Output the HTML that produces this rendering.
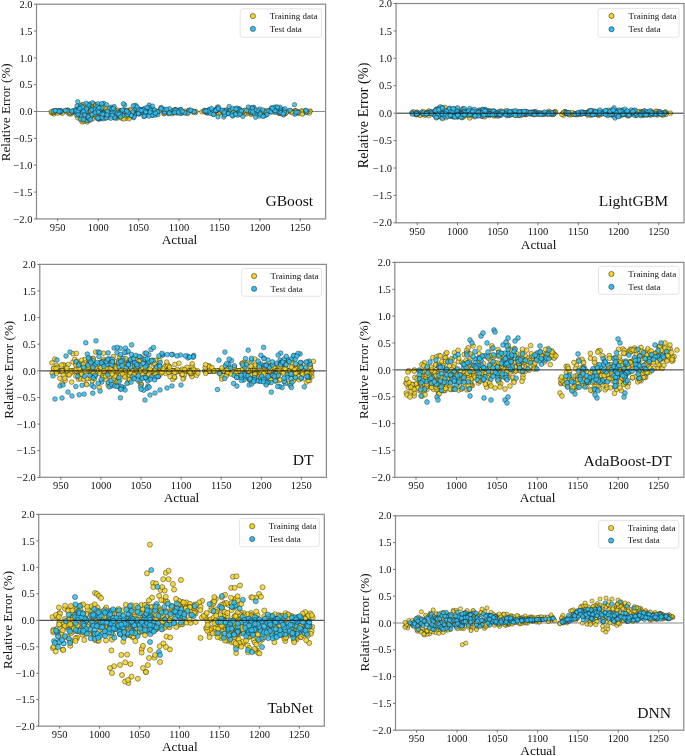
<!DOCTYPE html><html><head><meta charset="utf-8"><style>html,body{margin:0;padding:0;background:#fff;overflow:hidden}svg{display:block;filter:blur(0.4px);}text{font-family:"Liberation Serif",serif;fill:#111;}</style></head><body>
<svg width="685" height="756" viewBox="0 0 685 756">
<rect width="685" height="756" fill="#fff"/>
<clipPath id="cGBoost"><rect x="36.5" y="4.2" width="289.1" height="214.7"/></clipPath>
<line x1="36.5" y1="111.5" x2="325.6" y2="111.5" stroke="#8a8a8a" stroke-width="1.0"/>
<g clip-path="url(#cGBoost)" stroke="#1a1a1a" stroke-opacity="0.85" stroke-width="0.5">
<g fill="#F5D425" fill-opacity="0.85">
<circle cx="67.8" cy="111.6" r="2.25"/><circle cx="122.3" cy="114.5" r="2.25"/><circle cx="137.4" cy="113.4" r="2.25"/><circle cx="53.1" cy="111.1" r="2.25"/><circle cx="70.6" cy="113.0" r="2.25"/><circle cx="185.4" cy="111.1" r="2.25"/><circle cx="59.2" cy="111.4" r="2.25"/><circle cx="67.9" cy="110.2" r="2.25"/><circle cx="188.4" cy="110.8" r="2.25"/><circle cx="140.4" cy="109.7" r="2.25"/><circle cx="103.1" cy="112.4" r="2.25"/><circle cx="124.1" cy="113.9" r="2.25"/><circle cx="146.4" cy="113.5" r="2.25"/><circle cx="89.4" cy="114.5" r="2.25"/><circle cx="69.1" cy="113.7" r="2.25"/><circle cx="164.8" cy="113.0" r="2.25"/><circle cx="147.5" cy="112.3" r="2.25"/><circle cx="124.2" cy="111.5" r="2.25"/><circle cx="169.0" cy="112.6" r="2.25"/><circle cx="129.6" cy="115.3" r="2.25"/><circle cx="193.2" cy="112.2" r="2.25"/><circle cx="78.9" cy="111.1" r="2.25"/><circle cx="130.3" cy="109.5" r="2.25"/><circle cx="120.0" cy="110.7" r="2.25"/><circle cx="100.8" cy="114.2" r="2.25"/><circle cx="135.9" cy="113.7" r="2.25"/><circle cx="83.5" cy="108.2" r="2.25"/><circle cx="166.9" cy="110.6" r="2.25"/><circle cx="176.5" cy="112.0" r="2.25"/><circle cx="67.8" cy="112.5" r="2.25"/><circle cx="117.6" cy="114.4" r="2.25"/><circle cx="89.6" cy="110.2" r="2.25"/><circle cx="61.1" cy="111.5" r="2.25"/><circle cx="180.7" cy="111.1" r="2.25"/><circle cx="112.1" cy="110.7" r="2.25"/><circle cx="70.6" cy="111.8" r="2.25"/><circle cx="147.9" cy="111.7" r="2.25"/><circle cx="78.6" cy="113.0" r="2.25"/><circle cx="181.5" cy="112.3" r="2.25"/><circle cx="80.8" cy="115.7" r="2.25"/><circle cx="53.7" cy="111.9" r="2.25"/><circle cx="78.4" cy="114.4" r="2.25"/><circle cx="99.7" cy="110.5" r="2.25"/><circle cx="117.8" cy="110.1" r="2.25"/><circle cx="182.2" cy="111.6" r="2.25"/><circle cx="151.5" cy="111.4" r="2.25"/><circle cx="98.8" cy="111.8" r="2.25"/><circle cx="51.3" cy="112.7" r="2.25"/><circle cx="72.4" cy="112.3" r="2.25"/><circle cx="195.5" cy="112.7" r="2.25"/><circle cx="116.5" cy="111.1" r="2.25"/><circle cx="150.5" cy="112.1" r="2.25"/><circle cx="56.9" cy="111.4" r="2.25"/><circle cx="53.8" cy="113.9" r="2.25"/><circle cx="173.3" cy="110.4" r="2.25"/><circle cx="135.4" cy="113.8" r="2.25"/><circle cx="94.3" cy="115.1" r="2.25"/><circle cx="95.5" cy="112.9" r="2.25"/><circle cx="62.0" cy="112.9" r="2.25"/><circle cx="74.2" cy="111.6" r="2.25"/><circle cx="52.5" cy="112.9" r="2.25"/><circle cx="172.3" cy="113.8" r="2.25"/><circle cx="117.5" cy="114.4" r="2.25"/><circle cx="67.6" cy="110.2" r="2.25"/><circle cx="157.6" cy="112.0" r="2.25"/><circle cx="77.6" cy="117.8" r="2.25"/><circle cx="57.9" cy="112.1" r="2.25"/><circle cx="136.9" cy="110.4" r="2.25"/><circle cx="180.7" cy="109.8" r="2.25"/><circle cx="52.8" cy="112.6" r="2.25"/><circle cx="167.3" cy="111.2" r="2.25"/><circle cx="76.8" cy="110.0" r="2.25"/><circle cx="62.5" cy="113.2" r="2.25"/><circle cx="51.5" cy="111.7" r="2.25"/><circle cx="92.0" cy="107.7" r="2.25"/><circle cx="155.8" cy="111.1" r="2.25"/><circle cx="121.4" cy="111.4" r="2.25"/><circle cx="174.4" cy="110.3" r="2.25"/><circle cx="80.8" cy="111.4" r="2.25"/><circle cx="95.2" cy="110.9" r="2.25"/><circle cx="86.8" cy="112.7" r="2.25"/><circle cx="192.8" cy="111.1" r="2.25"/><circle cx="187.3" cy="113.4" r="2.25"/><circle cx="99.0" cy="110.0" r="2.25"/><circle cx="113.0" cy="113.6" r="2.25"/><circle cx="95.1" cy="116.4" r="2.25"/><circle cx="158.7" cy="111.3" r="2.25"/><circle cx="54.7" cy="111.5" r="2.25"/><circle cx="58.8" cy="110.9" r="2.25"/><circle cx="108.3" cy="113.7" r="2.25"/><circle cx="84.9" cy="108.9" r="2.25"/><circle cx="173.2" cy="112.8" r="2.25"/><circle cx="158.0" cy="112.3" r="2.25"/><circle cx="129.2" cy="111.9" r="2.25"/><circle cx="146.2" cy="110.0" r="2.25"/><circle cx="150.7" cy="111.7" r="2.25"/><circle cx="163.8" cy="113.8" r="2.25"/><circle cx="185.3" cy="113.1" r="2.25"/><circle cx="70.9" cy="114.1" r="2.25"/><circle cx="141.0" cy="110.0" r="2.25"/><circle cx="70.0" cy="113.5" r="2.25"/><circle cx="114.1" cy="110.0" r="2.25"/><circle cx="164.6" cy="113.5" r="2.25"/><circle cx="180.5" cy="112.1" r="2.25"/><circle cx="160.6" cy="109.9" r="2.25"/><circle cx="54.0" cy="112.4" r="2.25"/><circle cx="101.7" cy="113.2" r="2.25"/><circle cx="72.8" cy="111.9" r="2.25"/><circle cx="195.8" cy="111.4" r="2.25"/><circle cx="70.0" cy="112.7" r="2.25"/><circle cx="84.8" cy="110.7" r="2.25"/><circle cx="101.4" cy="110.6" r="2.25"/><circle cx="57.8" cy="113.3" r="2.25"/><circle cx="176.9" cy="113.1" r="2.25"/><circle cx="142.5" cy="112.5" r="2.25"/><circle cx="72.3" cy="112.4" r="2.25"/><circle cx="122.2" cy="113.0" r="2.25"/><circle cx="60.4" cy="110.8" r="2.25"/><circle cx="138.8" cy="110.7" r="2.25"/><circle cx="82.9" cy="114.1" r="2.25"/><circle cx="54.5" cy="111.2" r="2.25"/><circle cx="65.8" cy="110.8" r="2.25"/><circle cx="130.6" cy="110.4" r="2.25"/><circle cx="142.6" cy="109.7" r="2.25"/><circle cx="96.6" cy="113.5" r="2.25"/><circle cx="143.5" cy="110.4" r="2.25"/><circle cx="100.6" cy="110.0" r="2.25"/><circle cx="68.1" cy="110.9" r="2.25"/><circle cx="95.2" cy="114.5" r="2.25"/><circle cx="107.0" cy="110.5" r="2.25"/><circle cx="97.6" cy="106.9" r="2.25"/><circle cx="94.3" cy="108.9" r="2.25"/><circle cx="97.2" cy="105.8" r="2.25"/><circle cx="88.8" cy="107.5" r="2.25"/><circle cx="87.7" cy="108.6" r="2.25"/><circle cx="94.2" cy="104.0" r="2.25"/><circle cx="91.6" cy="107.5" r="2.25"/><circle cx="98.0" cy="107.4" r="2.25"/><circle cx="104.4" cy="107.4" r="2.25"/><circle cx="101.9" cy="108.7" r="2.25"/><circle cx="88.9" cy="104.4" r="2.25"/><circle cx="88.5" cy="105.6" r="2.25"/><circle cx="104.2" cy="108.0" r="2.25"/><circle cx="89.1" cy="106.8" r="2.25"/><circle cx="100.6" cy="108.8" r="2.25"/><circle cx="80.6" cy="106.8" r="2.25"/><circle cx="90.7" cy="105.0" r="2.25"/><circle cx="92.6" cy="109.0" r="2.25"/><circle cx="100.8" cy="107.5" r="2.25"/><circle cx="102.8" cy="106.9" r="2.25"/><circle cx="82.3" cy="104.6" r="2.25"/><circle cx="95.4" cy="104.8" r="2.25"/><circle cx="95.8" cy="107.3" r="2.25"/><circle cx="82.2" cy="107.4" r="2.25"/><circle cx="101.5" cy="106.5" r="2.25"/><circle cx="93.6" cy="107.1" r="2.25"/><circle cx="105.2" cy="107.5" r="2.25"/><circle cx="83.2" cy="104.6" r="2.25"/><circle cx="92.8" cy="104.1" r="2.25"/><circle cx="87.1" cy="106.0" r="2.25"/><circle cx="96.1" cy="107.0" r="2.25"/><circle cx="95.2" cy="105.9" r="2.25"/><circle cx="92.4" cy="109.2" r="2.25"/><circle cx="87.1" cy="106.4" r="2.25"/><circle cx="92.2" cy="108.0" r="2.25"/><circle cx="88.5" cy="105.8" r="2.25"/><circle cx="103.2" cy="106.3" r="2.25"/><circle cx="91.0" cy="106.2" r="2.25"/><circle cx="91.4" cy="106.7" r="2.25"/><circle cx="85.3" cy="105.5" r="2.25"/><circle cx="127.0" cy="115.8" r="2.25"/><circle cx="115.8" cy="117.1" r="2.25"/><circle cx="129.4" cy="117.2" r="2.25"/><circle cx="108.8" cy="116.8" r="2.25"/><circle cx="122.1" cy="118.5" r="2.25"/><circle cx="92.3" cy="119.0" r="2.25"/><circle cx="125.9" cy="118.3" r="2.25"/><circle cx="105.4" cy="116.8" r="2.25"/><circle cx="125.0" cy="116.8" r="2.25"/><circle cx="100.3" cy="116.7" r="2.25"/><circle cx="113.8" cy="116.0" r="2.25"/><circle cx="123.7" cy="119.0" r="2.25"/><circle cx="117.7" cy="118.1" r="2.25"/><circle cx="113.6" cy="117.2" r="2.25"/><circle cx="129.2" cy="118.8" r="2.25"/><circle cx="89.9" cy="118.4" r="2.25"/><circle cx="90.6" cy="116.2" r="2.25"/><circle cx="110.6" cy="116.0" r="2.25"/><circle cx="128.5" cy="115.9" r="2.25"/><circle cx="116.6" cy="117.3" r="2.25"/><circle cx="99.8" cy="117.9" r="2.25"/><circle cx="90.8" cy="116.1" r="2.25"/><circle cx="106.0" cy="118.0" r="2.25"/><circle cx="107.4" cy="117.0" r="2.25"/><circle cx="106.9" cy="115.7" r="2.25"/><circle cx="83.3" cy="121.8" r="2.25"/><circle cx="83.7" cy="119.0" r="2.25"/><circle cx="87.2" cy="122.0" r="2.25"/><circle cx="82.0" cy="121.9" r="2.25"/><circle cx="84.7" cy="119.1" r="2.25"/><circle cx="86.3" cy="120.3" r="2.25"/><circle cx="89.6" cy="120.4" r="2.25"/><circle cx="81.5" cy="118.5" r="2.25"/><circle cx="81.1" cy="119.5" r="2.25"/><circle cx="82.2" cy="120.0" r="2.25"/><circle cx="82.5" cy="118.8" r="2.25"/><circle cx="81.9" cy="117.4" r="2.25"/><circle cx="301.5" cy="110.8" r="2.25"/><circle cx="213.5" cy="113.5" r="2.25"/><circle cx="222.7" cy="112.6" r="2.25"/><circle cx="264.0" cy="113.0" r="2.25"/><circle cx="263.9" cy="113.2" r="2.25"/><circle cx="310.2" cy="111.0" r="2.25"/><circle cx="309.9" cy="111.5" r="2.25"/><circle cx="266.4" cy="113.1" r="2.25"/><circle cx="285.5" cy="113.5" r="2.25"/><circle cx="278.7" cy="112.8" r="2.25"/><circle cx="215.7" cy="110.6" r="2.25"/><circle cx="268.1" cy="111.9" r="2.25"/><circle cx="235.0" cy="111.7" r="2.25"/><circle cx="240.9" cy="112.6" r="2.25"/><circle cx="218.3" cy="112.5" r="2.25"/><circle cx="201.8" cy="111.8" r="2.25"/><circle cx="296.1" cy="111.0" r="2.25"/><circle cx="280.9" cy="111.1" r="2.25"/><circle cx="284.8" cy="113.3" r="2.25"/><circle cx="233.0" cy="112.9" r="2.25"/><circle cx="247.4" cy="110.1" r="2.25"/><circle cx="220.5" cy="111.8" r="2.25"/><circle cx="268.1" cy="112.0" r="2.25"/><circle cx="294.5" cy="113.0" r="2.25"/><circle cx="287.8" cy="111.4" r="2.25"/><circle cx="305.1" cy="111.8" r="2.25"/><circle cx="229.9" cy="110.3" r="2.25"/><circle cx="279.1" cy="113.4" r="2.25"/><circle cx="215.0" cy="110.0" r="2.25"/><circle cx="260.7" cy="113.8" r="2.25"/><circle cx="213.2" cy="113.2" r="2.25"/><circle cx="261.2" cy="111.3" r="2.25"/><circle cx="261.4" cy="112.1" r="2.25"/><circle cx="239.6" cy="111.0" r="2.25"/><circle cx="239.9" cy="113.2" r="2.25"/><circle cx="280.2" cy="113.6" r="2.25"/><circle cx="254.5" cy="113.3" r="2.25"/><circle cx="246.4" cy="113.9" r="2.25"/><circle cx="213.4" cy="113.7" r="2.25"/><circle cx="232.4" cy="114.2" r="2.25"/><circle cx="295.4" cy="111.6" r="2.25"/><circle cx="309.3" cy="113.1" r="2.25"/><circle cx="242.5" cy="112.8" r="2.25"/><circle cx="298.0" cy="111.8" r="2.25"/><circle cx="298.4" cy="113.3" r="2.25"/><circle cx="225.2" cy="114.0" r="2.25"/><circle cx="231.4" cy="110.2" r="2.25"/><circle cx="278.5" cy="110.3" r="2.25"/><circle cx="235.0" cy="113.8" r="2.25"/><circle cx="307.5" cy="112.4" r="2.25"/><circle cx="241.6" cy="113.6" r="2.25"/><circle cx="282.4" cy="110.4" r="2.25"/><circle cx="279.8" cy="112.6" r="2.25"/><circle cx="224.7" cy="113.3" r="2.25"/><circle cx="297.5" cy="112.1" r="2.25"/><circle cx="237.5" cy="110.3" r="2.25"/><circle cx="213.1" cy="114.2" r="2.25"/><circle cx="206.5" cy="112.7" r="2.25"/><circle cx="251.3" cy="114.2" r="2.25"/><circle cx="271.5" cy="110.6" r="2.25"/><circle cx="231.1" cy="112.7" r="2.25"/><circle cx="294.8" cy="110.7" r="2.25"/><circle cx="230.7" cy="112.3" r="2.25"/><circle cx="295.4" cy="111.1" r="2.25"/><circle cx="204.6" cy="110.3" r="2.25"/><circle cx="230.2" cy="111.7" r="2.25"/><circle cx="218.7" cy="114.1" r="2.25"/><circle cx="250.8" cy="114.1" r="2.25"/><circle cx="240.0" cy="113.1" r="2.25"/><circle cx="244.9" cy="112.6" r="2.25"/><circle cx="295.9" cy="111.2" r="2.25"/><circle cx="265.5" cy="111.0" r="2.25"/><circle cx="268.4" cy="111.7" r="2.25"/><circle cx="244.4" cy="113.5" r="2.25"/><circle cx="291.0" cy="111.1" r="2.25"/><circle cx="256.9" cy="112.3" r="2.25"/><circle cx="284.1" cy="110.3" r="2.25"/><circle cx="302.9" cy="113.5" r="2.25"/><circle cx="269.2" cy="111.1" r="2.25"/><circle cx="249.4" cy="112.8" r="2.25"/><circle cx="230.3" cy="110.9" r="2.25"/><circle cx="302.6" cy="111.4" r="2.25"/><circle cx="286.2" cy="112.4" r="2.25"/><circle cx="290.1" cy="110.8" r="2.25"/><circle cx="225.6" cy="111.3" r="2.25"/><circle cx="249.6" cy="111.4" r="2.25"/><circle cx="299.5" cy="112.9" r="2.25"/><circle cx="228.3" cy="112.0" r="2.25"/><circle cx="291.7" cy="111.8" r="2.25"/><circle cx="261.0" cy="113.1" r="2.25"/><circle cx="225.3" cy="113.8" r="2.25"/><circle cx="242.8" cy="111.9" r="2.25"/><circle cx="209.4" cy="110.6" r="2.25"/><circle cx="276.0" cy="111.1" r="2.25"/><circle cx="282.0" cy="111.3" r="2.25"/><circle cx="204.1" cy="111.3" r="2.25"/><circle cx="234.5" cy="111.3" r="2.25"/><circle cx="286.7" cy="111.7" r="2.25"/><circle cx="223.2" cy="110.5" r="2.25"/><circle cx="260.8" cy="112.7" r="2.25"/><circle cx="290.8" cy="112.0" r="2.25"/><circle cx="264.5" cy="111.7" r="2.25"/><circle cx="214.5" cy="110.5" r="2.25"/><circle cx="302.3" cy="114.2" r="2.25"/><circle cx="284.2" cy="111.6" r="2.25"/><circle cx="263.9" cy="111.5" r="2.25"/><circle cx="238.0" cy="112.0" r="2.25"/><circle cx="265.8" cy="113.9" r="2.25"/><circle cx="244.6" cy="110.4" r="2.25"/><circle cx="214.1" cy="112.5" r="2.25"/><circle cx="214.5" cy="114.0" r="2.25"/><circle cx="205.9" cy="112.3" r="2.25"/><circle cx="219.9" cy="112.0" r="2.25"/><circle cx="228.3" cy="113.6" r="2.25"/><circle cx="271.8" cy="112.1" r="2.25"/><circle cx="265.6" cy="113.5" r="2.25"/><circle cx="266.8" cy="110.5" r="2.25"/><circle cx="292.6" cy="112.9" r="2.25"/><circle cx="211.5" cy="111.7" r="2.25"/><circle cx="244.3" cy="111.2" r="2.25"/><circle cx="209.7" cy="110.0" r="2.25"/><circle cx="247.6" cy="110.7" r="2.25"/><circle cx="209.7" cy="111.7" r="2.25"/><circle cx="208.3" cy="112.0" r="2.25"/><circle cx="212.5" cy="112.2" r="2.25"/><circle cx="244.4" cy="110.4" r="2.25"/><circle cx="286.0" cy="113.1" r="2.25"/><circle cx="232.3" cy="111.3" r="2.25"/><circle cx="283.6" cy="112.2" r="2.25"/><circle cx="226.9" cy="111.7" r="2.25"/>
</g>
<g fill="#30BEF0" fill-opacity="0.85">
<circle cx="67.0" cy="110.7" r="2.25"/><circle cx="72.0" cy="112.0" r="2.25"/><circle cx="65.2" cy="110.4" r="2.25"/><circle cx="61.0" cy="110.8" r="2.25"/><circle cx="74.6" cy="111.4" r="2.25"/><circle cx="56.1" cy="110.7" r="2.25"/><circle cx="53.1" cy="111.1" r="2.25"/><circle cx="73.4" cy="110.7" r="2.25"/><circle cx="58.3" cy="111.2" r="2.25"/><circle cx="55.6" cy="110.7" r="2.25"/><circle cx="61.1" cy="111.7" r="2.25"/><circle cx="60.1" cy="111.9" r="2.25"/><circle cx="60.4" cy="111.0" r="2.25"/><circle cx="72.0" cy="110.9" r="2.25"/><circle cx="58.9" cy="111.2" r="2.25"/><circle cx="55.2" cy="110.6" r="2.25"/><circle cx="124.7" cy="105.1" r="2.25"/><circle cx="180.2" cy="109.6" r="2.25"/><circle cx="77.8" cy="101.7" r="2.25"/><circle cx="87.5" cy="120.5" r="2.25"/><circle cx="80.3" cy="119.0" r="2.25"/><circle cx="116.4" cy="116.1" r="2.25"/><circle cx="111.1" cy="107.2" r="2.25"/><circle cx="166.9" cy="110.4" r="2.25"/><circle cx="81.3" cy="110.1" r="2.25"/><circle cx="93.4" cy="109.2" r="2.25"/><circle cx="180.2" cy="110.4" r="2.25"/><circle cx="77.0" cy="106.0" r="2.25"/><circle cx="99.1" cy="119.3" r="2.25"/><circle cx="112.0" cy="111.8" r="2.25"/><circle cx="75.6" cy="109.7" r="2.25"/><circle cx="101.5" cy="111.3" r="2.25"/><circle cx="133.6" cy="117.6" r="2.25"/><circle cx="135.0" cy="114.6" r="2.25"/><circle cx="134.2" cy="116.9" r="2.25"/><circle cx="138.8" cy="110.4" r="2.25"/><circle cx="135.0" cy="105.9" r="2.25"/><circle cx="78.4" cy="115.0" r="2.25"/><circle cx="139.2" cy="113.5" r="2.25"/><circle cx="131.6" cy="113.9" r="2.25"/><circle cx="95.2" cy="110.6" r="2.25"/><circle cx="114.4" cy="114.5" r="2.25"/><circle cx="96.7" cy="108.5" r="2.25"/><circle cx="166.7" cy="110.6" r="2.25"/><circle cx="100.6" cy="109.2" r="2.25"/><circle cx="89.9" cy="105.9" r="2.25"/><circle cx="156.0" cy="111.3" r="2.25"/><circle cx="151.4" cy="110.5" r="2.25"/><circle cx="163.9" cy="112.1" r="2.25"/><circle cx="141.7" cy="111.7" r="2.25"/><circle cx="114.2" cy="106.6" r="2.25"/><circle cx="120.3" cy="111.2" r="2.25"/><circle cx="128.7" cy="113.8" r="2.25"/><circle cx="132.8" cy="113.7" r="2.25"/><circle cx="181.6" cy="113.0" r="2.25"/><circle cx="99.4" cy="111.5" r="2.25"/><circle cx="152.2" cy="113.5" r="2.25"/><circle cx="76.6" cy="115.0" r="2.25"/><circle cx="92.4" cy="102.7" r="2.25"/><circle cx="181.4" cy="111.8" r="2.25"/><circle cx="97.9" cy="103.7" r="2.25"/><circle cx="123.9" cy="110.0" r="2.25"/><circle cx="175.7" cy="109.7" r="2.25"/><circle cx="139.0" cy="114.1" r="2.25"/><circle cx="121.6" cy="110.7" r="2.25"/><circle cx="144.6" cy="114.8" r="2.25"/><circle cx="189.4" cy="110.3" r="2.25"/><circle cx="180.9" cy="109.6" r="2.25"/><circle cx="91.7" cy="109.9" r="2.25"/><circle cx="87.9" cy="105.1" r="2.25"/><circle cx="101.7" cy="118.4" r="2.25"/><circle cx="88.5" cy="118.1" r="2.25"/><circle cx="151.7" cy="108.4" r="2.25"/><circle cx="160.9" cy="108.2" r="2.25"/><circle cx="87.9" cy="114.8" r="2.25"/><circle cx="81.8" cy="113.1" r="2.25"/><circle cx="105.2" cy="113.7" r="2.25"/><circle cx="142.8" cy="112.3" r="2.25"/><circle cx="152.7" cy="115.4" r="2.25"/><circle cx="118.9" cy="115.9" r="2.25"/><circle cx="137.6" cy="111.9" r="2.25"/><circle cx="175.7" cy="109.7" r="2.25"/><circle cx="168.7" cy="113.7" r="2.25"/><circle cx="85.6" cy="117.0" r="2.25"/><circle cx="145.6" cy="115.5" r="2.25"/><circle cx="153.1" cy="109.7" r="2.25"/><circle cx="173.9" cy="112.5" r="2.25"/><circle cx="114.4" cy="112.1" r="2.25"/><circle cx="89.4" cy="119.2" r="2.25"/><circle cx="119.9" cy="115.5" r="2.25"/><circle cx="109.7" cy="108.4" r="2.25"/><circle cx="112.2" cy="109.4" r="2.25"/><circle cx="156.9" cy="112.9" r="2.25"/><circle cx="138.9" cy="109.8" r="2.25"/><circle cx="142.2" cy="110.8" r="2.25"/><circle cx="139.2" cy="110.9" r="2.25"/><circle cx="88.1" cy="106.8" r="2.25"/><circle cx="80.8" cy="115.0" r="2.25"/><circle cx="112.0" cy="109.1" r="2.25"/><circle cx="163.8" cy="110.1" r="2.25"/><circle cx="138.5" cy="112.7" r="2.25"/><circle cx="155.3" cy="115.1" r="2.25"/><circle cx="135.8" cy="108.1" r="2.25"/><circle cx="154.4" cy="109.9" r="2.25"/><circle cx="194.4" cy="111.5" r="2.25"/><circle cx="145.8" cy="111.6" r="2.25"/><circle cx="165.6" cy="111.6" r="2.25"/><circle cx="188.2" cy="112.9" r="2.25"/><circle cx="149.0" cy="109.9" r="2.25"/><circle cx="157.9" cy="114.8" r="2.25"/><circle cx="82.5" cy="112.1" r="2.25"/><circle cx="78.4" cy="109.0" r="2.25"/><circle cx="176.9" cy="112.3" r="2.25"/><circle cx="96.7" cy="106.9" r="2.25"/><circle cx="103.5" cy="113.3" r="2.25"/><circle cx="87.6" cy="115.6" r="2.25"/><circle cx="136.9" cy="109.1" r="2.25"/><circle cx="78.0" cy="114.1" r="2.25"/><circle cx="156.1" cy="112.9" r="2.25"/><circle cx="102.6" cy="114.2" r="2.25"/><circle cx="149.2" cy="105.0" r="2.25"/><circle cx="174.5" cy="110.2" r="2.25"/><circle cx="143.3" cy="109.4" r="2.25"/><circle cx="115.1" cy="118.3" r="2.25"/><circle cx="135.7" cy="108.6" r="2.25"/><circle cx="164.6" cy="112.1" r="2.25"/><circle cx="145.5" cy="109.2" r="2.25"/><circle cx="98.5" cy="118.6" r="2.25"/><circle cx="76.1" cy="110.9" r="2.25"/><circle cx="168.4" cy="111.1" r="2.25"/><circle cx="135.7" cy="105.4" r="2.25"/><circle cx="80.8" cy="105.6" r="2.25"/><circle cx="127.9" cy="114.7" r="2.25"/><circle cx="132.1" cy="113.0" r="2.25"/><circle cx="102.3" cy="117.6" r="2.25"/><circle cx="169.6" cy="108.7" r="2.25"/><circle cx="97.2" cy="112.1" r="2.25"/><circle cx="88.1" cy="116.0" r="2.25"/><circle cx="103.6" cy="118.8" r="2.25"/><circle cx="106.4" cy="117.8" r="2.25"/><circle cx="169.4" cy="113.1" r="2.25"/><circle cx="139.4" cy="109.2" r="2.25"/><circle cx="86.2" cy="111.0" r="2.25"/><circle cx="112.1" cy="113.1" r="2.25"/><circle cx="84.6" cy="114.8" r="2.25"/><circle cx="144.7" cy="108.4" r="2.25"/><circle cx="164.2" cy="109.3" r="2.25"/><circle cx="83.6" cy="119.5" r="2.25"/><circle cx="122.6" cy="115.5" r="2.25"/><circle cx="97.3" cy="118.6" r="2.25"/><circle cx="101.5" cy="113.6" r="2.25"/><circle cx="149.6" cy="109.0" r="2.25"/><circle cx="189.3" cy="110.2" r="2.25"/><circle cx="100.7" cy="114.0" r="2.25"/><circle cx="127.0" cy="110.3" r="2.25"/><circle cx="103.6" cy="103.3" r="2.25"/><circle cx="80.8" cy="107.1" r="2.25"/><circle cx="133.4" cy="105.8" r="2.25"/><circle cx="89.4" cy="104.3" r="2.25"/><circle cx="142.9" cy="110.6" r="2.25"/><circle cx="149.5" cy="107.9" r="2.25"/><circle cx="88.0" cy="105.1" r="2.25"/><circle cx="132.7" cy="112.0" r="2.25"/><circle cx="94.0" cy="114.3" r="2.25"/><circle cx="151.8" cy="112.6" r="2.25"/><circle cx="101.7" cy="117.4" r="2.25"/><circle cx="143.1" cy="110.0" r="2.25"/><circle cx="138.5" cy="109.7" r="2.25"/><circle cx="130.8" cy="115.0" r="2.25"/><circle cx="95.1" cy="109.3" r="2.25"/><circle cx="161.2" cy="107.4" r="2.25"/><circle cx="108.3" cy="115.1" r="2.25"/><circle cx="152.5" cy="106.1" r="2.25"/><circle cx="120.2" cy="112.5" r="2.25"/><circle cx="117.6" cy="112.5" r="2.25"/><circle cx="145.6" cy="112.0" r="2.25"/><circle cx="106.6" cy="104.7" r="2.25"/><circle cx="151.8" cy="115.4" r="2.25"/><circle cx="117.2" cy="113.8" r="2.25"/><circle cx="148.9" cy="107.8" r="2.25"/><circle cx="143.9" cy="116.5" r="2.25"/><circle cx="181.6" cy="113.2" r="2.25"/><circle cx="113.4" cy="108.4" r="2.25"/><circle cx="107.6" cy="111.9" r="2.25"/><circle cx="194.1" cy="111.8" r="2.25"/><circle cx="124.4" cy="111.1" r="2.25"/><circle cx="114.6" cy="117.2" r="2.25"/><circle cx="144.3" cy="116.2" r="2.25"/><circle cx="98.0" cy="117.9" r="2.25"/><circle cx="184.5" cy="112.4" r="2.25"/><circle cx="150.4" cy="110.2" r="2.25"/><circle cx="138.4" cy="113.6" r="2.25"/><circle cx="101.9" cy="107.8" r="2.25"/><circle cx="157.6" cy="111.7" r="2.25"/><circle cx="176.0" cy="110.4" r="2.25"/><circle cx="155.3" cy="113.2" r="2.25"/><circle cx="174.9" cy="112.6" r="2.25"/><circle cx="83.7" cy="110.8" r="2.25"/><circle cx="148.9" cy="116.1" r="2.25"/><circle cx="166.5" cy="109.3" r="2.25"/><circle cx="120.2" cy="113.8" r="2.25"/><circle cx="82.5" cy="107.2" r="2.25"/><circle cx="127.1" cy="111.1" r="2.25"/><circle cx="97.5" cy="110.2" r="2.25"/><circle cx="78.2" cy="110.9" r="2.25"/><circle cx="179.5" cy="113.3" r="2.25"/><circle cx="161.1" cy="108.7" r="2.25"/><circle cx="137.1" cy="106.8" r="2.25"/><circle cx="150.0" cy="112.2" r="2.25"/><circle cx="141.1" cy="110.5" r="2.25"/><circle cx="118.9" cy="114.3" r="2.25"/><circle cx="86.1" cy="103.2" r="2.25"/><circle cx="101.7" cy="103.7" r="2.25"/><circle cx="123.3" cy="103.7" r="2.25"/><circle cx="131.3" cy="115.6" r="2.25"/><circle cx="102.9" cy="114.2" r="2.25"/><circle cx="86.5" cy="108.8" r="2.25"/><circle cx="107.0" cy="114.9" r="2.25"/><circle cx="92.0" cy="114.6" r="2.25"/><circle cx="178.5" cy="112.1" r="2.25"/><circle cx="95.3" cy="112.5" r="2.25"/><circle cx="112.2" cy="115.4" r="2.25"/><circle cx="127.2" cy="114.7" r="2.25"/><circle cx="98.4" cy="112.0" r="2.25"/><circle cx="122.4" cy="110.0" r="2.25"/><circle cx="128.2" cy="112.6" r="2.25"/><circle cx="79.8" cy="108.6" r="2.25"/><circle cx="182.3" cy="111.3" r="2.25"/><circle cx="126.7" cy="111.0" r="2.25"/><circle cx="88.4" cy="117.1" r="2.25"/><circle cx="190.8" cy="110.2" r="2.25"/><circle cx="90.6" cy="119.5" r="2.25"/><circle cx="147.1" cy="107.5" r="2.25"/><circle cx="120.7" cy="117.0" r="2.25"/><circle cx="99.0" cy="107.8" r="2.25"/><circle cx="110.8" cy="118.3" r="2.25"/><circle cx="281.2" cy="109.4" r="2.25"/><circle cx="230.2" cy="109.9" r="2.25"/><circle cx="275.2" cy="112.4" r="2.25"/><circle cx="290.0" cy="110.3" r="2.25"/><circle cx="217.4" cy="107.2" r="2.25"/><circle cx="238.5" cy="112.5" r="2.25"/><circle cx="295.8" cy="113.2" r="2.25"/><circle cx="253.8" cy="107.3" r="2.25"/><circle cx="220.9" cy="110.2" r="2.25"/><circle cx="214.4" cy="111.7" r="2.25"/><circle cx="218.0" cy="116.9" r="2.25"/><circle cx="216.3" cy="110.7" r="2.25"/><circle cx="241.6" cy="111.7" r="2.25"/><circle cx="283.6" cy="110.3" r="2.25"/><circle cx="251.1" cy="112.6" r="2.25"/><circle cx="215.5" cy="110.5" r="2.25"/><circle cx="240.9" cy="110.6" r="2.25"/><circle cx="254.3" cy="113.6" r="2.25"/><circle cx="250.8" cy="112.0" r="2.25"/><circle cx="270.1" cy="110.2" r="2.25"/><circle cx="274.1" cy="110.0" r="2.25"/><circle cx="281.0" cy="109.4" r="2.25"/><circle cx="259.6" cy="109.0" r="2.25"/><circle cx="207.3" cy="111.0" r="2.25"/><circle cx="283.0" cy="109.5" r="2.25"/><circle cx="284.4" cy="112.2" r="2.25"/><circle cx="279.1" cy="111.9" r="2.25"/><circle cx="249.7" cy="108.1" r="2.25"/><circle cx="295.0" cy="114.2" r="2.25"/><circle cx="215.2" cy="110.2" r="2.25"/><circle cx="280.2" cy="108.8" r="2.25"/><circle cx="265.8" cy="115.3" r="2.25"/><circle cx="276.1" cy="107.1" r="2.25"/><circle cx="212.2" cy="110.0" r="2.25"/><circle cx="305.5" cy="110.6" r="2.25"/><circle cx="207.3" cy="112.9" r="2.25"/><circle cx="223.4" cy="112.0" r="2.25"/><circle cx="257.5" cy="114.8" r="2.25"/><circle cx="263.4" cy="116.0" r="2.25"/><circle cx="223.7" cy="117.0" r="2.25"/><circle cx="234.5" cy="109.0" r="2.25"/><circle cx="298.1" cy="112.2" r="2.25"/><circle cx="238.1" cy="111.3" r="2.25"/><circle cx="250.5" cy="110.6" r="2.25"/><circle cx="216.9" cy="110.1" r="2.25"/><circle cx="262.7" cy="109.9" r="2.25"/><circle cx="276.2" cy="111.0" r="2.25"/><circle cx="280.0" cy="107.2" r="2.25"/><circle cx="229.2" cy="106.5" r="2.25"/><circle cx="242.8" cy="116.4" r="2.25"/><circle cx="271.5" cy="107.8" r="2.25"/><circle cx="306.1" cy="112.2" r="2.25"/><circle cx="283.1" cy="112.0" r="2.25"/><circle cx="227.6" cy="113.5" r="2.25"/><circle cx="212.0" cy="112.3" r="2.25"/><circle cx="238.6" cy="111.5" r="2.25"/><circle cx="259.1" cy="112.5" r="2.25"/><circle cx="232.9" cy="116.1" r="2.25"/><circle cx="285.0" cy="108.8" r="2.25"/><circle cx="231.6" cy="113.9" r="2.25"/><circle cx="218.3" cy="107.0" r="2.25"/><circle cx="266.3" cy="112.0" r="2.25"/><circle cx="282.0" cy="113.5" r="2.25"/><circle cx="226.3" cy="109.9" r="2.25"/><circle cx="239.2" cy="108.6" r="2.25"/><circle cx="231.9" cy="115.3" r="2.25"/><circle cx="207.5" cy="111.9" r="2.25"/><circle cx="274.5" cy="107.2" r="2.25"/><circle cx="210.4" cy="113.4" r="2.25"/><circle cx="267.2" cy="114.4" r="2.25"/><circle cx="268.8" cy="111.0" r="2.25"/><circle cx="259.1" cy="116.1" r="2.25"/><circle cx="209.2" cy="109.4" r="2.25"/><circle cx="208.4" cy="111.0" r="2.25"/><circle cx="257.3" cy="110.4" r="2.25"/><circle cx="254.9" cy="109.6" r="2.25"/><circle cx="205.3" cy="110.8" r="2.25"/><circle cx="204.5" cy="111.1" r="2.25"/><circle cx="283.5" cy="114.9" r="2.25"/><circle cx="238.4" cy="109.3" r="2.25"/><circle cx="277.7" cy="108.0" r="2.25"/><circle cx="225.7" cy="114.2" r="2.25"/><circle cx="232.5" cy="108.4" r="2.25"/><circle cx="296.1" cy="112.2" r="2.25"/><circle cx="225.5" cy="110.8" r="2.25"/><circle cx="246.7" cy="110.3" r="2.25"/><circle cx="255.6" cy="117.3" r="2.25"/><circle cx="277.3" cy="107.0" r="2.25"/><circle cx="237.8" cy="115.2" r="2.25"/><circle cx="271.0" cy="111.8" r="2.25"/><circle cx="228.0" cy="113.4" r="2.25"/><circle cx="274.1" cy="110.1" r="2.25"/><circle cx="206.0" cy="111.0" r="2.25"/><circle cx="224.6" cy="111.3" r="2.25"/><circle cx="211.4" cy="108.5" r="2.25"/><circle cx="215.7" cy="110.6" r="2.25"/><circle cx="280.9" cy="112.6" r="2.25"/><circle cx="252.4" cy="107.6" r="2.25"/><circle cx="284.6" cy="112.2" r="2.25"/><circle cx="306.4" cy="111.8" r="2.25"/><circle cx="224.6" cy="114.9" r="2.25"/><circle cx="283.2" cy="113.9" r="2.25"/><circle cx="305.9" cy="110.3" r="2.25"/><circle cx="236.8" cy="108.1" r="2.25"/><circle cx="213.5" cy="114.4" r="2.25"/><circle cx="252.3" cy="108.1" r="2.25"/><circle cx="260.3" cy="114.1" r="2.25"/><circle cx="275.0" cy="110.7" r="2.25"/><circle cx="263.1" cy="116.4" r="2.25"/><circle cx="236.0" cy="109.1" r="2.25"/><circle cx="222.0" cy="110.2" r="2.25"/><circle cx="239.9" cy="114.1" r="2.25"/><circle cx="252.7" cy="111.8" r="2.25"/><circle cx="224.1" cy="112.4" r="2.25"/><circle cx="235.7" cy="114.2" r="2.25"/><circle cx="294.5" cy="104.7" r="2.25"/><circle cx="248.4" cy="107.0" r="2.25"/><circle cx="218.3" cy="108.7" r="2.25"/><circle cx="272.6" cy="108.3" r="2.25"/><circle cx="241.4" cy="110.9" r="2.25"/>
</g>
</g>
<rect x="36.5" y="4.2" width="289.1" height="214.7" fill="none" stroke="#8c8c8c" stroke-width="1.25"/>
<line x1="34.0" y1="4.2" x2="36.5" y2="4.2" stroke="#555" stroke-width="0.8"/>
<text x="32.5" y="7.8" font-size="10.5" text-anchor="end">2.0</text>
<line x1="34.0" y1="31.0" x2="36.5" y2="31.0" stroke="#555" stroke-width="0.8"/>
<text x="32.5" y="34.6" font-size="10.5" text-anchor="end">1.5</text>
<line x1="34.0" y1="57.9" x2="36.5" y2="57.9" stroke="#555" stroke-width="0.8"/>
<text x="32.5" y="61.5" font-size="10.5" text-anchor="end">1.0</text>
<line x1="34.0" y1="84.7" x2="36.5" y2="84.7" stroke="#555" stroke-width="0.8"/>
<text x="32.5" y="88.3" font-size="10.5" text-anchor="end">0.5</text>
<line x1="34.0" y1="111.5" x2="36.5" y2="111.5" stroke="#555" stroke-width="0.8"/>
<text x="32.5" y="115.1" font-size="10.5" text-anchor="end">0.0</text>
<line x1="34.0" y1="138.4" x2="36.5" y2="138.4" stroke="#555" stroke-width="0.8"/>
<text x="32.5" y="142.0" font-size="10.5" text-anchor="end">−0.5</text>
<line x1="34.0" y1="165.2" x2="36.5" y2="165.2" stroke="#555" stroke-width="0.8"/>
<text x="32.5" y="168.8" font-size="10.5" text-anchor="end">−1.0</text>
<line x1="34.0" y1="192.1" x2="36.5" y2="192.1" stroke="#555" stroke-width="0.8"/>
<text x="32.5" y="195.7" font-size="10.5" text-anchor="end">−1.5</text>
<line x1="34.0" y1="218.9" x2="36.5" y2="218.9" stroke="#555" stroke-width="0.8"/>
<text x="32.5" y="222.5" font-size="10.5" text-anchor="end">−2.0</text>
<line x1="57.7" y1="218.9" x2="57.7" y2="221.4" stroke="#555" stroke-width="0.8"/>
<text x="57.7" y="230.9" font-size="10.5" text-anchor="middle">950</text>
<line x1="98.2" y1="218.9" x2="98.2" y2="221.4" stroke="#555" stroke-width="0.8"/>
<text x="98.2" y="230.9" font-size="10.5" text-anchor="middle">1000</text>
<line x1="138.6" y1="218.9" x2="138.6" y2="221.4" stroke="#555" stroke-width="0.8"/>
<text x="138.6" y="230.9" font-size="10.5" text-anchor="middle">1050</text>
<line x1="179.0" y1="218.9" x2="179.0" y2="221.4" stroke="#555" stroke-width="0.8"/>
<text x="179.0" y="230.9" font-size="10.5" text-anchor="middle">1100</text>
<line x1="219.5" y1="218.9" x2="219.5" y2="221.4" stroke="#555" stroke-width="0.8"/>
<text x="219.5" y="230.9" font-size="10.5" text-anchor="middle">1150</text>
<line x1="259.9" y1="218.9" x2="259.9" y2="221.4" stroke="#555" stroke-width="0.8"/>
<text x="259.9" y="230.9" font-size="10.5" text-anchor="middle">1200</text>
<line x1="300.3" y1="218.9" x2="300.3" y2="221.4" stroke="#555" stroke-width="0.8"/>
<text x="300.3" y="230.9" font-size="10.5" text-anchor="middle">1250</text>
<text x="179.5" y="244.4" font-size="13.4" text-anchor="middle">Actual</text>
<text transform="translate(10.3,112.3) rotate(-90)" font-size="13.2" text-anchor="middle">Relative Error (%)</text>
<text x="313.1" y="206.3" font-size="15.6" text-anchor="end">GBoost</text>
<rect x="240.2" y="8.8" width="81.3" height="28.4" rx="2" fill="#fff" fill-opacity="0.8" stroke="#ddd" stroke-width="0.8"/>
<circle cx="252.9" cy="16.1" r="2.6" fill="#F5D425" stroke="#1a1a1a" stroke-width="0.5"/>
<circle cx="252.9" cy="28.8" r="2.6" fill="#30BEF0" stroke="#1a1a1a" stroke-width="0.5"/>
<text x="269.7" y="18.8" font-size="9">Training data</text>
<text x="269.7" y="31.5" font-size="9">Test data</text>
<clipPath id="cLightGBM"><rect x="396.1" y="3.5" width="287.9" height="219.3"/></clipPath>
<g clip-path="url(#cLightGBM)" stroke="#1a1a1a" stroke-opacity="0.85" stroke-width="0.5">
<g fill="#F5D425" fill-opacity="0.85">
<circle cx="462.9" cy="109.0" r="2.4"/><circle cx="438.4" cy="109.4" r="2.4"/><circle cx="422.2" cy="112.9" r="2.4"/><circle cx="504.9" cy="113.3" r="2.4"/><circle cx="476.5" cy="112.5" r="2.4"/><circle cx="553.9" cy="113.6" r="2.4"/><circle cx="534.0" cy="114.4" r="2.4"/><circle cx="531.9" cy="112.2" r="2.4"/><circle cx="416.7" cy="112.1" r="2.4"/><circle cx="490.6" cy="114.4" r="2.4"/><circle cx="498.2" cy="114.0" r="2.4"/><circle cx="416.5" cy="114.1" r="2.4"/><circle cx="479.1" cy="115.2" r="2.4"/><circle cx="457.5" cy="116.8" r="2.4"/><circle cx="440.9" cy="116.9" r="2.4"/><circle cx="526.0" cy="111.7" r="2.4"/><circle cx="470.9" cy="114.3" r="2.4"/><circle cx="424.3" cy="113.0" r="2.4"/><circle cx="463.3" cy="117.0" r="2.4"/><circle cx="543.3" cy="113.8" r="2.4"/><circle cx="466.3" cy="111.2" r="2.4"/><circle cx="436.6" cy="117.5" r="2.4"/><circle cx="419.0" cy="114.2" r="2.4"/><circle cx="484.3" cy="111.3" r="2.4"/><circle cx="507.0" cy="113.7" r="2.4"/><circle cx="469.7" cy="117.9" r="2.4"/><circle cx="533.5" cy="113.8" r="2.4"/><circle cx="486.1" cy="112.3" r="2.4"/><circle cx="526.1" cy="114.7" r="2.4"/><circle cx="492.0" cy="111.6" r="2.4"/><circle cx="495.8" cy="112.6" r="2.4"/><circle cx="469.6" cy="114.2" r="2.4"/><circle cx="425.3" cy="113.3" r="2.4"/><circle cx="512.5" cy="111.8" r="2.4"/><circle cx="535.0" cy="113.1" r="2.4"/><circle cx="515.5" cy="114.9" r="2.4"/><circle cx="470.7" cy="112.1" r="2.4"/><circle cx="422.0" cy="113.7" r="2.4"/><circle cx="436.4" cy="113.9" r="2.4"/><circle cx="490.0" cy="111.8" r="2.4"/><circle cx="505.8" cy="112.5" r="2.4"/><circle cx="413.1" cy="111.8" r="2.4"/><circle cx="547.4" cy="113.4" r="2.4"/><circle cx="513.9" cy="114.0" r="2.4"/><circle cx="515.1" cy="113.8" r="2.4"/><circle cx="554.0" cy="112.7" r="2.4"/><circle cx="500.2" cy="114.8" r="2.4"/><circle cx="481.4" cy="114.2" r="2.4"/><circle cx="442.1" cy="116.9" r="2.4"/><circle cx="509.6" cy="114.6" r="2.4"/><circle cx="511.7" cy="113.5" r="2.4"/><circle cx="548.8" cy="111.3" r="2.4"/><circle cx="546.1" cy="113.7" r="2.4"/><circle cx="481.2" cy="112.4" r="2.4"/><circle cx="534.1" cy="113.0" r="2.4"/><circle cx="549.6" cy="113.4" r="2.4"/><circle cx="470.3" cy="113.1" r="2.4"/><circle cx="498.1" cy="115.6" r="2.4"/><circle cx="496.2" cy="113.7" r="2.4"/><circle cx="479.6" cy="112.9" r="2.4"/><circle cx="477.9" cy="111.3" r="2.4"/><circle cx="441.7" cy="117.0" r="2.4"/><circle cx="436.7" cy="115.2" r="2.4"/><circle cx="454.4" cy="114.9" r="2.4"/><circle cx="496.0" cy="115.5" r="2.4"/><circle cx="505.8" cy="110.9" r="2.4"/><circle cx="529.3" cy="112.5" r="2.4"/><circle cx="451.2" cy="111.0" r="2.4"/><circle cx="484.8" cy="115.8" r="2.4"/><circle cx="475.6" cy="111.8" r="2.4"/><circle cx="434.2" cy="114.1" r="2.4"/><circle cx="553.1" cy="114.5" r="2.4"/><circle cx="458.4" cy="113.5" r="2.4"/><circle cx="510.4" cy="112.6" r="2.4"/><circle cx="510.5" cy="112.4" r="2.4"/><circle cx="522.2" cy="113.9" r="2.4"/><circle cx="531.3" cy="113.7" r="2.4"/><circle cx="547.9" cy="113.6" r="2.4"/><circle cx="456.2" cy="109.9" r="2.4"/><circle cx="507.1" cy="114.5" r="2.4"/><circle cx="455.6" cy="113.8" r="2.4"/><circle cx="452.8" cy="111.9" r="2.4"/><circle cx="525.4" cy="113.8" r="2.4"/><circle cx="519.0" cy="115.5" r="2.4"/><circle cx="516.5" cy="115.2" r="2.4"/><circle cx="427.2" cy="113.8" r="2.4"/><circle cx="550.9" cy="114.3" r="2.4"/><circle cx="501.3" cy="111.2" r="2.4"/><circle cx="477.3" cy="113.1" r="2.4"/><circle cx="543.0" cy="113.2" r="2.4"/><circle cx="425.6" cy="114.8" r="2.4"/><circle cx="453.3" cy="111.1" r="2.4"/><circle cx="430.2" cy="113.7" r="2.4"/><circle cx="457.2" cy="116.7" r="2.4"/><circle cx="524.5" cy="114.2" r="2.4"/><circle cx="431.1" cy="113.4" r="2.4"/><circle cx="520.8" cy="114.2" r="2.4"/><circle cx="496.8" cy="115.0" r="2.4"/><circle cx="457.5" cy="108.9" r="2.4"/><circle cx="533.7" cy="112.1" r="2.4"/><circle cx="415.4" cy="113.6" r="2.4"/><circle cx="444.9" cy="107.4" r="2.4"/><circle cx="482.5" cy="111.6" r="2.4"/><circle cx="467.8" cy="114.8" r="2.4"/><circle cx="465.6" cy="115.3" r="2.4"/><circle cx="555.3" cy="111.6" r="2.4"/><circle cx="489.7" cy="113.1" r="2.4"/><circle cx="506.1" cy="113.3" r="2.4"/><circle cx="476.0" cy="111.8" r="2.4"/><circle cx="438.3" cy="111.1" r="2.4"/><circle cx="424.4" cy="115.0" r="2.4"/><circle cx="519.9" cy="115.2" r="2.4"/><circle cx="515.2" cy="114.1" r="2.4"/><circle cx="554.5" cy="112.2" r="2.4"/><circle cx="446.0" cy="117.6" r="2.4"/><circle cx="466.9" cy="113.1" r="2.4"/><circle cx="464.2" cy="110.4" r="2.4"/><circle cx="493.3" cy="111.2" r="2.4"/><circle cx="416.2" cy="114.7" r="2.4"/><circle cx="526.1" cy="112.5" r="2.4"/><circle cx="516.6" cy="111.3" r="2.4"/><circle cx="423.0" cy="111.5" r="2.4"/><circle cx="513.6" cy="112.1" r="2.4"/><circle cx="458.9" cy="113.2" r="2.4"/><circle cx="472.5" cy="115.8" r="2.4"/><circle cx="438.7" cy="109.2" r="2.4"/><circle cx="510.0" cy="113.1" r="2.4"/><circle cx="493.9" cy="116.0" r="2.4"/><circle cx="412.5" cy="113.1" r="2.4"/><circle cx="431.1" cy="112.3" r="2.4"/><circle cx="516.5" cy="112.8" r="2.4"/><circle cx="428.9" cy="115.5" r="2.4"/><circle cx="477.6" cy="115.4" r="2.4"/><circle cx="507.3" cy="113.9" r="2.4"/><circle cx="434.1" cy="114.3" r="2.4"/><circle cx="482.2" cy="116.3" r="2.4"/><circle cx="470.8" cy="112.2" r="2.4"/><circle cx="429.8" cy="113.4" r="2.4"/><circle cx="524.8" cy="112.7" r="2.4"/><circle cx="421.3" cy="114.7" r="2.4"/><circle cx="530.3" cy="113.1" r="2.4"/><circle cx="457.0" cy="113.7" r="2.4"/><circle cx="461.8" cy="114.3" r="2.4"/><circle cx="442.0" cy="115.5" r="2.4"/><circle cx="534.4" cy="114.3" r="2.4"/><circle cx="555.4" cy="112.7" r="2.4"/><circle cx="436.8" cy="112.7" r="2.4"/><circle cx="501.3" cy="112.8" r="2.4"/><circle cx="415.5" cy="113.9" r="2.4"/><circle cx="467.5" cy="112.1" r="2.4"/><circle cx="441.4" cy="111.7" r="2.4"/><circle cx="501.9" cy="113.6" r="2.4"/><circle cx="438.9" cy="108.3" r="2.4"/><circle cx="498.9" cy="115.6" r="2.4"/><circle cx="550.1" cy="112.4" r="2.4"/><circle cx="445.8" cy="113.9" r="2.4"/><circle cx="428.0" cy="111.9" r="2.4"/><circle cx="534.8" cy="112.4" r="2.4"/><circle cx="417.1" cy="113.2" r="2.4"/><circle cx="517.7" cy="113.6" r="2.4"/><circle cx="539.8" cy="113.2" r="2.4"/><circle cx="429.0" cy="111.0" r="2.4"/><circle cx="484.7" cy="116.8" r="2.4"/><circle cx="552.2" cy="113.0" r="2.4"/><circle cx="431.2" cy="112.1" r="2.4"/><circle cx="531.5" cy="113.7" r="2.4"/><circle cx="507.7" cy="112.2" r="2.4"/><circle cx="419.8" cy="115.3" r="2.4"/><circle cx="434.2" cy="114.6" r="2.4"/><circle cx="544.6" cy="113.8" r="2.4"/><circle cx="644.9" cy="111.3" r="2.4"/><circle cx="616.9" cy="113.6" r="2.4"/><circle cx="653.5" cy="113.7" r="2.4"/><circle cx="586.4" cy="112.9" r="2.4"/><circle cx="571.5" cy="114.4" r="2.4"/><circle cx="647.7" cy="113.9" r="2.4"/><circle cx="594.3" cy="112.0" r="2.4"/><circle cx="582.1" cy="113.1" r="2.4"/><circle cx="575.2" cy="114.2" r="2.4"/><circle cx="570.0" cy="114.4" r="2.4"/><circle cx="640.3" cy="111.6" r="2.4"/><circle cx="578.1" cy="114.2" r="2.4"/><circle cx="649.9" cy="112.7" r="2.4"/><circle cx="620.6" cy="115.6" r="2.4"/><circle cx="565.1" cy="112.0" r="2.4"/><circle cx="613.5" cy="110.6" r="2.4"/><circle cx="591.0" cy="111.9" r="2.4"/><circle cx="622.0" cy="114.7" r="2.4"/><circle cx="662.7" cy="113.1" r="2.4"/><circle cx="625.2" cy="112.1" r="2.4"/><circle cx="665.5" cy="112.0" r="2.4"/><circle cx="635.1" cy="110.9" r="2.4"/><circle cx="644.3" cy="111.2" r="2.4"/><circle cx="651.6" cy="114.3" r="2.4"/><circle cx="598.5" cy="115.3" r="2.4"/><circle cx="621.1" cy="113.9" r="2.4"/><circle cx="600.7" cy="112.8" r="2.4"/><circle cx="652.9" cy="113.6" r="2.4"/><circle cx="652.6" cy="113.3" r="2.4"/><circle cx="627.5" cy="111.4" r="2.4"/><circle cx="623.6" cy="113.0" r="2.4"/><circle cx="590.2" cy="113.3" r="2.4"/><circle cx="604.0" cy="113.1" r="2.4"/><circle cx="587.7" cy="115.1" r="2.4"/><circle cx="633.2" cy="111.9" r="2.4"/><circle cx="573.8" cy="114.0" r="2.4"/><circle cx="582.5" cy="112.8" r="2.4"/><circle cx="636.4" cy="114.1" r="2.4"/><circle cx="616.8" cy="115.1" r="2.4"/><circle cx="628.6" cy="115.6" r="2.4"/><circle cx="567.9" cy="113.8" r="2.4"/><circle cx="603.7" cy="113.2" r="2.4"/><circle cx="670.3" cy="113.2" r="2.4"/><circle cx="612.2" cy="110.9" r="2.4"/><circle cx="646.8" cy="113.7" r="2.4"/><circle cx="592.3" cy="112.7" r="2.4"/><circle cx="656.3" cy="111.2" r="2.4"/><circle cx="599.8" cy="114.4" r="2.4"/><circle cx="586.9" cy="113.5" r="2.4"/><circle cx="563.6" cy="115.1" r="2.4"/><circle cx="566.1" cy="113.0" r="2.4"/><circle cx="602.2" cy="111.6" r="2.4"/><circle cx="660.4" cy="113.1" r="2.4"/><circle cx="584.4" cy="112.9" r="2.4"/><circle cx="606.7" cy="113.2" r="2.4"/><circle cx="657.5" cy="114.9" r="2.4"/><circle cx="666.0" cy="113.1" r="2.4"/><circle cx="644.2" cy="114.1" r="2.4"/><circle cx="597.1" cy="113.0" r="2.4"/><circle cx="630.4" cy="113.1" r="2.4"/><circle cx="584.0" cy="113.0" r="2.4"/><circle cx="627.6" cy="115.8" r="2.4"/><circle cx="622.1" cy="113.3" r="2.4"/><circle cx="650.8" cy="111.3" r="2.4"/><circle cx="605.9" cy="111.4" r="2.4"/><circle cx="606.4" cy="113.7" r="2.4"/><circle cx="600.4" cy="114.6" r="2.4"/><circle cx="659.4" cy="111.8" r="2.4"/><circle cx="660.7" cy="113.2" r="2.4"/><circle cx="581.8" cy="113.4" r="2.4"/><circle cx="656.2" cy="113.8" r="2.4"/><circle cx="587.1" cy="113.4" r="2.4"/><circle cx="638.0" cy="113.0" r="2.4"/><circle cx="616.8" cy="113.1" r="2.4"/><circle cx="665.2" cy="114.2" r="2.4"/><circle cx="580.8" cy="113.4" r="2.4"/><circle cx="570.2" cy="113.9" r="2.4"/><circle cx="654.9" cy="114.5" r="2.4"/><circle cx="593.7" cy="114.3" r="2.4"/><circle cx="590.5" cy="113.7" r="2.4"/><circle cx="604.9" cy="113.2" r="2.4"/><circle cx="594.5" cy="113.5" r="2.4"/><circle cx="636.3" cy="115.2" r="2.4"/><circle cx="626.4" cy="114.5" r="2.4"/><circle cx="663.6" cy="113.8" r="2.4"/><circle cx="647.1" cy="115.1" r="2.4"/><circle cx="662.7" cy="113.7" r="2.4"/><circle cx="642.9" cy="115.4" r="2.4"/><circle cx="573.2" cy="113.6" r="2.4"/><circle cx="565.5" cy="112.9" r="2.4"/><circle cx="565.3" cy="111.8" r="2.4"/><circle cx="590.9" cy="112.9" r="2.4"/><circle cx="602.4" cy="113.3" r="2.4"/><circle cx="587.4" cy="112.7" r="2.4"/><circle cx="568.1" cy="112.5" r="2.4"/><circle cx="562.9" cy="113.3" r="2.4"/><circle cx="573.6" cy="113.3" r="2.4"/><circle cx="617.6" cy="110.7" r="2.4"/><circle cx="571.6" cy="114.3" r="2.4"/><circle cx="618.4" cy="113.5" r="2.4"/><circle cx="661.9" cy="114.5" r="2.4"/><circle cx="647.9" cy="114.1" r="2.4"/><circle cx="608.4" cy="110.4" r="2.4"/><circle cx="643.8" cy="114.4" r="2.4"/><circle cx="571.7" cy="112.6" r="2.4"/><circle cx="663.3" cy="114.6" r="2.4"/><circle cx="643.9" cy="112.4" r="2.4"/><circle cx="646.1" cy="113.5" r="2.4"/><circle cx="561.9" cy="114.3" r="2.4"/><circle cx="619.6" cy="113.1" r="2.4"/><circle cx="635.9" cy="115.0" r="2.4"/><circle cx="665.9" cy="114.4" r="2.4"/><circle cx="644.0" cy="111.7" r="2.4"/><circle cx="587.7" cy="112.2" r="2.4"/><circle cx="663.0" cy="115.0" r="2.4"/><circle cx="653.0" cy="112.4" r="2.4"/><circle cx="608.6" cy="114.6" r="2.4"/><circle cx="615.1" cy="115.2" r="2.4"/><circle cx="591.9" cy="110.8" r="2.4"/><circle cx="588.3" cy="112.2" r="2.4"/><circle cx="591.2" cy="114.0" r="2.4"/><circle cx="590.9" cy="115.3" r="2.4"/><circle cx="638.0" cy="111.7" r="2.4"/><circle cx="593.6" cy="111.3" r="2.4"/><circle cx="579.7" cy="112.4" r="2.4"/><circle cx="580.4" cy="113.6" r="2.4"/><circle cx="564.0" cy="112.2" r="2.4"/><circle cx="644.6" cy="114.5" r="2.4"/><circle cx="642.0" cy="111.8" r="2.4"/><circle cx="612.8" cy="112.8" r="2.4"/><circle cx="592.5" cy="114.4" r="2.4"/><circle cx="632.7" cy="112.3" r="2.4"/><circle cx="584.3" cy="113.2" r="2.4"/><circle cx="596.6" cy="113.9" r="2.4"/><circle cx="644.8" cy="113.3" r="2.4"/><circle cx="597.1" cy="111.8" r="2.4"/><circle cx="612.4" cy="115.5" r="2.4"/><circle cx="569.2" cy="114.7" r="2.4"/><circle cx="657.1" cy="112.1" r="2.4"/><circle cx="597.4" cy="112.9" r="2.4"/><circle cx="620.3" cy="114.9" r="2.4"/><circle cx="601.1" cy="113.0" r="2.4"/><circle cx="609.4" cy="113.7" r="2.4"/><circle cx="655.7" cy="112.2" r="2.4"/><circle cx="622.9" cy="112.6" r="2.4"/><circle cx="597.2" cy="112.4" r="2.4"/><circle cx="564.1" cy="112.5" r="2.4"/><circle cx="575.3" cy="114.4" r="2.4"/><circle cx="594.9" cy="111.8" r="2.4"/><circle cx="604.4" cy="111.7" r="2.4"/>
</g>
<g fill="#30BEF0" fill-opacity="0.85">
<circle cx="430.2" cy="112.0" r="2.4"/><circle cx="428.3" cy="112.7" r="2.4"/><circle cx="426.0" cy="113.4" r="2.4"/><circle cx="433.0" cy="112.2" r="2.4"/><circle cx="418.3" cy="113.4" r="2.4"/><circle cx="434.9" cy="113.4" r="2.4"/><circle cx="412.1" cy="112.9" r="2.4"/><circle cx="415.8" cy="113.5" r="2.4"/><circle cx="412.4" cy="114.0" r="2.4"/><circle cx="417.3" cy="114.2" r="2.4"/><circle cx="431.4" cy="113.5" r="2.4"/><circle cx="416.1" cy="113.0" r="2.4"/><circle cx="421.3" cy="112.6" r="2.4"/><circle cx="424.1" cy="113.9" r="2.4"/><circle cx="426.9" cy="112.9" r="2.4"/><circle cx="422.9" cy="113.1" r="2.4"/><circle cx="427.4" cy="113.6" r="2.4"/><circle cx="417.8" cy="113.4" r="2.4"/><circle cx="426.3" cy="113.8" r="2.4"/><circle cx="416.6" cy="113.8" r="2.4"/><circle cx="494.2" cy="114.8" r="2.4"/><circle cx="534.7" cy="113.0" r="2.4"/><circle cx="547.9" cy="113.1" r="2.4"/><circle cx="496.5" cy="112.9" r="2.4"/><circle cx="458.7" cy="111.8" r="2.4"/><circle cx="458.4" cy="114.4" r="2.4"/><circle cx="472.5" cy="113.5" r="2.4"/><circle cx="449.6" cy="114.5" r="2.4"/><circle cx="474.9" cy="116.7" r="2.4"/><circle cx="483.1" cy="110.2" r="2.4"/><circle cx="435.4" cy="110.9" r="2.4"/><circle cx="447.1" cy="111.1" r="2.4"/><circle cx="497.4" cy="114.2" r="2.4"/><circle cx="497.5" cy="115.8" r="2.4"/><circle cx="464.5" cy="112.6" r="2.4"/><circle cx="458.4" cy="115.9" r="2.4"/><circle cx="440.3" cy="107.0" r="2.4"/><circle cx="536.0" cy="111.8" r="2.4"/><circle cx="519.7" cy="113.8" r="2.4"/><circle cx="534.5" cy="112.1" r="2.4"/><circle cx="553.9" cy="112.8" r="2.4"/><circle cx="486.5" cy="113.4" r="2.4"/><circle cx="461.8" cy="117.6" r="2.4"/><circle cx="511.2" cy="112.4" r="2.4"/><circle cx="494.1" cy="111.7" r="2.4"/><circle cx="508.6" cy="112.0" r="2.4"/><circle cx="511.9" cy="113.8" r="2.4"/><circle cx="507.2" cy="113.1" r="2.4"/><circle cx="450.6" cy="113.0" r="2.4"/><circle cx="538.4" cy="113.1" r="2.4"/><circle cx="448.9" cy="115.0" r="2.4"/><circle cx="489.4" cy="111.1" r="2.4"/><circle cx="482.3" cy="111.9" r="2.4"/><circle cx="435.9" cy="114.4" r="2.4"/><circle cx="484.3" cy="112.2" r="2.4"/><circle cx="519.9" cy="112.0" r="2.4"/><circle cx="462.7" cy="112.0" r="2.4"/><circle cx="517.5" cy="112.7" r="2.4"/><circle cx="469.8" cy="110.9" r="2.4"/><circle cx="525.7" cy="113.9" r="2.4"/><circle cx="525.0" cy="112.4" r="2.4"/><circle cx="496.5" cy="114.1" r="2.4"/><circle cx="458.6" cy="112.4" r="2.4"/><circle cx="479.3" cy="110.2" r="2.4"/><circle cx="441.3" cy="114.5" r="2.4"/><circle cx="487.7" cy="110.8" r="2.4"/><circle cx="465.2" cy="111.1" r="2.4"/><circle cx="463.1" cy="108.9" r="2.4"/><circle cx="536.9" cy="114.3" r="2.4"/><circle cx="440.8" cy="114.6" r="2.4"/><circle cx="455.1" cy="115.7" r="2.4"/><circle cx="503.2" cy="112.4" r="2.4"/><circle cx="515.2" cy="112.7" r="2.4"/><circle cx="466.8" cy="113.5" r="2.4"/><circle cx="458.5" cy="112.7" r="2.4"/><circle cx="436.0" cy="111.1" r="2.4"/><circle cx="505.5" cy="113.2" r="2.4"/><circle cx="507.0" cy="115.7" r="2.4"/><circle cx="441.0" cy="112.3" r="2.4"/><circle cx="522.4" cy="114.4" r="2.4"/><circle cx="452.6" cy="116.7" r="2.4"/><circle cx="441.9" cy="113.1" r="2.4"/><circle cx="446.2" cy="112.7" r="2.4"/><circle cx="528.3" cy="112.3" r="2.4"/><circle cx="436.5" cy="109.3" r="2.4"/><circle cx="482.2" cy="110.7" r="2.4"/><circle cx="459.2" cy="115.7" r="2.4"/><circle cx="435.2" cy="111.2" r="2.4"/><circle cx="544.4" cy="113.5" r="2.4"/><circle cx="436.6" cy="112.1" r="2.4"/><circle cx="480.6" cy="115.0" r="2.4"/><circle cx="449.6" cy="108.3" r="2.4"/><circle cx="464.5" cy="108.8" r="2.4"/><circle cx="467.2" cy="111.9" r="2.4"/><circle cx="542.8" cy="113.7" r="2.4"/><circle cx="520.9" cy="111.9" r="2.4"/><circle cx="464.0" cy="112.0" r="2.4"/><circle cx="454.5" cy="116.8" r="2.4"/><circle cx="439.0" cy="110.4" r="2.4"/><circle cx="479.9" cy="110.9" r="2.4"/><circle cx="452.5" cy="111.2" r="2.4"/><circle cx="510.0" cy="115.2" r="2.4"/><circle cx="533.9" cy="112.5" r="2.4"/><circle cx="509.0" cy="111.7" r="2.4"/><circle cx="490.9" cy="113.9" r="2.4"/><circle cx="522.0" cy="111.9" r="2.4"/><circle cx="453.3" cy="111.2" r="2.4"/><circle cx="491.0" cy="111.3" r="2.4"/><circle cx="522.0" cy="114.9" r="2.4"/><circle cx="458.7" cy="113.8" r="2.4"/><circle cx="482.6" cy="112.0" r="2.4"/><circle cx="489.2" cy="115.4" r="2.4"/><circle cx="540.2" cy="113.0" r="2.4"/><circle cx="485.1" cy="109.5" r="2.4"/><circle cx="481.9" cy="116.0" r="2.4"/><circle cx="442.4" cy="107.9" r="2.4"/><circle cx="480.7" cy="111.0" r="2.4"/><circle cx="486.1" cy="114.6" r="2.4"/><circle cx="480.2" cy="114.6" r="2.4"/><circle cx="483.8" cy="114.7" r="2.4"/><circle cx="505.9" cy="112.6" r="2.4"/><circle cx="501.3" cy="115.0" r="2.4"/><circle cx="444.4" cy="110.6" r="2.4"/><circle cx="539.5" cy="114.3" r="2.4"/><circle cx="471.6" cy="113.9" r="2.4"/><circle cx="497.1" cy="113.7" r="2.4"/><circle cx="445.3" cy="110.4" r="2.4"/><circle cx="436.7" cy="116.4" r="2.4"/><circle cx="509.1" cy="114.2" r="2.4"/><circle cx="449.3" cy="109.0" r="2.4"/><circle cx="469.9" cy="108.6" r="2.4"/><circle cx="485.5" cy="113.2" r="2.4"/><circle cx="463.0" cy="114.1" r="2.4"/><circle cx="494.6" cy="112.7" r="2.4"/><circle cx="464.1" cy="112.9" r="2.4"/><circle cx="444.0" cy="113.1" r="2.4"/><circle cx="459.2" cy="116.0" r="2.4"/><circle cx="507.3" cy="110.9" r="2.4"/><circle cx="508.7" cy="112.9" r="2.4"/><circle cx="444.9" cy="113.4" r="2.4"/><circle cx="499.4" cy="111.4" r="2.4"/><circle cx="525.7" cy="112.1" r="2.4"/><circle cx="482.6" cy="109.7" r="2.4"/><circle cx="529.8" cy="113.6" r="2.4"/><circle cx="489.1" cy="111.9" r="2.4"/><circle cx="478.4" cy="115.8" r="2.4"/><circle cx="548.0" cy="113.0" r="2.4"/><circle cx="464.0" cy="111.8" r="2.4"/><circle cx="435.2" cy="115.8" r="2.4"/><circle cx="496.7" cy="113.4" r="2.4"/><circle cx="436.3" cy="109.9" r="2.4"/><circle cx="438.1" cy="116.2" r="2.4"/><circle cx="472.3" cy="110.6" r="2.4"/><circle cx="497.9" cy="113.8" r="2.4"/><circle cx="489.0" cy="111.5" r="2.4"/><circle cx="450.0" cy="116.1" r="2.4"/><circle cx="547.3" cy="114.0" r="2.4"/><circle cx="473.8" cy="113.8" r="2.4"/><circle cx="457.5" cy="108.0" r="2.4"/><circle cx="533.5" cy="113.3" r="2.4"/><circle cx="436.3" cy="117.6" r="2.4"/><circle cx="474.9" cy="114.3" r="2.4"/><circle cx="468.5" cy="111.2" r="2.4"/><circle cx="442.4" cy="118.5" r="2.4"/><circle cx="471.6" cy="113.2" r="2.4"/><circle cx="460.8" cy="113.9" r="2.4"/><circle cx="465.6" cy="114.4" r="2.4"/><circle cx="486.5" cy="112.5" r="2.4"/><circle cx="469.1" cy="115.2" r="2.4"/><circle cx="516.4" cy="112.5" r="2.4"/><circle cx="492.8" cy="112.1" r="2.4"/><circle cx="482.9" cy="109.5" r="2.4"/><circle cx="512.3" cy="112.7" r="2.4"/><circle cx="438.0" cy="113.4" r="2.4"/><circle cx="508.9" cy="114.6" r="2.4"/><circle cx="450.3" cy="114.9" r="2.4"/><circle cx="553.4" cy="113.9" r="2.4"/><circle cx="513.2" cy="111.4" r="2.4"/><circle cx="514.3" cy="113.7" r="2.4"/><circle cx="500.5" cy="112.5" r="2.4"/><circle cx="531.9" cy="112.7" r="2.4"/><circle cx="524.6" cy="112.5" r="2.4"/><circle cx="451.5" cy="114.5" r="2.4"/><circle cx="528.1" cy="113.7" r="2.4"/><circle cx="550.6" cy="113.3" r="2.4"/><circle cx="542.3" cy="114.3" r="2.4"/><circle cx="543.6" cy="113.6" r="2.4"/><circle cx="511.7" cy="114.1" r="2.4"/><circle cx="453.4" cy="108.8" r="2.4"/><circle cx="524.9" cy="113.2" r="2.4"/><circle cx="445.1" cy="116.1" r="2.4"/><circle cx="551.8" cy="113.7" r="2.4"/><circle cx="458.3" cy="113.6" r="2.4"/><circle cx="451.7" cy="114.6" r="2.4"/><circle cx="532.3" cy="113.2" r="2.4"/><circle cx="486.1" cy="111.1" r="2.4"/><circle cx="540.8" cy="114.2" r="2.4"/><circle cx="452.2" cy="115.1" r="2.4"/><circle cx="450.5" cy="112.2" r="2.4"/><circle cx="519.5" cy="114.7" r="2.4"/><circle cx="435.7" cy="110.6" r="2.4"/><circle cx="474.3" cy="109.5" r="2.4"/><circle cx="551.7" cy="113.0" r="2.4"/><circle cx="455.6" cy="110.2" r="2.4"/><circle cx="442.3" cy="113.9" r="2.4"/><circle cx="523.2" cy="113.0" r="2.4"/><circle cx="446.5" cy="111.7" r="2.4"/><circle cx="482.0" cy="112.9" r="2.4"/><circle cx="526.2" cy="111.8" r="2.4"/><circle cx="445.7" cy="114.1" r="2.4"/><circle cx="494.1" cy="111.3" r="2.4"/><circle cx="496.8" cy="113.5" r="2.4"/><circle cx="515.2" cy="111.0" r="2.4"/><circle cx="544.7" cy="112.1" r="2.4"/><circle cx="532.4" cy="112.7" r="2.4"/><circle cx="455.0" cy="116.8" r="2.4"/><circle cx="499.9" cy="114.2" r="2.4"/><circle cx="515.3" cy="115.3" r="2.4"/><circle cx="519.4" cy="112.1" r="2.4"/><circle cx="484.6" cy="113.8" r="2.4"/><circle cx="505.3" cy="114.0" r="2.4"/><circle cx="464.9" cy="112.8" r="2.4"/><circle cx="461.0" cy="117.0" r="2.4"/><circle cx="470.1" cy="114.1" r="2.4"/><circle cx="453.0" cy="112.3" r="2.4"/><circle cx="483.6" cy="110.9" r="2.4"/><circle cx="548.7" cy="113.7" r="2.4"/><circle cx="500.0" cy="114.2" r="2.4"/><circle cx="493.3" cy="111.3" r="2.4"/><circle cx="463.0" cy="114.6" r="2.4"/><circle cx="447.8" cy="116.2" r="2.4"/><circle cx="475.2" cy="112.0" r="2.4"/><circle cx="482.6" cy="113.1" r="2.4"/><circle cx="534.3" cy="114.4" r="2.4"/><circle cx="488.3" cy="113.1" r="2.4"/><circle cx="475.0" cy="115.6" r="2.4"/><circle cx="489.0" cy="114.2" r="2.4"/><circle cx="450.4" cy="115.2" r="2.4"/><circle cx="442.2" cy="108.2" r="2.4"/><circle cx="457.3" cy="111.9" r="2.4"/><circle cx="487.6" cy="114.2" r="2.4"/><circle cx="502.3" cy="112.2" r="2.4"/><circle cx="457.7" cy="114.2" r="2.4"/><circle cx="457.7" cy="115.0" r="2.4"/><circle cx="472.6" cy="111.7" r="2.4"/><circle cx="485.6" cy="114.5" r="2.4"/><circle cx="438.6" cy="109.7" r="2.4"/><circle cx="524.2" cy="111.3" r="2.4"/><circle cx="487.5" cy="114.0" r="2.4"/><circle cx="464.7" cy="114.6" r="2.4"/><circle cx="489.8" cy="114.1" r="2.4"/><circle cx="509.7" cy="113.0" r="2.4"/><circle cx="494.4" cy="114.1" r="2.4"/><circle cx="478.3" cy="112.6" r="2.4"/><circle cx="510.0" cy="111.9" r="2.4"/><circle cx="483.7" cy="115.0" r="2.4"/><circle cx="530.3" cy="112.8" r="2.4"/><circle cx="453.3" cy="108.8" r="2.4"/><circle cx="485.0" cy="111.1" r="2.4"/><circle cx="492.4" cy="114.4" r="2.4"/><circle cx="568.6" cy="113.5" r="2.4"/><circle cx="597.3" cy="114.2" r="2.4"/><circle cx="622.3" cy="110.2" r="2.4"/><circle cx="565.9" cy="112.4" r="2.4"/><circle cx="631.3" cy="110.1" r="2.4"/><circle cx="605.6" cy="114.0" r="2.4"/><circle cx="631.6" cy="113.4" r="2.4"/><circle cx="647.7" cy="112.2" r="2.4"/><circle cx="628.9" cy="115.2" r="2.4"/><circle cx="612.7" cy="114.6" r="2.4"/><circle cx="664.7" cy="112.6" r="2.4"/><circle cx="631.4" cy="114.2" r="2.4"/><circle cx="657.0" cy="113.9" r="2.4"/><circle cx="605.9" cy="112.2" r="2.4"/><circle cx="664.4" cy="113.3" r="2.4"/><circle cx="619.0" cy="114.6" r="2.4"/><circle cx="566.6" cy="113.1" r="2.4"/><circle cx="650.7" cy="115.1" r="2.4"/><circle cx="620.8" cy="111.5" r="2.4"/><circle cx="604.1" cy="112.9" r="2.4"/><circle cx="641.0" cy="112.7" r="2.4"/><circle cx="618.9" cy="112.7" r="2.4"/><circle cx="615.7" cy="111.4" r="2.4"/><circle cx="577.2" cy="114.7" r="2.4"/><circle cx="599.0" cy="113.1" r="2.4"/><circle cx="634.3" cy="110.7" r="2.4"/><circle cx="619.0" cy="114.8" r="2.4"/><circle cx="647.7" cy="114.2" r="2.4"/><circle cx="615.1" cy="115.0" r="2.4"/><circle cx="635.0" cy="115.4" r="2.4"/><circle cx="653.1" cy="113.5" r="2.4"/><circle cx="624.0" cy="113.9" r="2.4"/><circle cx="600.2" cy="112.1" r="2.4"/><circle cx="607.7" cy="115.5" r="2.4"/><circle cx="650.0" cy="114.1" r="2.4"/><circle cx="637.2" cy="114.8" r="2.4"/><circle cx="661.9" cy="114.4" r="2.4"/><circle cx="591.5" cy="114.1" r="2.4"/><circle cx="649.2" cy="112.1" r="2.4"/><circle cx="655.9" cy="114.0" r="2.4"/><circle cx="625.0" cy="111.4" r="2.4"/><circle cx="659.9" cy="111.8" r="2.4"/><circle cx="585.3" cy="112.8" r="2.4"/><circle cx="606.4" cy="110.8" r="2.4"/><circle cx="619.2" cy="110.1" r="2.4"/><circle cx="644.6" cy="113.9" r="2.4"/><circle cx="612.3" cy="114.2" r="2.4"/><circle cx="640.8" cy="115.5" r="2.4"/><circle cx="630.1" cy="113.8" r="2.4"/><circle cx="613.6" cy="109.9" r="2.4"/><circle cx="590.3" cy="112.7" r="2.4"/><circle cx="577.2" cy="113.2" r="2.4"/><circle cx="623.4" cy="113.9" r="2.4"/><circle cx="617.6" cy="114.8" r="2.4"/><circle cx="602.0" cy="113.6" r="2.4"/><circle cx="625.7" cy="114.3" r="2.4"/><circle cx="644.4" cy="111.2" r="2.4"/><circle cx="651.6" cy="112.6" r="2.4"/><circle cx="595.2" cy="113.1" r="2.4"/><circle cx="628.7" cy="113.9" r="2.4"/><circle cx="595.1" cy="111.3" r="2.4"/><circle cx="596.1" cy="113.4" r="2.4"/><circle cx="643.0" cy="113.2" r="2.4"/><circle cx="635.4" cy="113.1" r="2.4"/><circle cx="634.9" cy="110.2" r="2.4"/><circle cx="642.9" cy="112.4" r="2.4"/><circle cx="589.7" cy="110.7" r="2.4"/><circle cx="625.0" cy="113.8" r="2.4"/><circle cx="610.4" cy="114.0" r="2.4"/><circle cx="641.2" cy="114.2" r="2.4"/><circle cx="632.8" cy="112.2" r="2.4"/><circle cx="594.5" cy="114.2" r="2.4"/><circle cx="643.4" cy="113.4" r="2.4"/><circle cx="599.8" cy="110.2" r="2.4"/><circle cx="583.0" cy="112.2" r="2.4"/><circle cx="589.2" cy="113.1" r="2.4"/><circle cx="584.1" cy="113.0" r="2.4"/><circle cx="645.0" cy="114.3" r="2.4"/><circle cx="615.1" cy="117.9" r="2.4"/><circle cx="595.6" cy="111.9" r="2.4"/><circle cx="588.2" cy="114.2" r="2.4"/><circle cx="618.9" cy="114.7" r="2.4"/><circle cx="647.8" cy="112.0" r="2.4"/><circle cx="646.2" cy="114.6" r="2.4"/><circle cx="632.8" cy="112.7" r="2.4"/><circle cx="629.5" cy="113.4" r="2.4"/><circle cx="588.8" cy="112.8" r="2.4"/><circle cx="581.4" cy="113.0" r="2.4"/><circle cx="650.1" cy="111.0" r="2.4"/><circle cx="632.9" cy="111.5" r="2.4"/><circle cx="624.9" cy="109.3" r="2.4"/><circle cx="605.5" cy="114.1" r="2.4"/><circle cx="625.3" cy="112.9" r="2.4"/><circle cx="621.7" cy="111.8" r="2.4"/><circle cx="590.6" cy="110.8" r="2.4"/><circle cx="611.2" cy="110.3" r="2.4"/><circle cx="599.3" cy="113.0" r="2.4"/><circle cx="628.8" cy="115.0" r="2.4"/><circle cx="566.6" cy="113.0" r="2.4"/><circle cx="616.9" cy="115.5" r="2.4"/><circle cx="581.3" cy="114.1" r="2.4"/><circle cx="581.8" cy="113.7" r="2.4"/><circle cx="618.6" cy="113.9" r="2.4"/><circle cx="659.0" cy="113.6" r="2.4"/><circle cx="605.6" cy="110.6" r="2.4"/><circle cx="659.4" cy="113.2" r="2.4"/><circle cx="575.0" cy="114.0" r="2.4"/><circle cx="583.8" cy="113.0" r="2.4"/><circle cx="618.5" cy="116.5" r="2.4"/><circle cx="568.6" cy="112.9" r="2.4"/><circle cx="610.0" cy="111.6" r="2.4"/><circle cx="621.6" cy="111.4" r="2.4"/><circle cx="592.7" cy="114.5" r="2.4"/><circle cx="581.5" cy="112.1" r="2.4"/><circle cx="627.2" cy="111.2" r="2.4"/><circle cx="614.0" cy="108.0" r="2.4"/><circle cx="619.7" cy="111.5" r="2.4"/><circle cx="616.1" cy="112.8" r="2.4"/><circle cx="582.1" cy="113.2" r="2.4"/><circle cx="623.1" cy="114.2" r="2.4"/><circle cx="660.6" cy="113.8" r="2.4"/><circle cx="578.4" cy="113.7" r="2.4"/><circle cx="613.2" cy="110.2" r="2.4"/><circle cx="651.7" cy="113.2" r="2.4"/><circle cx="578.0" cy="113.0" r="2.4"/>
</g>
</g>
<line x1="396.1" y1="113.2" x2="684.0" y2="113.2" stroke="#111" stroke-width="0.9"/>
<rect x="396.1" y="3.5" width="287.9" height="219.3" fill="none" stroke="#8c8c8c" stroke-width="1.25"/>
<line x1="393.6" y1="3.5" x2="396.1" y2="3.5" stroke="#555" stroke-width="0.8"/>
<text x="392.1" y="7.1" font-size="10.5" text-anchor="end">2.0</text>
<line x1="393.6" y1="30.9" x2="396.1" y2="30.9" stroke="#555" stroke-width="0.8"/>
<text x="392.1" y="34.5" font-size="10.5" text-anchor="end">1.5</text>
<line x1="393.6" y1="58.3" x2="396.1" y2="58.3" stroke="#555" stroke-width="0.8"/>
<text x="392.1" y="61.9" font-size="10.5" text-anchor="end">1.0</text>
<line x1="393.6" y1="85.7" x2="396.1" y2="85.7" stroke="#555" stroke-width="0.8"/>
<text x="392.1" y="89.3" font-size="10.5" text-anchor="end">0.5</text>
<line x1="393.6" y1="113.2" x2="396.1" y2="113.2" stroke="#555" stroke-width="0.8"/>
<text x="392.1" y="116.8" font-size="10.5" text-anchor="end">0.0</text>
<line x1="393.6" y1="140.6" x2="396.1" y2="140.6" stroke="#555" stroke-width="0.8"/>
<text x="392.1" y="144.2" font-size="10.5" text-anchor="end">−0.5</text>
<line x1="393.6" y1="168.0" x2="396.1" y2="168.0" stroke="#555" stroke-width="0.8"/>
<text x="392.1" y="171.6" font-size="10.5" text-anchor="end">−1.0</text>
<line x1="393.6" y1="195.4" x2="396.1" y2="195.4" stroke="#555" stroke-width="0.8"/>
<text x="392.1" y="199.0" font-size="10.5" text-anchor="end">−1.5</text>
<line x1="393.6" y1="222.8" x2="396.1" y2="222.8" stroke="#555" stroke-width="0.8"/>
<text x="392.1" y="226.4" font-size="10.5" text-anchor="end">−2.0</text>
<line x1="417.2" y1="222.8" x2="417.2" y2="225.3" stroke="#555" stroke-width="0.8"/>
<text x="417.2" y="234.8" font-size="10.5" text-anchor="middle">950</text>
<line x1="457.5" y1="222.8" x2="457.5" y2="225.3" stroke="#555" stroke-width="0.8"/>
<text x="457.5" y="234.8" font-size="10.5" text-anchor="middle">1000</text>
<line x1="497.8" y1="222.8" x2="497.8" y2="225.3" stroke="#555" stroke-width="0.8"/>
<text x="497.8" y="234.8" font-size="10.5" text-anchor="middle">1050</text>
<line x1="538.0" y1="222.8" x2="538.0" y2="225.3" stroke="#555" stroke-width="0.8"/>
<text x="538.0" y="234.8" font-size="10.5" text-anchor="middle">1100</text>
<line x1="578.3" y1="222.8" x2="578.3" y2="225.3" stroke="#555" stroke-width="0.8"/>
<text x="578.3" y="234.8" font-size="10.5" text-anchor="middle">1150</text>
<line x1="618.6" y1="222.8" x2="618.6" y2="225.3" stroke="#555" stroke-width="0.8"/>
<text x="618.6" y="234.8" font-size="10.5" text-anchor="middle">1200</text>
<line x1="658.8" y1="222.8" x2="658.8" y2="225.3" stroke="#555" stroke-width="0.8"/>
<text x="658.8" y="234.8" font-size="10.5" text-anchor="middle">1250</text>
<text x="538.6" y="248.6" font-size="13.4" text-anchor="middle">Actual</text>
<text transform="translate(367.5,115.4) rotate(-90)" font-size="14.2" text-anchor="middle">Relative Error (%)</text>
<text x="668.0" y="206.0" font-size="15.6" text-anchor="end">LightGBM</text>
<rect x="598.0" y="8.4" width="81.0" height="28.8" rx="2" fill="#fff" fill-opacity="0.8" stroke="#ddd" stroke-width="0.8"/>
<circle cx="611.5" cy="15.9" r="2.6" fill="#F5D425" stroke="#1a1a1a" stroke-width="0.5"/>
<circle cx="611.5" cy="29.2" r="2.6" fill="#30BEF0" stroke="#1a1a1a" stroke-width="0.5"/>
<text x="628.5" y="18.6" font-size="9">Training data</text>
<text x="628.5" y="31.9" font-size="9">Test data</text>
<clipPath id="cDT"><rect x="39.8" y="264.4" width="286.6" height="212.9"/></clipPath>
<g clip-path="url(#cDT)" stroke="#1a1a1a" stroke-opacity="0.85" stroke-width="0.5">
<g fill="#F5D425" fill-opacity="0.85">
<circle cx="117.2" cy="370.9" r="2.35"/><circle cx="135.3" cy="370.9" r="2.35"/><circle cx="184.6" cy="370.9" r="2.35"/><circle cx="89.7" cy="370.9" r="2.35"/><circle cx="138.3" cy="370.9" r="2.35"/><circle cx="104.9" cy="370.9" r="2.35"/><circle cx="162.6" cy="370.9" r="2.35"/><circle cx="131.6" cy="370.9" r="2.35"/><circle cx="82.2" cy="370.9" r="2.35"/><circle cx="127.7" cy="370.9" r="2.35"/><circle cx="88.0" cy="370.9" r="2.35"/><circle cx="60.0" cy="370.9" r="2.35"/><circle cx="69.2" cy="370.9" r="2.35"/><circle cx="102.6" cy="370.9" r="2.35"/><circle cx="55.1" cy="370.9" r="2.35"/><circle cx="164.9" cy="370.9" r="2.35"/><circle cx="169.4" cy="370.9" r="2.35"/><circle cx="55.8" cy="370.9" r="2.35"/><circle cx="129.2" cy="370.9" r="2.35"/><circle cx="115.5" cy="370.9" r="2.35"/><circle cx="111.0" cy="370.9" r="2.35"/><circle cx="63.3" cy="370.9" r="2.35"/><circle cx="189.2" cy="370.9" r="2.35"/><circle cx="95.9" cy="370.9" r="2.35"/><circle cx="188.1" cy="370.9" r="2.35"/><circle cx="111.4" cy="370.9" r="2.35"/><circle cx="83.2" cy="370.9" r="2.35"/><circle cx="89.3" cy="370.9" r="2.35"/><circle cx="88.7" cy="370.9" r="2.35"/><circle cx="169.6" cy="370.9" r="2.35"/><circle cx="173.2" cy="370.9" r="2.35"/><circle cx="170.1" cy="370.9" r="2.35"/><circle cx="91.5" cy="370.9" r="2.35"/><circle cx="95.7" cy="370.9" r="2.35"/><circle cx="130.8" cy="370.9" r="2.35"/><circle cx="156.1" cy="370.9" r="2.35"/><circle cx="155.4" cy="370.9" r="2.35"/><circle cx="175.1" cy="370.9" r="2.35"/><circle cx="163.8" cy="370.9" r="2.35"/><circle cx="127.5" cy="370.9" r="2.35"/><circle cx="153.3" cy="370.9" r="2.35"/><circle cx="163.7" cy="370.9" r="2.35"/><circle cx="80.8" cy="370.9" r="2.35"/><circle cx="194.7" cy="370.9" r="2.35"/><circle cx="131.0" cy="370.9" r="2.35"/><circle cx="145.0" cy="370.9" r="2.35"/><circle cx="150.2" cy="370.9" r="2.35"/><circle cx="155.6" cy="370.9" r="2.35"/><circle cx="65.5" cy="370.9" r="2.35"/><circle cx="63.9" cy="370.9" r="2.35"/><circle cx="96.3" cy="370.9" r="2.35"/><circle cx="72.1" cy="370.9" r="2.35"/><circle cx="161.2" cy="370.9" r="2.35"/><circle cx="121.4" cy="370.9" r="2.35"/><circle cx="79.2" cy="370.9" r="2.35"/><circle cx="111.3" cy="370.9" r="2.35"/><circle cx="81.4" cy="370.9" r="2.35"/><circle cx="161.4" cy="370.9" r="2.35"/><circle cx="111.0" cy="370.9" r="2.35"/><circle cx="176.5" cy="370.9" r="2.35"/><circle cx="155.8" cy="370.9" r="2.35"/><circle cx="120.2" cy="370.9" r="2.35"/><circle cx="136.2" cy="370.9" r="2.35"/><circle cx="197.8" cy="370.9" r="2.35"/><circle cx="157.3" cy="370.9" r="2.35"/><circle cx="114.5" cy="370.9" r="2.35"/><circle cx="110.1" cy="370.9" r="2.35"/><circle cx="176.4" cy="370.9" r="2.35"/><circle cx="144.2" cy="370.9" r="2.35"/><circle cx="153.6" cy="370.9" r="2.35"/><circle cx="76.1" cy="370.9" r="2.35"/><circle cx="117.2" cy="370.9" r="2.35"/><circle cx="55.3" cy="370.9" r="2.35"/><circle cx="130.6" cy="370.9" r="2.35"/><circle cx="55.7" cy="370.9" r="2.35"/><circle cx="147.2" cy="370.9" r="2.35"/><circle cx="73.9" cy="370.9" r="2.35"/><circle cx="63.7" cy="370.9" r="2.35"/><circle cx="76.7" cy="370.9" r="2.35"/><circle cx="113.4" cy="370.9" r="2.35"/><circle cx="123.8" cy="370.9" r="2.35"/><circle cx="89.3" cy="370.9" r="2.35"/><circle cx="143.3" cy="370.9" r="2.35"/><circle cx="140.9" cy="370.9" r="2.35"/><circle cx="84.0" cy="370.9" r="2.35"/><circle cx="108.3" cy="370.9" r="2.35"/><circle cx="188.1" cy="370.9" r="2.35"/><circle cx="124.6" cy="370.9" r="2.35"/><circle cx="171.0" cy="370.9" r="2.35"/><circle cx="151.9" cy="370.9" r="2.35"/><circle cx="147.5" cy="370.9" r="2.35"/><circle cx="181.0" cy="370.9" r="2.35"/><circle cx="59.1" cy="370.9" r="2.35"/><circle cx="132.8" cy="370.9" r="2.35"/><circle cx="182.7" cy="370.9" r="2.35"/><circle cx="132.7" cy="370.9" r="2.35"/><circle cx="55.2" cy="370.9" r="2.35"/><circle cx="189.1" cy="370.9" r="2.35"/><circle cx="160.2" cy="370.9" r="2.35"/><circle cx="107.9" cy="370.9" r="2.35"/><circle cx="79.1" cy="370.9" r="2.35"/><circle cx="56.0" cy="370.9" r="2.35"/><circle cx="187.9" cy="370.9" r="2.35"/><circle cx="174.0" cy="370.9" r="2.35"/><circle cx="71.2" cy="370.9" r="2.35"/><circle cx="76.2" cy="370.9" r="2.35"/><circle cx="155.8" cy="370.9" r="2.35"/><circle cx="73.1" cy="370.9" r="2.35"/><circle cx="135.7" cy="370.9" r="2.35"/><circle cx="105.5" cy="370.9" r="2.35"/><circle cx="136.5" cy="370.9" r="2.35"/><circle cx="146.3" cy="370.9" r="2.35"/><circle cx="96.4" cy="370.9" r="2.35"/><circle cx="96.4" cy="370.9" r="2.35"/><circle cx="80.1" cy="370.9" r="2.35"/><circle cx="192.0" cy="370.9" r="2.35"/><circle cx="116.8" cy="370.9" r="2.35"/><circle cx="62.1" cy="370.9" r="2.35"/><circle cx="124.5" cy="370.9" r="2.35"/><circle cx="147.3" cy="370.9" r="2.35"/><circle cx="182.1" cy="370.9" r="2.35"/><circle cx="100.0" cy="370.9" r="2.35"/><circle cx="167.0" cy="370.9" r="2.35"/><circle cx="150.0" cy="370.9" r="2.35"/><circle cx="187.6" cy="370.9" r="2.35"/><circle cx="101.4" cy="370.9" r="2.35"/><circle cx="82.2" cy="370.9" r="2.35"/><circle cx="54.5" cy="370.9" r="2.35"/><circle cx="132.8" cy="370.9" r="2.35"/><circle cx="139.3" cy="370.9" r="2.35"/><circle cx="110.1" cy="370.9" r="2.35"/><circle cx="182.2" cy="370.9" r="2.35"/><circle cx="88.0" cy="370.9" r="2.35"/><circle cx="170.1" cy="370.9" r="2.35"/><circle cx="185.2" cy="370.9" r="2.35"/><circle cx="116.4" cy="370.9" r="2.35"/><circle cx="58.9" cy="370.9" r="2.35"/><circle cx="136.5" cy="370.9" r="2.35"/><circle cx="147.5" cy="370.9" r="2.35"/><circle cx="190.6" cy="370.9" r="2.35"/><circle cx="179.5" cy="370.9" r="2.35"/><circle cx="118.4" cy="370.9" r="2.35"/><circle cx="150.6" cy="370.9" r="2.35"/><circle cx="82.5" cy="370.9" r="2.35"/><circle cx="147.9" cy="370.9" r="2.35"/><circle cx="166.5" cy="370.9" r="2.35"/><circle cx="129.1" cy="370.9" r="2.35"/><circle cx="101.9" cy="370.9" r="2.35"/><circle cx="58.3" cy="370.9" r="2.35"/><circle cx="117.0" cy="370.9" r="2.35"/><circle cx="99.8" cy="370.9" r="2.35"/><circle cx="184.1" cy="370.9" r="2.35"/><circle cx="81.4" cy="370.9" r="2.35"/><circle cx="55.7" cy="370.9" r="2.35"/><circle cx="96.3" cy="370.9" r="2.35"/><circle cx="119.5" cy="370.9" r="2.35"/><circle cx="91.7" cy="370.9" r="2.35"/><circle cx="159.0" cy="370.9" r="2.35"/><circle cx="100.1" cy="370.9" r="2.35"/><circle cx="80.0" cy="370.9" r="2.35"/><circle cx="80.9" cy="370.9" r="2.35"/><circle cx="171.0" cy="370.9" r="2.35"/><circle cx="70.3" cy="370.9" r="2.35"/><circle cx="143.1" cy="370.9" r="2.35"/><circle cx="125.9" cy="370.9" r="2.35"/><circle cx="95.9" cy="370.9" r="2.35"/><circle cx="173.5" cy="370.9" r="2.35"/><circle cx="150.0" cy="370.9" r="2.35"/><circle cx="173.3" cy="370.9" r="2.35"/><circle cx="98.6" cy="370.9" r="2.35"/><circle cx="161.0" cy="370.9" r="2.35"/><circle cx="128.1" cy="370.9" r="2.35"/><circle cx="158.6" cy="370.9" r="2.35"/><circle cx="164.5" cy="370.9" r="2.35"/><circle cx="104.5" cy="370.9" r="2.35"/><circle cx="140.3" cy="370.9" r="2.35"/><circle cx="176.6" cy="370.9" r="2.35"/><circle cx="67.2" cy="370.9" r="2.35"/><circle cx="185.3" cy="370.9" r="2.35"/><circle cx="93.7" cy="370.9" r="2.35"/><circle cx="162.1" cy="370.9" r="2.35"/><circle cx="79.4" cy="370.9" r="2.35"/><circle cx="195.2" cy="370.9" r="2.35"/><circle cx="133.2" cy="370.9" r="2.35"/><circle cx="60.1" cy="370.9" r="2.35"/><circle cx="110.7" cy="370.9" r="2.35"/><circle cx="145.2" cy="370.9" r="2.35"/><circle cx="152.6" cy="370.9" r="2.35"/><circle cx="101.6" cy="370.9" r="2.35"/><circle cx="190.7" cy="370.9" r="2.35"/><circle cx="113.1" cy="370.9" r="2.35"/><circle cx="79.7" cy="370.9" r="2.35"/><circle cx="169.9" cy="370.9" r="2.35"/><circle cx="188.5" cy="370.9" r="2.35"/><circle cx="157.4" cy="370.9" r="2.35"/><circle cx="86.5" cy="370.9" r="2.35"/><circle cx="97.4" cy="370.9" r="2.35"/><circle cx="160.6" cy="370.9" r="2.35"/><circle cx="57.7" cy="370.9" r="2.35"/><circle cx="94.2" cy="370.9" r="2.35"/><circle cx="124.9" cy="370.9" r="2.35"/><circle cx="76.1" cy="370.9" r="2.35"/><circle cx="177.3" cy="370.9" r="2.35"/><circle cx="171.1" cy="370.9" r="2.35"/><circle cx="159.2" cy="370.9" r="2.35"/><circle cx="101.0" cy="370.9" r="2.35"/><circle cx="178.9" cy="370.9" r="2.35"/><circle cx="166.3" cy="370.9" r="2.35"/><circle cx="125.2" cy="370.9" r="2.35"/><circle cx="81.9" cy="370.9" r="2.35"/><circle cx="62.0" cy="370.9" r="2.35"/><circle cx="136.3" cy="370.9" r="2.35"/><circle cx="62.2" cy="370.9" r="2.35"/><circle cx="135.9" cy="370.9" r="2.35"/><circle cx="55.8" cy="370.9" r="2.35"/><circle cx="164.9" cy="370.9" r="2.35"/><circle cx="180.2" cy="370.9" r="2.35"/><circle cx="175.7" cy="370.9" r="2.35"/><circle cx="176.0" cy="370.9" r="2.35"/><circle cx="151.3" cy="370.9" r="2.35"/><circle cx="172.9" cy="370.9" r="2.35"/><circle cx="84.8" cy="370.9" r="2.35"/><circle cx="158.8" cy="370.9" r="2.35"/><circle cx="156.3" cy="370.9" r="2.35"/><circle cx="132.0" cy="370.9" r="2.35"/><circle cx="120.9" cy="370.9" r="2.35"/><circle cx="154.9" cy="370.9" r="2.35"/><circle cx="53.9" cy="370.9" r="2.35"/><circle cx="80.5" cy="370.9" r="2.35"/><circle cx="103.9" cy="370.9" r="2.35"/><circle cx="302.6" cy="370.9" r="2.35"/><circle cx="260.6" cy="370.9" r="2.35"/><circle cx="243.3" cy="370.9" r="2.35"/><circle cx="241.0" cy="370.9" r="2.35"/><circle cx="242.9" cy="370.9" r="2.35"/><circle cx="306.6" cy="370.9" r="2.35"/><circle cx="208.9" cy="370.9" r="2.35"/><circle cx="247.7" cy="370.9" r="2.35"/><circle cx="299.2" cy="370.9" r="2.35"/><circle cx="300.7" cy="370.9" r="2.35"/><circle cx="207.9" cy="370.9" r="2.35"/><circle cx="239.6" cy="370.9" r="2.35"/><circle cx="208.2" cy="370.9" r="2.35"/><circle cx="238.6" cy="370.9" r="2.35"/><circle cx="242.8" cy="370.9" r="2.35"/><circle cx="223.3" cy="370.9" r="2.35"/><circle cx="311.5" cy="370.9" r="2.35"/><circle cx="206.1" cy="370.9" r="2.35"/><circle cx="229.2" cy="370.9" r="2.35"/><circle cx="275.8" cy="370.9" r="2.35"/><circle cx="259.0" cy="370.9" r="2.35"/><circle cx="269.4" cy="370.9" r="2.35"/><circle cx="205.8" cy="370.9" r="2.35"/><circle cx="242.9" cy="370.9" r="2.35"/><circle cx="260.4" cy="370.9" r="2.35"/><circle cx="212.1" cy="370.9" r="2.35"/><circle cx="238.7" cy="370.9" r="2.35"/><circle cx="262.1" cy="370.9" r="2.35"/><circle cx="254.1" cy="370.9" r="2.35"/><circle cx="262.9" cy="370.9" r="2.35"/><circle cx="221.2" cy="370.9" r="2.35"/><circle cx="265.9" cy="370.9" r="2.35"/><circle cx="295.5" cy="370.9" r="2.35"/><circle cx="227.4" cy="370.9" r="2.35"/><circle cx="256.1" cy="370.9" r="2.35"/><circle cx="237.9" cy="370.9" r="2.35"/><circle cx="225.5" cy="370.9" r="2.35"/><circle cx="308.0" cy="370.9" r="2.35"/><circle cx="248.2" cy="370.9" r="2.35"/><circle cx="204.7" cy="370.9" r="2.35"/><circle cx="231.0" cy="370.9" r="2.35"/><circle cx="218.6" cy="370.9" r="2.35"/><circle cx="222.3" cy="370.9" r="2.35"/><circle cx="251.2" cy="370.9" r="2.35"/><circle cx="246.0" cy="370.9" r="2.35"/><circle cx="273.6" cy="370.9" r="2.35"/><circle cx="284.3" cy="370.9" r="2.35"/><circle cx="233.5" cy="370.9" r="2.35"/><circle cx="224.6" cy="370.9" r="2.35"/><circle cx="234.8" cy="370.9" r="2.35"/><circle cx="244.3" cy="370.9" r="2.35"/><circle cx="232.4" cy="370.9" r="2.35"/><circle cx="233.8" cy="370.9" r="2.35"/><circle cx="306.5" cy="370.9" r="2.35"/><circle cx="213.8" cy="370.9" r="2.35"/><circle cx="292.4" cy="370.9" r="2.35"/><circle cx="253.9" cy="370.9" r="2.35"/><circle cx="267.1" cy="370.9" r="2.35"/><circle cx="293.4" cy="370.9" r="2.35"/><circle cx="253.4" cy="370.9" r="2.35"/><circle cx="298.2" cy="370.9" r="2.35"/><circle cx="233.7" cy="370.9" r="2.35"/><circle cx="276.4" cy="370.9" r="2.35"/><circle cx="209.5" cy="370.9" r="2.35"/><circle cx="251.6" cy="370.9" r="2.35"/><circle cx="225.9" cy="370.9" r="2.35"/><circle cx="289.7" cy="370.9" r="2.35"/><circle cx="293.6" cy="370.9" r="2.35"/><circle cx="299.1" cy="370.9" r="2.35"/><circle cx="261.8" cy="370.9" r="2.35"/><circle cx="248.5" cy="370.9" r="2.35"/><circle cx="253.7" cy="370.9" r="2.35"/><circle cx="275.8" cy="370.9" r="2.35"/><circle cx="297.8" cy="370.9" r="2.35"/><circle cx="238.3" cy="370.9" r="2.35"/><circle cx="311.3" cy="370.9" r="2.35"/><circle cx="256.4" cy="370.9" r="2.35"/><circle cx="269.3" cy="370.9" r="2.35"/><circle cx="206.3" cy="370.9" r="2.35"/><circle cx="228.3" cy="370.9" r="2.35"/><circle cx="270.7" cy="370.9" r="2.35"/><circle cx="288.8" cy="370.9" r="2.35"/><circle cx="237.6" cy="370.9" r="2.35"/><circle cx="266.1" cy="370.9" r="2.35"/><circle cx="224.2" cy="370.9" r="2.35"/><circle cx="214.5" cy="370.9" r="2.35"/><circle cx="273.5" cy="370.9" r="2.35"/><circle cx="266.1" cy="370.9" r="2.35"/><circle cx="270.9" cy="370.9" r="2.35"/><circle cx="215.5" cy="370.9" r="2.35"/><circle cx="248.7" cy="370.9" r="2.35"/><circle cx="270.9" cy="370.9" r="2.35"/><circle cx="304.1" cy="370.9" r="2.35"/><circle cx="224.2" cy="370.9" r="2.35"/><circle cx="295.7" cy="370.9" r="2.35"/><circle cx="291.1" cy="370.9" r="2.35"/><circle cx="210.6" cy="370.9" r="2.35"/><circle cx="280.9" cy="370.9" r="2.35"/><circle cx="305.6" cy="370.9" r="2.35"/><circle cx="267.6" cy="370.9" r="2.35"/><circle cx="251.8" cy="370.9" r="2.35"/><circle cx="279.6" cy="370.9" r="2.35"/><circle cx="252.0" cy="370.9" r="2.35"/><circle cx="263.8" cy="370.9" r="2.35"/><circle cx="282.4" cy="370.9" r="2.35"/><circle cx="238.6" cy="370.9" r="2.35"/><circle cx="227.6" cy="370.9" r="2.35"/><circle cx="242.0" cy="370.9" r="2.35"/><circle cx="223.7" cy="370.9" r="2.35"/><circle cx="298.0" cy="370.9" r="2.35"/><circle cx="250.4" cy="370.9" r="2.35"/><circle cx="207.8" cy="370.9" r="2.35"/><circle cx="283.2" cy="370.9" r="2.35"/><circle cx="300.8" cy="370.9" r="2.35"/><circle cx="288.9" cy="370.9" r="2.35"/><circle cx="283.4" cy="370.9" r="2.35"/><circle cx="239.3" cy="370.9" r="2.35"/><circle cx="228.8" cy="370.9" r="2.35"/><circle cx="276.9" cy="370.9" r="2.35"/><circle cx="252.1" cy="370.9" r="2.35"/><circle cx="208.5" cy="370.9" r="2.35"/><circle cx="210.7" cy="370.9" r="2.35"/><circle cx="258.6" cy="370.9" r="2.35"/><circle cx="269.5" cy="370.9" r="2.35"/><circle cx="251.2" cy="370.9" r="2.35"/><circle cx="303.4" cy="370.9" r="2.35"/><circle cx="206.4" cy="370.9" r="2.35"/><circle cx="255.3" cy="370.9" r="2.35"/><circle cx="222.5" cy="370.9" r="2.35"/><circle cx="284.9" cy="370.9" r="2.35"/><circle cx="223.8" cy="370.9" r="2.35"/><circle cx="233.5" cy="370.9" r="2.35"/><circle cx="267.3" cy="370.9" r="2.35"/><circle cx="290.3" cy="370.9" r="2.35"/><circle cx="211.9" cy="370.9" r="2.35"/><circle cx="243.7" cy="370.9" r="2.35"/><circle cx="277.6" cy="370.9" r="2.35"/><circle cx="236.9" cy="370.9" r="2.35"/><circle cx="213.4" cy="370.9" r="2.35"/><circle cx="266.4" cy="370.9" r="2.35"/><circle cx="255.8" cy="370.9" r="2.35"/><circle cx="218.7" cy="370.9" r="2.35"/><circle cx="264.8" cy="370.9" r="2.35"/><circle cx="260.8" cy="370.9" r="2.35"/><circle cx="241.8" cy="370.9" r="2.35"/><circle cx="268.1" cy="370.9" r="2.35"/><circle cx="309.1" cy="370.9" r="2.35"/><circle cx="206.6" cy="370.9" r="2.35"/><circle cx="290.8" cy="370.9" r="2.35"/><circle cx="308.5" cy="370.9" r="2.35"/><circle cx="303.7" cy="370.9" r="2.35"/><circle cx="225.8" cy="370.9" r="2.35"/><circle cx="218.1" cy="370.9" r="2.35"/><circle cx="298.0" cy="370.9" r="2.35"/><circle cx="267.1" cy="370.9" r="2.35"/><circle cx="278.1" cy="370.9" r="2.35"/><circle cx="254.3" cy="370.9" r="2.35"/><circle cx="261.4" cy="370.9" r="2.35"/><circle cx="271.4" cy="370.9" r="2.35"/><circle cx="265.3" cy="370.9" r="2.35"/><circle cx="297.9" cy="370.9" r="2.35"/><circle cx="269.7" cy="370.9" r="2.35"/><circle cx="221.5" cy="370.9" r="2.35"/><circle cx="312.0" cy="370.9" r="2.35"/><circle cx="220.7" cy="370.9" r="2.35"/><circle cx="295.6" cy="370.9" r="2.35"/><circle cx="217.2" cy="370.9" r="2.35"/><circle cx="246.9" cy="370.9" r="2.35"/><circle cx="209.3" cy="370.9" r="2.35"/><circle cx="286.2" cy="370.9" r="2.35"/><circle cx="239.0" cy="370.9" r="2.35"/><circle cx="248.3" cy="370.9" r="2.35"/><circle cx="223.6" cy="370.9" r="2.35"/><circle cx="258.1" cy="370.9" r="2.35"/><circle cx="281.5" cy="370.9" r="2.35"/><circle cx="269.7" cy="370.9" r="2.35"/><circle cx="302.2" cy="370.9" r="2.35"/><circle cx="209.4" cy="370.9" r="2.35"/><circle cx="263.2" cy="370.9" r="2.35"/><circle cx="230.4" cy="370.9" r="2.35"/><circle cx="248.8" cy="370.9" r="2.35"/><circle cx="259.9" cy="370.9" r="2.35"/><circle cx="230.0" cy="370.9" r="2.35"/><circle cx="289.8" cy="370.9" r="2.35"/><circle cx="261.0" cy="370.9" r="2.35"/><circle cx="213.8" cy="370.9" r="2.35"/><circle cx="228.3" cy="370.9" r="2.35"/><circle cx="232.4" cy="370.9" r="2.35"/><circle cx="232.8" cy="370.9" r="2.35"/><circle cx="279.5" cy="370.9" r="2.35"/><circle cx="139.0" cy="381.7" r="2.35"/><circle cx="134.2" cy="377.4" r="2.35"/><circle cx="94.5" cy="368.2" r="2.35"/><circle cx="88.5" cy="363.5" r="2.35"/><circle cx="108.1" cy="385.0" r="2.35"/><circle cx="153.4" cy="364.1" r="2.35"/><circle cx="93.2" cy="358.2" r="2.35"/><circle cx="151.0" cy="376.0" r="2.35"/><circle cx="103.5" cy="359.3" r="2.35"/><circle cx="146.5" cy="366.1" r="2.35"/><circle cx="156.1" cy="360.1" r="2.35"/><circle cx="72.9" cy="362.0" r="2.35"/><circle cx="96.1" cy="367.2" r="2.35"/><circle cx="92.4" cy="368.5" r="2.35"/><circle cx="124.5" cy="376.6" r="2.35"/><circle cx="125.7" cy="374.3" r="2.35"/><circle cx="105.3" cy="360.8" r="2.35"/><circle cx="56.6" cy="365.4" r="2.35"/><circle cx="68.3" cy="374.9" r="2.35"/><circle cx="116.1" cy="363.8" r="2.35"/><circle cx="121.8" cy="364.9" r="2.35"/><circle cx="127.5" cy="361.0" r="2.35"/><circle cx="95.6" cy="352.1" r="2.35"/><circle cx="57.4" cy="367.4" r="2.35"/><circle cx="92.3" cy="374.6" r="2.35"/><circle cx="90.0" cy="378.5" r="2.35"/><circle cx="54.7" cy="359.1" r="2.35"/><circle cx="90.8" cy="363.7" r="2.35"/><circle cx="147.5" cy="367.6" r="2.35"/><circle cx="138.5" cy="363.9" r="2.35"/><circle cx="65.1" cy="365.7" r="2.35"/><circle cx="63.3" cy="364.7" r="2.35"/><circle cx="65.1" cy="380.7" r="2.35"/><circle cx="120.5" cy="362.5" r="2.35"/><circle cx="140.4" cy="364.0" r="2.35"/><circle cx="116.4" cy="361.6" r="2.35"/><circle cx="70.9" cy="373.0" r="2.35"/><circle cx="82.9" cy="376.3" r="2.35"/><circle cx="53.6" cy="368.4" r="2.35"/><circle cx="137.8" cy="357.2" r="2.35"/><circle cx="135.0" cy="374.2" r="2.35"/><circle cx="69.3" cy="374.8" r="2.35"/><circle cx="117.0" cy="381.4" r="2.35"/><circle cx="80.8" cy="374.6" r="2.35"/><circle cx="100.6" cy="362.0" r="2.35"/><circle cx="72.9" cy="353.7" r="2.35"/><circle cx="106.2" cy="360.9" r="2.35"/><circle cx="76.5" cy="365.6" r="2.35"/><circle cx="80.5" cy="375.8" r="2.35"/><circle cx="89.6" cy="366.8" r="2.35"/><circle cx="63.3" cy="375.2" r="2.35"/><circle cx="131.8" cy="375.9" r="2.35"/><circle cx="157.8" cy="376.2" r="2.35"/><circle cx="122.0" cy="358.9" r="2.35"/><circle cx="71.7" cy="382.1" r="2.35"/><circle cx="99.6" cy="373.6" r="2.35"/><circle cx="109.2" cy="367.7" r="2.35"/><circle cx="75.9" cy="376.1" r="2.35"/><circle cx="140.2" cy="360.5" r="2.35"/><circle cx="84.9" cy="359.4" r="2.35"/><circle cx="134.4" cy="365.8" r="2.35"/><circle cx="86.8" cy="367.5" r="2.35"/><circle cx="76.3" cy="362.7" r="2.35"/><circle cx="136.3" cy="373.9" r="2.35"/><circle cx="128.5" cy="365.0" r="2.35"/><circle cx="92.4" cy="381.0" r="2.35"/><circle cx="100.3" cy="367.6" r="2.35"/><circle cx="132.6" cy="375.3" r="2.35"/><circle cx="102.6" cy="376.1" r="2.35"/><circle cx="109.6" cy="367.8" r="2.35"/><circle cx="149.3" cy="377.8" r="2.35"/><circle cx="94.4" cy="378.8" r="2.35"/><circle cx="53.6" cy="368.4" r="2.35"/><circle cx="101.6" cy="362.4" r="2.35"/><circle cx="113.5" cy="379.0" r="2.35"/><circle cx="158.8" cy="365.7" r="2.35"/><circle cx="158.8" cy="376.1" r="2.35"/><circle cx="68.2" cy="364.5" r="2.35"/><circle cx="77.9" cy="364.2" r="2.35"/><circle cx="131.8" cy="375.9" r="2.35"/><circle cx="128.2" cy="378.6" r="2.35"/><circle cx="90.9" cy="362.3" r="2.35"/><circle cx="122.0" cy="373.6" r="2.35"/><circle cx="109.1" cy="376.7" r="2.35"/><circle cx="93.4" cy="359.1" r="2.35"/><circle cx="129.3" cy="375.3" r="2.35"/><circle cx="127.7" cy="382.8" r="2.35"/><circle cx="147.6" cy="376.1" r="2.35"/><circle cx="136.3" cy="375.1" r="2.35"/><circle cx="142.5" cy="367.5" r="2.35"/><circle cx="121.4" cy="357.6" r="2.35"/><circle cx="78.7" cy="379.2" r="2.35"/><circle cx="86.3" cy="384.0" r="2.35"/><circle cx="128.7" cy="360.8" r="2.35"/><circle cx="135.9" cy="367.7" r="2.35"/><circle cx="108.0" cy="361.5" r="2.35"/><circle cx="64.8" cy="378.2" r="2.35"/><circle cx="109.5" cy="368.3" r="2.35"/><circle cx="93.8" cy="376.5" r="2.35"/><circle cx="141.4" cy="384.3" r="2.35"/><circle cx="142.7" cy="374.7" r="2.35"/><circle cx="116.0" cy="383.6" r="2.35"/><circle cx="114.8" cy="366.2" r="2.35"/><circle cx="152.3" cy="360.2" r="2.35"/><circle cx="76.2" cy="368.6" r="2.35"/><circle cx="95.7" cy="374.0" r="2.35"/><circle cx="106.0" cy="379.5" r="2.35"/><circle cx="129.6" cy="379.6" r="2.35"/><circle cx="159.7" cy="360.3" r="2.35"/><circle cx="124.6" cy="374.6" r="2.35"/><circle cx="141.0" cy="384.9" r="2.35"/><circle cx="112.8" cy="382.9" r="2.35"/><circle cx="122.8" cy="374.3" r="2.35"/><circle cx="157.7" cy="376.2" r="2.35"/><circle cx="116.4" cy="375.2" r="2.35"/><circle cx="86.9" cy="364.6" r="2.35"/><circle cx="52.0" cy="362.8" r="2.35"/><circle cx="126.4" cy="361.9" r="2.35"/><circle cx="102.8" cy="361.3" r="2.35"/><circle cx="86.7" cy="384.5" r="2.35"/><circle cx="80.0" cy="377.3" r="2.35"/><circle cx="147.2" cy="361.3" r="2.35"/><circle cx="111.2" cy="368.0" r="2.35"/><circle cx="119.8" cy="379.8" r="2.35"/><circle cx="159.4" cy="366.4" r="2.35"/><circle cx="56.2" cy="373.5" r="2.35"/><circle cx="81.5" cy="360.3" r="2.35"/><circle cx="82.5" cy="364.1" r="2.35"/><circle cx="116.3" cy="376.4" r="2.35"/><circle cx="74.7" cy="359.3" r="2.35"/><circle cx="124.0" cy="363.7" r="2.35"/><circle cx="59.9" cy="378.3" r="2.35"/><circle cx="138.7" cy="364.9" r="2.35"/><circle cx="61.7" cy="365.1" r="2.35"/><circle cx="80.3" cy="367.5" r="2.35"/><circle cx="119.1" cy="386.5" r="2.35"/><circle cx="80.6" cy="378.9" r="2.35"/><circle cx="138.6" cy="374.7" r="2.35"/><circle cx="103.1" cy="377.5" r="2.35"/><circle cx="84.7" cy="363.1" r="2.35"/><circle cx="150.4" cy="362.4" r="2.35"/><circle cx="76.4" cy="353.4" r="2.35"/><circle cx="149.5" cy="372.7" r="2.35"/><circle cx="92.5" cy="367.2" r="2.35"/><circle cx="89.7" cy="364.8" r="2.35"/><circle cx="52.1" cy="373.0" r="2.35"/><circle cx="148.4" cy="379.3" r="2.35"/><circle cx="119.5" cy="357.3" r="2.35"/><circle cx="106.0" cy="368.2" r="2.35"/><circle cx="124.8" cy="376.9" r="2.35"/><circle cx="93.3" cy="373.3" r="2.35"/><circle cx="76.7" cy="361.3" r="2.35"/><circle cx="99.3" cy="387.5" r="2.35"/><circle cx="75.8" cy="365.0" r="2.35"/><circle cx="103.5" cy="353.2" r="2.35"/><circle cx="114.1" cy="366.1" r="2.35"/><circle cx="79.1" cy="368.6" r="2.35"/><circle cx="114.6" cy="366.3" r="2.35"/><circle cx="88.5" cy="367.0" r="2.35"/><circle cx="83.1" cy="364.4" r="2.35"/><circle cx="155.9" cy="374.1" r="2.35"/><circle cx="154.7" cy="363.7" r="2.35"/><circle cx="114.9" cy="376.2" r="2.35"/><circle cx="103.3" cy="368.4" r="2.35"/><circle cx="83.7" cy="379.2" r="2.35"/><circle cx="117.3" cy="381.7" r="2.35"/><circle cx="126.8" cy="364.1" r="2.35"/><circle cx="92.1" cy="365.0" r="2.35"/><circle cx="125.7" cy="358.7" r="2.35"/><circle cx="148.8" cy="374.5" r="2.35"/><circle cx="102.1" cy="366.1" r="2.35"/><circle cx="159.3" cy="368.3" r="2.35"/><circle cx="81.6" cy="374.3" r="2.35"/><circle cx="100.9" cy="367.4" r="2.35"/><circle cx="105.6" cy="376.2" r="2.35"/><circle cx="56.1" cy="368.5" r="2.35"/><circle cx="115.5" cy="366.7" r="2.35"/><circle cx="133.8" cy="357.9" r="2.35"/><circle cx="130.4" cy="372.8" r="2.35"/><circle cx="113.3" cy="356.7" r="2.35"/><circle cx="116.1" cy="368.0" r="2.35"/><circle cx="66.8" cy="368.1" r="2.35"/><circle cx="87.0" cy="378.5" r="2.35"/><circle cx="112.0" cy="374.1" r="2.35"/><circle cx="134.8" cy="359.3" r="2.35"/><circle cx="142.1" cy="358.4" r="2.35"/><circle cx="118.8" cy="361.0" r="2.35"/><circle cx="62.1" cy="383.4" r="2.35"/><circle cx="133.9" cy="374.6" r="2.35"/><circle cx="157.9" cy="366.1" r="2.35"/><circle cx="165.7" cy="373.5" r="2.35"/><circle cx="192.5" cy="372.5" r="2.35"/><circle cx="166.3" cy="365.5" r="2.35"/><circle cx="193.3" cy="368.8" r="2.35"/><circle cx="156.3" cy="367.4" r="2.35"/><circle cx="182.2" cy="369.1" r="2.35"/><circle cx="196.5" cy="375.4" r="2.35"/><circle cx="192.1" cy="365.8" r="2.35"/><circle cx="178.9" cy="363.3" r="2.35"/><circle cx="177.3" cy="369.5" r="2.35"/><circle cx="176.1" cy="372.2" r="2.35"/><circle cx="174.4" cy="372.6" r="2.35"/><circle cx="155.5" cy="369.1" r="2.35"/><circle cx="190.9" cy="374.4" r="2.35"/><circle cx="164.7" cy="366.6" r="2.35"/><circle cx="169.2" cy="366.4" r="2.35"/><circle cx="167.6" cy="364.8" r="2.35"/><circle cx="174.7" cy="364.4" r="2.35"/><circle cx="168.8" cy="372.5" r="2.35"/><circle cx="174.7" cy="377.7" r="2.35"/><circle cx="183.7" cy="378.0" r="2.35"/><circle cx="192.0" cy="376.7" r="2.35"/><circle cx="159.7" cy="368.2" r="2.35"/><circle cx="166.8" cy="362.1" r="2.35"/><circle cx="172.8" cy="379.5" r="2.35"/><circle cx="169.6" cy="369.6" r="2.35"/><circle cx="192.2" cy="363.7" r="2.35"/><circle cx="184.5" cy="374.7" r="2.35"/><circle cx="169.7" cy="367.2" r="2.35"/><circle cx="186.9" cy="367.2" r="2.35"/><circle cx="170.1" cy="376.5" r="2.35"/><circle cx="160.3" cy="374.1" r="2.35"/><circle cx="161.9" cy="372.3" r="2.35"/><circle cx="191.2" cy="373.6" r="2.35"/><circle cx="181.5" cy="374.6" r="2.35"/><circle cx="182.5" cy="374.3" r="2.35"/><circle cx="162.8" cy="368.5" r="2.35"/><circle cx="174.4" cy="377.0" r="2.35"/><circle cx="190.4" cy="373.2" r="2.35"/><circle cx="159.3" cy="367.6" r="2.35"/><circle cx="150.1" cy="369.0" r="2.35"/><circle cx="197.9" cy="373.0" r="2.35"/><circle cx="190.0" cy="371.9" r="2.35"/><circle cx="184.7" cy="369.6" r="2.35"/><circle cx="183.0" cy="379.0" r="2.35"/><circle cx="294.9" cy="368.6" r="2.35"/><circle cx="242.6" cy="369.2" r="2.35"/><circle cx="254.9" cy="359.0" r="2.35"/><circle cx="261.4" cy="366.7" r="2.35"/><circle cx="278.9" cy="380.4" r="2.35"/><circle cx="299.6" cy="368.1" r="2.35"/><circle cx="306.3" cy="382.1" r="2.35"/><circle cx="309.6" cy="380.6" r="2.35"/><circle cx="277.0" cy="365.1" r="2.35"/><circle cx="258.3" cy="374.3" r="2.35"/><circle cx="282.4" cy="372.7" r="2.35"/><circle cx="267.2" cy="365.1" r="2.35"/><circle cx="298.5" cy="365.9" r="2.35"/><circle cx="283.3" cy="368.3" r="2.35"/><circle cx="311.6" cy="374.0" r="2.35"/><circle cx="285.4" cy="368.6" r="2.35"/><circle cx="251.4" cy="374.9" r="2.35"/><circle cx="294.8" cy="376.6" r="2.35"/><circle cx="286.0" cy="362.1" r="2.35"/><circle cx="292.2" cy="368.3" r="2.35"/><circle cx="205.1" cy="367.7" r="2.35"/><circle cx="280.5" cy="365.8" r="2.35"/><circle cx="236.0" cy="372.8" r="2.35"/><circle cx="256.6" cy="377.3" r="2.35"/><circle cx="264.8" cy="365.7" r="2.35"/><circle cx="246.5" cy="369.0" r="2.35"/><circle cx="285.2" cy="365.3" r="2.35"/><circle cx="294.7" cy="378.7" r="2.35"/><circle cx="290.3" cy="383.1" r="2.35"/><circle cx="274.4" cy="374.8" r="2.35"/><circle cx="276.8" cy="376.3" r="2.35"/><circle cx="221.6" cy="376.9" r="2.35"/><circle cx="251.0" cy="375.0" r="2.35"/><circle cx="209.0" cy="365.7" r="2.35"/><circle cx="255.5" cy="372.9" r="2.35"/><circle cx="294.6" cy="374.2" r="2.35"/><circle cx="285.0" cy="382.3" r="2.35"/><circle cx="256.0" cy="378.6" r="2.35"/><circle cx="296.3" cy="368.4" r="2.35"/><circle cx="288.6" cy="375.6" r="2.35"/><circle cx="308.2" cy="380.5" r="2.35"/><circle cx="308.0" cy="368.3" r="2.35"/><circle cx="255.2" cy="373.6" r="2.35"/><circle cx="285.1" cy="368.8" r="2.35"/><circle cx="252.4" cy="365.1" r="2.35"/><circle cx="227.4" cy="373.6" r="2.35"/><circle cx="310.4" cy="366.4" r="2.35"/><circle cx="310.2" cy="377.0" r="2.35"/><circle cx="259.6" cy="376.2" r="2.35"/><circle cx="303.4" cy="363.7" r="2.35"/><circle cx="291.9" cy="367.6" r="2.35"/><circle cx="226.3" cy="375.8" r="2.35"/><circle cx="299.0" cy="379.7" r="2.35"/><circle cx="209.3" cy="366.8" r="2.35"/><circle cx="205.7" cy="373.4" r="2.35"/><circle cx="310.5" cy="366.7" r="2.35"/><circle cx="283.4" cy="373.0" r="2.35"/><circle cx="219.3" cy="372.7" r="2.35"/><circle cx="311.9" cy="376.5" r="2.35"/><circle cx="227.8" cy="372.5" r="2.35"/><circle cx="295.9" cy="373.3" r="2.35"/><circle cx="288.1" cy="383.1" r="2.35"/><circle cx="269.7" cy="375.7" r="2.35"/><circle cx="255.9" cy="366.2" r="2.35"/><circle cx="301.3" cy="375.6" r="2.35"/><circle cx="278.1" cy="375.2" r="2.35"/><circle cx="231.1" cy="374.1" r="2.35"/><circle cx="285.3" cy="364.4" r="2.35"/><circle cx="294.3" cy="369.5" r="2.35"/><circle cx="259.3" cy="367.9" r="2.35"/><circle cx="237.3" cy="375.7" r="2.35"/><circle cx="309.7" cy="374.9" r="2.35"/><circle cx="270.9" cy="378.4" r="2.35"/><circle cx="293.4" cy="380.9" r="2.35"/><circle cx="299.9" cy="368.8" r="2.35"/><circle cx="244.5" cy="362.1" r="2.35"/><circle cx="255.2" cy="364.9" r="2.35"/><circle cx="270.7" cy="365.4" r="2.35"/><circle cx="292.2" cy="360.1" r="2.35"/><circle cx="265.4" cy="380.6" r="2.35"/><circle cx="298.7" cy="376.6" r="2.35"/><circle cx="260.0" cy="375.7" r="2.35"/><circle cx="291.6" cy="362.8" r="2.35"/><circle cx="265.8" cy="364.9" r="2.35"/><circle cx="241.8" cy="363.3" r="2.35"/><circle cx="234.2" cy="366.7" r="2.35"/><circle cx="221.8" cy="368.0" r="2.35"/><circle cx="285.0" cy="363.6" r="2.35"/><circle cx="291.2" cy="374.2" r="2.35"/><circle cx="302.6" cy="374.2" r="2.35"/><circle cx="249.4" cy="379.7" r="2.35"/><circle cx="266.6" cy="365.9" r="2.35"/><circle cx="251.0" cy="366.1" r="2.35"/><circle cx="244.2" cy="365.7" r="2.35"/><circle cx="313.4" cy="361.4" r="2.35"/><circle cx="299.1" cy="364.9" r="2.35"/><circle cx="309.1" cy="376.3" r="2.35"/><circle cx="227.2" cy="369.5" r="2.35"/><circle cx="211.8" cy="367.5" r="2.35"/><circle cx="228.5" cy="366.4" r="2.35"/><circle cx="221.8" cy="379.2" r="2.35"/><circle cx="278.5" cy="365.7" r="2.35"/><circle cx="271.4" cy="375.0" r="2.35"/><circle cx="306.3" cy="374.3" r="2.35"/><circle cx="309.8" cy="367.1" r="2.35"/><circle cx="277.5" cy="373.4" r="2.35"/><circle cx="275.7" cy="381.1" r="2.35"/><circle cx="234.2" cy="367.4" r="2.35"/><circle cx="301.3" cy="367.5" r="2.35"/><circle cx="249.7" cy="379.0" r="2.35"/><circle cx="251.0" cy="375.3" r="2.35"/><circle cx="264.7" cy="367.3" r="2.35"/><circle cx="260.4" cy="374.4" r="2.35"/><circle cx="273.6" cy="367.1" r="2.35"/><circle cx="266.2" cy="383.7" r="2.35"/><circle cx="300.2" cy="367.5" r="2.35"/><circle cx="280.2" cy="366.8" r="2.35"/><circle cx="270.8" cy="379.9" r="2.35"/><circle cx="247.1" cy="363.1" r="2.35"/><circle cx="242.7" cy="363.6" r="2.35"/><circle cx="251.5" cy="381.2" r="2.35"/><circle cx="259.1" cy="376.8" r="2.35"/><circle cx="280.4" cy="379.6" r="2.35"/><circle cx="270.7" cy="368.2" r="2.35"/><circle cx="263.6" cy="373.1" r="2.35"/><circle cx="307.1" cy="372.7" r="2.35"/><circle cx="249.6" cy="378.1" r="2.35"/><circle cx="254.8" cy="374.4" r="2.35"/><circle cx="205.6" cy="364.7" r="2.35"/><circle cx="291.2" cy="367.0" r="2.35"/>
</g>
<g fill="#30BEF0" fill-opacity="0.85">
<circle cx="84.1" cy="394.1" r="2.35"/><circle cx="108.4" cy="382.7" r="2.35"/><circle cx="82.1" cy="385.3" r="2.35"/><circle cx="114.1" cy="348.0" r="2.35"/><circle cx="92.6" cy="360.7" r="2.35"/><circle cx="106.8" cy="364.5" r="2.35"/><circle cx="158.2" cy="376.6" r="2.35"/><circle cx="85.8" cy="342.8" r="2.35"/><circle cx="148.1" cy="362.9" r="2.35"/><circle cx="140.4" cy="365.2" r="2.35"/><circle cx="145.7" cy="378.3" r="2.35"/><circle cx="102.4" cy="362.1" r="2.35"/><circle cx="110.9" cy="386.2" r="2.35"/><circle cx="140.3" cy="356.9" r="2.35"/><circle cx="156.6" cy="366.9" r="2.35"/><circle cx="122.7" cy="387.3" r="2.35"/><circle cx="147.8" cy="381.0" r="2.35"/><circle cx="128.5" cy="362.9" r="2.35"/><circle cx="108.1" cy="352.9" r="2.35"/><circle cx="144.1" cy="359.9" r="2.35"/><circle cx="101.6" cy="382.1" r="2.35"/><circle cx="131.0" cy="359.6" r="2.35"/><circle cx="146.7" cy="365.4" r="2.35"/><circle cx="76.2" cy="361.8" r="2.35"/><circle cx="94.5" cy="364.9" r="2.35"/><circle cx="92.8" cy="393.2" r="2.35"/><circle cx="118.8" cy="377.8" r="2.35"/><circle cx="132.4" cy="376.8" r="2.35"/><circle cx="101.2" cy="379.3" r="2.35"/><circle cx="156.1" cy="377.0" r="2.35"/><circle cx="125.5" cy="348.1" r="2.35"/><circle cx="89.7" cy="358.3" r="2.35"/><circle cx="131.5" cy="361.1" r="2.35"/><circle cx="89.5" cy="360.0" r="2.35"/><circle cx="123.0" cy="358.1" r="2.35"/><circle cx="131.6" cy="344.9" r="2.35"/><circle cx="144.1" cy="377.2" r="2.35"/><circle cx="145.0" cy="353.3" r="2.35"/><circle cx="140.7" cy="386.7" r="2.35"/><circle cx="131.4" cy="354.4" r="2.35"/><circle cx="151.0" cy="349.6" r="2.35"/><circle cx="77.8" cy="376.4" r="2.35"/><circle cx="123.4" cy="387.6" r="2.35"/><circle cx="126.6" cy="367.3" r="2.35"/><circle cx="93.1" cy="376.6" r="2.35"/><circle cx="79.2" cy="394.8" r="2.35"/><circle cx="87.9" cy="365.1" r="2.35"/><circle cx="89.9" cy="375.5" r="2.35"/><circle cx="134.1" cy="362.7" r="2.35"/><circle cx="127.0" cy="383.5" r="2.35"/><circle cx="109.1" cy="386.8" r="2.35"/><circle cx="135.3" cy="363.0" r="2.35"/><circle cx="95.1" cy="376.2" r="2.35"/><circle cx="140.2" cy="380.6" r="2.35"/><circle cx="91.9" cy="385.3" r="2.35"/><circle cx="98.2" cy="352.0" r="2.35"/><circle cx="120.4" cy="361.4" r="2.35"/><circle cx="142.5" cy="378.2" r="2.35"/><circle cx="151.2" cy="377.0" r="2.35"/><circle cx="137.5" cy="379.7" r="2.35"/><circle cx="102.6" cy="364.1" r="2.35"/><circle cx="136.6" cy="367.0" r="2.35"/><circle cx="111.7" cy="384.3" r="2.35"/><circle cx="95.7" cy="364.5" r="2.35"/><circle cx="118.9" cy="367.0" r="2.35"/><circle cx="159.4" cy="365.2" r="2.35"/><circle cx="87.4" cy="354.1" r="2.35"/><circle cx="118.6" cy="362.8" r="2.35"/><circle cx="107.7" cy="361.3" r="2.35"/><circle cx="130.5" cy="359.5" r="2.35"/><circle cx="99.7" cy="352.6" r="2.35"/><circle cx="88.3" cy="357.9" r="2.35"/><circle cx="150.4" cy="379.3" r="2.35"/><circle cx="94.0" cy="387.0" r="2.35"/><circle cx="138.2" cy="375.8" r="2.35"/><circle cx="114.8" cy="385.9" r="2.35"/><circle cx="121.3" cy="386.8" r="2.35"/><circle cx="126.1" cy="352.5" r="2.35"/><circle cx="143.0" cy="363.4" r="2.35"/><circle cx="95.0" cy="375.4" r="2.35"/><circle cx="106.3" cy="361.7" r="2.35"/><circle cx="154.6" cy="379.9" r="2.35"/><circle cx="79.3" cy="364.0" r="2.35"/><circle cx="147.9" cy="386.3" r="2.35"/><circle cx="147.1" cy="388.4" r="2.35"/><circle cx="145.3" cy="359.1" r="2.35"/><circle cx="149.2" cy="387.1" r="2.35"/><circle cx="125.1" cy="390.0" r="2.35"/><circle cx="148.7" cy="354.8" r="2.35"/><circle cx="90.9" cy="362.4" r="2.35"/><circle cx="117.0" cy="386.4" r="2.35"/><circle cx="98.9" cy="356.4" r="2.35"/><circle cx="110.9" cy="360.3" r="2.35"/><circle cx="122.5" cy="360.9" r="2.35"/><circle cx="101.1" cy="362.8" r="2.35"/><circle cx="120.3" cy="348.3" r="2.35"/><circle cx="135.0" cy="362.6" r="2.35"/><circle cx="149.0" cy="361.8" r="2.35"/><circle cx="120.4" cy="397.8" r="2.35"/><circle cx="100.1" cy="391.1" r="2.35"/><circle cx="78.6" cy="365.4" r="2.35"/><circle cx="153.2" cy="360.6" r="2.35"/><circle cx="128.1" cy="351.2" r="2.35"/><circle cx="139.0" cy="356.4" r="2.35"/><circle cx="96.0" cy="340.8" r="2.35"/><circle cx="128.2" cy="364.1" r="2.35"/><circle cx="133.6" cy="358.6" r="2.35"/><circle cx="130.5" cy="367.1" r="2.35"/><circle cx="108.7" cy="358.9" r="2.35"/><circle cx="93.0" cy="367.4" r="2.35"/><circle cx="134.1" cy="378.7" r="2.35"/><circle cx="75.8" cy="386.5" r="2.35"/><circle cx="122.0" cy="365.4" r="2.35"/><circle cx="97.2" cy="362.5" r="2.35"/><circle cx="98.2" cy="383.3" r="2.35"/><circle cx="120.9" cy="361.4" r="2.35"/><circle cx="111.0" cy="380.6" r="2.35"/><circle cx="93.2" cy="378.0" r="2.35"/><circle cx="111.9" cy="365.1" r="2.35"/><circle cx="120.5" cy="388.9" r="2.35"/><circle cx="84.6" cy="376.3" r="2.35"/><circle cx="158.1" cy="376.5" r="2.35"/><circle cx="121.0" cy="389.2" r="2.35"/><circle cx="103.8" cy="366.5" r="2.35"/><circle cx="151.5" cy="360.7" r="2.35"/><circle cx="143.6" cy="390.2" r="2.35"/><circle cx="107.9" cy="359.2" r="2.35"/><circle cx="117.0" cy="352.7" r="2.35"/><circle cx="160.1" cy="362.6" r="2.35"/><circle cx="145.6" cy="377.5" r="2.35"/><circle cx="124.6" cy="352.3" r="2.35"/><circle cx="137.5" cy="366.3" r="2.35"/><circle cx="128.3" cy="364.7" r="2.35"/><circle cx="147.3" cy="358.8" r="2.35"/><circle cx="120.5" cy="354.6" r="2.35"/><circle cx="112.2" cy="359.1" r="2.35"/><circle cx="136.8" cy="364.6" r="2.35"/><circle cx="107.9" cy="375.0" r="2.35"/><circle cx="112.3" cy="361.8" r="2.35"/><circle cx="146.3" cy="353.0" r="2.35"/><circle cx="119.0" cy="381.8" r="2.35"/><circle cx="153.5" cy="347.5" r="2.35"/><circle cx="117.3" cy="347.4" r="2.35"/><circle cx="83.6" cy="367.4" r="2.35"/><circle cx="135.6" cy="355.4" r="2.35"/><circle cx="159.9" cy="366.2" r="2.35"/><circle cx="128.4" cy="364.7" r="2.35"/><circle cx="141.1" cy="389.2" r="2.35"/><circle cx="145.3" cy="367.0" r="2.35"/><circle cx="131.1" cy="382.1" r="2.35"/><circle cx="55.0" cy="399.0" r="2.35"/><circle cx="60.0" cy="386.0" r="2.35"/><circle cx="63.0" cy="385.0" r="2.35"/><circle cx="57.0" cy="360.0" r="2.35"/><circle cx="66.0" cy="356.0" r="2.35"/><circle cx="70.0" cy="352.0" r="2.35"/><circle cx="62.0" cy="398.0" r="2.35"/><circle cx="68.0" cy="392.0" r="2.35"/><circle cx="72.0" cy="396.0" r="2.35"/><circle cx="53.0" cy="376.0" r="2.35"/><circle cx="187.5" cy="356.1" r="2.35"/><circle cx="188.0" cy="358.0" r="2.35"/><circle cx="193.7" cy="355.4" r="2.35"/><circle cx="162.3" cy="355.1" r="2.35"/><circle cx="193.1" cy="357.1" r="2.35"/><circle cx="185.4" cy="355.9" r="2.35"/><circle cx="162.6" cy="354.8" r="2.35"/><circle cx="180.4" cy="355.0" r="2.35"/><circle cx="161.9" cy="353.4" r="2.35"/><circle cx="158.8" cy="356.1" r="2.35"/><circle cx="177.0" cy="355.9" r="2.35"/><circle cx="172.6" cy="354.5" r="2.35"/><circle cx="167.2" cy="354.5" r="2.35"/><circle cx="171.5" cy="354.5" r="2.35"/><circle cx="193.3" cy="356.8" r="2.35"/><circle cx="189.7" cy="357.1" r="2.35"/><circle cx="167.0" cy="388.0" r="2.35"/><circle cx="172.0" cy="386.0" r="2.35"/><circle cx="181.0" cy="385.0" r="2.35"/><circle cx="160.0" cy="390.0" r="2.35"/><circle cx="155.0" cy="393.0" r="2.35"/><circle cx="150.0" cy="395.0" r="2.35"/><circle cx="145.0" cy="400.0" r="2.35"/><circle cx="309.1" cy="361.2" r="2.35"/><circle cx="225.5" cy="365.6" r="2.35"/><circle cx="285.5" cy="383.4" r="2.35"/><circle cx="260.9" cy="355.3" r="2.35"/><circle cx="271.3" cy="392.1" r="2.35"/><circle cx="263.6" cy="347.4" r="2.35"/><circle cx="287.3" cy="374.6" r="2.35"/><circle cx="305.9" cy="367.6" r="2.35"/><circle cx="249.1" cy="385.0" r="2.35"/><circle cx="236.9" cy="386.1" r="2.35"/><circle cx="282.1" cy="387.6" r="2.35"/><circle cx="259.2" cy="381.3" r="2.35"/><circle cx="271.1" cy="382.6" r="2.35"/><circle cx="280.1" cy="360.1" r="2.35"/><circle cx="310.0" cy="364.3" r="2.35"/><circle cx="269.1" cy="366.6" r="2.35"/><circle cx="260.7" cy="378.0" r="2.35"/><circle cx="289.0" cy="361.6" r="2.35"/><circle cx="244.1" cy="373.9" r="2.35"/><circle cx="268.0" cy="360.0" r="2.35"/><circle cx="280.7" cy="353.2" r="2.35"/><circle cx="228.7" cy="364.4" r="2.35"/><circle cx="279.4" cy="386.4" r="2.35"/><circle cx="251.6" cy="384.0" r="2.35"/><circle cx="264.6" cy="379.3" r="2.35"/><circle cx="248.2" cy="350.2" r="2.35"/><circle cx="294.2" cy="355.6" r="2.35"/><circle cx="284.2" cy="381.3" r="2.35"/><circle cx="244.8" cy="367.2" r="2.35"/><circle cx="264.2" cy="365.3" r="2.35"/><circle cx="288.1" cy="359.5" r="2.35"/><circle cx="300.1" cy="353.9" r="2.35"/><circle cx="234.4" cy="365.8" r="2.35"/><circle cx="231.5" cy="360.5" r="2.35"/><circle cx="261.7" cy="376.0" r="2.35"/><circle cx="284.4" cy="358.8" r="2.35"/><circle cx="308.3" cy="377.1" r="2.35"/><circle cx="268.0" cy="382.4" r="2.35"/><circle cx="224.9" cy="352.1" r="2.35"/><circle cx="251.4" cy="360.1" r="2.35"/><circle cx="251.4" cy="358.4" r="2.35"/><circle cx="244.6" cy="377.5" r="2.35"/><circle cx="246.3" cy="364.3" r="2.35"/><circle cx="219.6" cy="373.6" r="2.35"/><circle cx="234.2" cy="375.4" r="2.35"/><circle cx="275.7" cy="373.8" r="2.35"/><circle cx="236.9" cy="377.4" r="2.35"/><circle cx="245.0" cy="374.9" r="2.35"/><circle cx="265.9" cy="366.2" r="2.35"/><circle cx="244.0" cy="379.9" r="2.35"/><circle cx="291.1" cy="359.0" r="2.35"/><circle cx="291.9" cy="382.5" r="2.35"/><circle cx="217.5" cy="389.5" r="2.35"/><circle cx="276.5" cy="363.2" r="2.35"/><circle cx="301.7" cy="378.6" r="2.35"/><circle cx="277.7" cy="386.4" r="2.35"/><circle cx="260.8" cy="364.0" r="2.35"/><circle cx="245.5" cy="358.6" r="2.35"/><circle cx="261.0" cy="381.5" r="2.35"/><circle cx="295.8" cy="363.8" r="2.35"/><circle cx="297.9" cy="353.5" r="2.35"/><circle cx="254.9" cy="381.0" r="2.35"/><circle cx="300.8" cy="362.5" r="2.35"/><circle cx="287.2" cy="377.4" r="2.35"/><circle cx="304.3" cy="386.8" r="2.35"/><circle cx="281.0" cy="362.4" r="2.35"/><circle cx="272.1" cy="375.6" r="2.35"/><circle cx="226.7" cy="363.6" r="2.35"/><circle cx="286.3" cy="356.4" r="2.35"/><circle cx="290.4" cy="385.6" r="2.35"/><circle cx="307.2" cy="362.2" r="2.35"/><circle cx="263.9" cy="358.1" r="2.35"/><circle cx="291.2" cy="378.4" r="2.35"/><circle cx="266.8" cy="377.7" r="2.35"/><circle cx="295.5" cy="377.4" r="2.35"/><circle cx="295.3" cy="359.2" r="2.35"/><circle cx="281.5" cy="362.7" r="2.35"/><circle cx="301.1" cy="377.9" r="2.35"/><circle cx="268.3" cy="376.6" r="2.35"/><circle cx="229.1" cy="359.1" r="2.35"/><circle cx="282.2" cy="362.5" r="2.35"/><circle cx="230.6" cy="368.2" r="2.35"/><circle cx="280.5" cy="364.8" r="2.35"/><circle cx="249.4" cy="379.4" r="2.35"/><circle cx="259.1" cy="364.8" r="2.35"/><circle cx="286.2" cy="364.7" r="2.35"/><circle cx="290.9" cy="373.9" r="2.35"/><circle cx="224.7" cy="378.4" r="2.35"/><circle cx="269.2" cy="367.4" r="2.35"/><circle cx="275.5" cy="380.8" r="2.35"/><circle cx="258.1" cy="361.0" r="2.35"/><circle cx="263.7" cy="379.4" r="2.35"/><circle cx="254.4" cy="377.4" r="2.35"/><circle cx="248.0" cy="375.8" r="2.35"/><circle cx="300.5" cy="362.6" r="2.35"/><circle cx="257.0" cy="380.7" r="2.35"/><circle cx="218.9" cy="360.2" r="2.35"/><circle cx="284.0" cy="378.2" r="2.35"/><circle cx="282.7" cy="362.1" r="2.35"/><circle cx="307.5" cy="376.0" r="2.35"/><circle cx="291.4" cy="387.5" r="2.35"/><circle cx="278.2" cy="375.5" r="2.35"/><circle cx="266.9" cy="382.6" r="2.35"/><circle cx="278.1" cy="355.1" r="2.35"/><circle cx="241.5" cy="380.4" r="2.35"/><circle cx="253.5" cy="379.8" r="2.35"/><circle cx="307.5" cy="377.4" r="2.35"/><circle cx="272.9" cy="375.3" r="2.35"/><circle cx="264.0" cy="358.8" r="2.35"/><circle cx="241.4" cy="377.6" r="2.35"/><circle cx="259.2" cy="366.7" r="2.35"/><circle cx="272.5" cy="364.9" r="2.35"/><circle cx="289.2" cy="361.7" r="2.35"/><circle cx="301.2" cy="367.3" r="2.35"/><circle cx="266.1" cy="384.9" r="2.35"/><circle cx="274.4" cy="376.3" r="2.35"/><circle cx="306.1" cy="362.0" r="2.35"/><circle cx="254.1" cy="379.7" r="2.35"/><circle cx="236.7" cy="377.4" r="2.35"/><circle cx="241.1" cy="375.3" r="2.35"/><circle cx="293.5" cy="355.6" r="2.35"/><circle cx="296.8" cy="356.1" r="2.35"/><circle cx="306.9" cy="376.3" r="2.35"/><circle cx="250.2" cy="378.8" r="2.35"/><circle cx="233.6" cy="383.4" r="2.35"/><circle cx="263.5" cy="381.7" r="2.35"/><circle cx="266.2" cy="365.3" r="2.35"/><circle cx="242.6" cy="365.0" r="2.35"/><circle cx="253.5" cy="381.7" r="2.35"/><circle cx="272.4" cy="361.9" r="2.35"/>
</g>
</g>
<line x1="39.8" y1="370.9" x2="326.4" y2="370.9" stroke="#111" stroke-width="0.9"/>
<rect x="39.8" y="264.4" width="286.6" height="212.9" fill="none" stroke="#8c8c8c" stroke-width="1.25"/>
<line x1="37.3" y1="264.4" x2="39.8" y2="264.4" stroke="#555" stroke-width="0.8"/>
<text x="35.8" y="268.0" font-size="10.5" text-anchor="end">2.0</text>
<line x1="37.3" y1="291.0" x2="39.8" y2="291.0" stroke="#555" stroke-width="0.8"/>
<text x="35.8" y="294.6" font-size="10.5" text-anchor="end">1.5</text>
<line x1="37.3" y1="317.6" x2="39.8" y2="317.6" stroke="#555" stroke-width="0.8"/>
<text x="35.8" y="321.2" font-size="10.5" text-anchor="end">1.0</text>
<line x1="37.3" y1="344.2" x2="39.8" y2="344.2" stroke="#555" stroke-width="0.8"/>
<text x="35.8" y="347.8" font-size="10.5" text-anchor="end">0.5</text>
<line x1="37.3" y1="370.9" x2="39.8" y2="370.9" stroke="#555" stroke-width="0.8"/>
<text x="35.8" y="374.5" font-size="10.5" text-anchor="end">0.0</text>
<line x1="37.3" y1="397.5" x2="39.8" y2="397.5" stroke="#555" stroke-width="0.8"/>
<text x="35.8" y="401.1" font-size="10.5" text-anchor="end">−0.5</text>
<line x1="37.3" y1="424.1" x2="39.8" y2="424.1" stroke="#555" stroke-width="0.8"/>
<text x="35.8" y="427.7" font-size="10.5" text-anchor="end">−1.0</text>
<line x1="37.3" y1="450.7" x2="39.8" y2="450.7" stroke="#555" stroke-width="0.8"/>
<text x="35.8" y="454.3" font-size="10.5" text-anchor="end">−1.5</text>
<line x1="37.3" y1="477.3" x2="39.8" y2="477.3" stroke="#555" stroke-width="0.8"/>
<text x="35.8" y="480.9" font-size="10.5" text-anchor="end">−2.0</text>
<line x1="60.8" y1="477.3" x2="60.8" y2="479.8" stroke="#555" stroke-width="0.8"/>
<text x="60.8" y="489.3" font-size="10.5" text-anchor="middle">950</text>
<line x1="100.9" y1="477.3" x2="100.9" y2="479.8" stroke="#555" stroke-width="0.8"/>
<text x="100.9" y="489.3" font-size="10.5" text-anchor="middle">1000</text>
<line x1="141.0" y1="477.3" x2="141.0" y2="479.8" stroke="#555" stroke-width="0.8"/>
<text x="141.0" y="489.3" font-size="10.5" text-anchor="middle">1050</text>
<line x1="181.1" y1="477.3" x2="181.1" y2="479.8" stroke="#555" stroke-width="0.8"/>
<text x="181.1" y="489.3" font-size="10.5" text-anchor="middle">1100</text>
<line x1="221.2" y1="477.3" x2="221.2" y2="479.8" stroke="#555" stroke-width="0.8"/>
<text x="221.2" y="489.3" font-size="10.5" text-anchor="middle">1150</text>
<line x1="261.3" y1="477.3" x2="261.3" y2="479.8" stroke="#555" stroke-width="0.8"/>
<text x="261.3" y="489.3" font-size="10.5" text-anchor="middle">1200</text>
<line x1="301.3" y1="477.3" x2="301.3" y2="479.8" stroke="#555" stroke-width="0.8"/>
<text x="301.3" y="489.3" font-size="10.5" text-anchor="middle">1250</text>
<text x="181.5" y="501.7" font-size="13.4" text-anchor="middle">Actual</text>
<text transform="translate(12.6,369.8) rotate(-90)" font-size="13.2" text-anchor="middle">Relative Error (%)</text>
<text x="313.5" y="464.5" font-size="15.6" text-anchor="end">DT</text>
<rect x="241.7" y="268.5" width="80.0" height="27.7" rx="2" fill="#fff" fill-opacity="0.8" stroke="#ddd" stroke-width="0.8"/>
<circle cx="254.1" cy="276.1" r="2.6" fill="#F5D425" stroke="#1a1a1a" stroke-width="0.5"/>
<circle cx="254.1" cy="288.8" r="2.6" fill="#30BEF0" stroke="#1a1a1a" stroke-width="0.5"/>
<text x="270.6" y="278.8" font-size="9">Training data</text>
<text x="270.6" y="291.5" font-size="9">Test data</text>
<clipPath id="cAdaBoostDT"><rect x="394.8" y="262.4" width="289.1" height="214.9"/></clipPath>
<g clip-path="url(#cAdaBoostDT)" stroke="#1a1a1a" stroke-opacity="0.85" stroke-width="0.5">
<g fill="#F5D425" fill-opacity="0.85">
<circle cx="425.1" cy="382.2" r="2.4"/><circle cx="443.1" cy="382.3" r="2.4"/><circle cx="462.9" cy="376.0" r="2.4"/><circle cx="548.1" cy="348.6" r="2.4"/><circle cx="430.2" cy="382.4" r="2.4"/><circle cx="524.4" cy="362.7" r="2.4"/><circle cx="430.5" cy="386.4" r="2.4"/><circle cx="454.3" cy="364.3" r="2.4"/><circle cx="498.1" cy="349.6" r="2.4"/><circle cx="490.6" cy="375.9" r="2.4"/><circle cx="544.6" cy="355.1" r="2.4"/><circle cx="463.8" cy="385.0" r="2.4"/><circle cx="541.3" cy="356.6" r="2.4"/><circle cx="538.1" cy="356.6" r="2.4"/><circle cx="503.1" cy="360.8" r="2.4"/><circle cx="408.7" cy="370.7" r="2.4"/><circle cx="514.4" cy="348.5" r="2.4"/><circle cx="532.9" cy="362.0" r="2.4"/><circle cx="478.4" cy="383.0" r="2.4"/><circle cx="435.4" cy="379.4" r="2.4"/><circle cx="432.9" cy="381.2" r="2.4"/><circle cx="522.1" cy="352.5" r="2.4"/><circle cx="420.0" cy="383.4" r="2.4"/><circle cx="481.4" cy="371.1" r="2.4"/><circle cx="435.9" cy="364.6" r="2.4"/><circle cx="449.4" cy="365.9" r="2.4"/><circle cx="549.9" cy="357.2" r="2.4"/><circle cx="445.8" cy="383.3" r="2.4"/><circle cx="498.7" cy="375.2" r="2.4"/><circle cx="510.2" cy="372.1" r="2.4"/><circle cx="447.5" cy="384.2" r="2.4"/><circle cx="428.1" cy="384.1" r="2.4"/><circle cx="510.4" cy="349.9" r="2.4"/><circle cx="469.4" cy="375.6" r="2.4"/><circle cx="447.5" cy="378.7" r="2.4"/><circle cx="437.2" cy="383.8" r="2.4"/><circle cx="551.8" cy="351.0" r="2.4"/><circle cx="494.4" cy="371.2" r="2.4"/><circle cx="478.6" cy="360.2" r="2.4"/><circle cx="423.5" cy="374.9" r="2.4"/><circle cx="535.0" cy="366.9" r="2.4"/><circle cx="453.6" cy="367.2" r="2.4"/><circle cx="513.7" cy="381.0" r="2.4"/><circle cx="533.7" cy="367.6" r="2.4"/><circle cx="436.3" cy="356.8" r="2.4"/><circle cx="550.3" cy="364.6" r="2.4"/><circle cx="531.4" cy="356.4" r="2.4"/><circle cx="484.2" cy="368.2" r="2.4"/><circle cx="504.1" cy="374.4" r="2.4"/><circle cx="445.7" cy="353.9" r="2.4"/><circle cx="504.0" cy="366.4" r="2.4"/><circle cx="466.1" cy="360.4" r="2.4"/><circle cx="452.2" cy="359.0" r="2.4"/><circle cx="500.7" cy="383.7" r="2.4"/><circle cx="460.2" cy="374.5" r="2.4"/><circle cx="501.6" cy="353.4" r="2.4"/><circle cx="523.3" cy="362.9" r="2.4"/><circle cx="445.1" cy="358.8" r="2.4"/><circle cx="436.6" cy="369.5" r="2.4"/><circle cx="451.7" cy="371.7" r="2.4"/><circle cx="465.5" cy="365.1" r="2.4"/><circle cx="504.6" cy="374.6" r="2.4"/><circle cx="467.0" cy="389.9" r="2.4"/><circle cx="500.2" cy="374.6" r="2.4"/><circle cx="555.0" cy="355.5" r="2.4"/><circle cx="440.2" cy="387.5" r="2.4"/><circle cx="508.5" cy="348.0" r="2.4"/><circle cx="472.5" cy="385.4" r="2.4"/><circle cx="464.6" cy="372.4" r="2.4"/><circle cx="488.5" cy="385.0" r="2.4"/><circle cx="424.4" cy="362.7" r="2.4"/><circle cx="451.3" cy="374.8" r="2.4"/><circle cx="445.6" cy="368.4" r="2.4"/><circle cx="489.7" cy="382.9" r="2.4"/><circle cx="439.2" cy="355.6" r="2.4"/><circle cx="414.2" cy="395.8" r="2.4"/><circle cx="412.9" cy="384.7" r="2.4"/><circle cx="510.8" cy="369.6" r="2.4"/><circle cx="498.7" cy="352.3" r="2.4"/><circle cx="522.9" cy="375.7" r="2.4"/><circle cx="498.2" cy="371.5" r="2.4"/><circle cx="415.0" cy="386.5" r="2.4"/><circle cx="501.3" cy="366.7" r="2.4"/><circle cx="481.6" cy="369.6" r="2.4"/><circle cx="546.2" cy="353.2" r="2.4"/><circle cx="439.3" cy="364.5" r="2.4"/><circle cx="418.5" cy="386.0" r="2.4"/><circle cx="519.9" cy="364.3" r="2.4"/><circle cx="465.2" cy="370.2" r="2.4"/><circle cx="471.6" cy="365.4" r="2.4"/><circle cx="503.2" cy="366.6" r="2.4"/><circle cx="433.0" cy="372.1" r="2.4"/><circle cx="468.8" cy="367.4" r="2.4"/><circle cx="514.9" cy="354.1" r="2.4"/><circle cx="487.6" cy="375.7" r="2.4"/><circle cx="533.3" cy="358.4" r="2.4"/><circle cx="525.6" cy="368.1" r="2.4"/><circle cx="445.6" cy="359.7" r="2.4"/><circle cx="514.4" cy="371.8" r="2.4"/><circle cx="492.8" cy="364.9" r="2.4"/><circle cx="424.8" cy="386.1" r="2.4"/><circle cx="443.8" cy="386.7" r="2.4"/><circle cx="508.4" cy="356.2" r="2.4"/><circle cx="522.5" cy="349.3" r="2.4"/><circle cx="429.1" cy="371.1" r="2.4"/><circle cx="501.5" cy="356.5" r="2.4"/><circle cx="452.3" cy="388.8" r="2.4"/><circle cx="433.2" cy="371.8" r="2.4"/><circle cx="421.7" cy="375.8" r="2.4"/><circle cx="421.8" cy="364.6" r="2.4"/><circle cx="470.3" cy="370.1" r="2.4"/><circle cx="423.8" cy="365.8" r="2.4"/><circle cx="489.0" cy="370.7" r="2.4"/><circle cx="518.7" cy="366.5" r="2.4"/><circle cx="465.1" cy="365.3" r="2.4"/><circle cx="490.9" cy="361.3" r="2.4"/><circle cx="520.9" cy="369.4" r="2.4"/><circle cx="518.8" cy="364.7" r="2.4"/><circle cx="450.7" cy="359.1" r="2.4"/><circle cx="483.6" cy="374.7" r="2.4"/><circle cx="472.1" cy="368.6" r="2.4"/><circle cx="424.8" cy="377.0" r="2.4"/><circle cx="435.6" cy="364.8" r="2.4"/><circle cx="419.7" cy="383.4" r="2.4"/><circle cx="438.7" cy="373.8" r="2.4"/><circle cx="545.5" cy="349.5" r="2.4"/><circle cx="534.0" cy="365.1" r="2.4"/><circle cx="518.4" cy="370.1" r="2.4"/><circle cx="522.9" cy="378.2" r="2.4"/><circle cx="536.7" cy="353.3" r="2.4"/><circle cx="433.8" cy="383.7" r="2.4"/><circle cx="485.7" cy="375.0" r="2.4"/><circle cx="459.1" cy="382.1" r="2.4"/><circle cx="434.6" cy="383.3" r="2.4"/><circle cx="426.8" cy="389.5" r="2.4"/><circle cx="526.4" cy="364.9" r="2.4"/><circle cx="493.2" cy="371.2" r="2.4"/><circle cx="501.9" cy="365.0" r="2.4"/><circle cx="530.7" cy="345.6" r="2.4"/><circle cx="433.6" cy="389.4" r="2.4"/><circle cx="554.0" cy="357.7" r="2.4"/><circle cx="474.4" cy="377.3" r="2.4"/><circle cx="455.1" cy="377.7" r="2.4"/><circle cx="540.3" cy="357.8" r="2.4"/><circle cx="443.5" cy="363.8" r="2.4"/><circle cx="524.9" cy="360.3" r="2.4"/><circle cx="430.4" cy="376.9" r="2.4"/><circle cx="488.2" cy="358.3" r="2.4"/><circle cx="490.9" cy="364.9" r="2.4"/><circle cx="453.3" cy="379.0" r="2.4"/><circle cx="489.6" cy="367.3" r="2.4"/><circle cx="541.1" cy="357.7" r="2.4"/><circle cx="458.7" cy="390.1" r="2.4"/><circle cx="424.4" cy="370.6" r="2.4"/><circle cx="469.8" cy="368.0" r="2.4"/><circle cx="422.0" cy="372.0" r="2.4"/><circle cx="495.8" cy="362.5" r="2.4"/><circle cx="506.1" cy="378.4" r="2.4"/><circle cx="412.0" cy="388.7" r="2.4"/><circle cx="519.5" cy="361.8" r="2.4"/><circle cx="499.2" cy="379.5" r="2.4"/><circle cx="468.3" cy="352.7" r="2.4"/><circle cx="406.3" cy="393.0" r="2.4"/><circle cx="432.8" cy="357.7" r="2.4"/><circle cx="469.7" cy="366.1" r="2.4"/><circle cx="516.8" cy="355.9" r="2.4"/><circle cx="413.5" cy="392.3" r="2.4"/><circle cx="500.6" cy="368.0" r="2.4"/><circle cx="408.2" cy="387.1" r="2.4"/><circle cx="479.4" cy="348.1" r="2.4"/><circle cx="446.9" cy="360.5" r="2.4"/><circle cx="511.7" cy="359.7" r="2.4"/><circle cx="429.2" cy="383.9" r="2.4"/><circle cx="523.2" cy="360.1" r="2.4"/><circle cx="508.7" cy="377.5" r="2.4"/><circle cx="550.0" cy="357.4" r="2.4"/><circle cx="481.6" cy="372.8" r="2.4"/><circle cx="438.2" cy="392.1" r="2.4"/><circle cx="506.9" cy="376.8" r="2.4"/><circle cx="480.0" cy="358.3" r="2.4"/><circle cx="409.4" cy="384.8" r="2.4"/><circle cx="433.1" cy="384.0" r="2.4"/><circle cx="440.9" cy="374.2" r="2.4"/><circle cx="499.9" cy="376.7" r="2.4"/><circle cx="531.3" cy="353.8" r="2.4"/><circle cx="431.3" cy="382.1" r="2.4"/><circle cx="468.9" cy="353.9" r="2.4"/><circle cx="492.5" cy="371.0" r="2.4"/><circle cx="521.7" cy="357.3" r="2.4"/><circle cx="528.2" cy="364.2" r="2.4"/><circle cx="471.3" cy="385.4" r="2.4"/><circle cx="431.7" cy="387.4" r="2.4"/><circle cx="434.7" cy="376.5" r="2.4"/><circle cx="493.4" cy="357.1" r="2.4"/><circle cx="475.9" cy="374.0" r="2.4"/><circle cx="416.5" cy="384.0" r="2.4"/><circle cx="544.4" cy="361.9" r="2.4"/><circle cx="495.7" cy="371.1" r="2.4"/><circle cx="516.6" cy="353.7" r="2.4"/><circle cx="458.6" cy="361.4" r="2.4"/><circle cx="473.1" cy="345.9" r="2.4"/><circle cx="454.9" cy="377.4" r="2.4"/><circle cx="434.5" cy="371.9" r="2.4"/><circle cx="536.1" cy="359.8" r="2.4"/><circle cx="526.7" cy="350.1" r="2.4"/><circle cx="483.3" cy="363.4" r="2.4"/><circle cx="454.5" cy="352.8" r="2.4"/><circle cx="447.9" cy="371.5" r="2.4"/><circle cx="426.0" cy="383.5" r="2.4"/><circle cx="501.2" cy="375.5" r="2.4"/><circle cx="413.5" cy="387.6" r="2.4"/><circle cx="488.9" cy="355.7" r="2.4"/><circle cx="508.1" cy="368.8" r="2.4"/><circle cx="406.0" cy="383.0" r="2.4"/><circle cx="491.6" cy="355.3" r="2.4"/><circle cx="492.0" cy="348.8" r="2.4"/><circle cx="420.0" cy="390.8" r="2.4"/><circle cx="504.1" cy="367.1" r="2.4"/><circle cx="436.8" cy="389.1" r="2.4"/><circle cx="468.3" cy="368.4" r="2.4"/><circle cx="444.2" cy="376.8" r="2.4"/><circle cx="422.7" cy="378.7" r="2.4"/><circle cx="512.9" cy="377.4" r="2.4"/><circle cx="497.6" cy="370.7" r="2.4"/><circle cx="514.1" cy="382.3" r="2.4"/><circle cx="468.9" cy="361.9" r="2.4"/><circle cx="446.0" cy="381.0" r="2.4"/><circle cx="499.5" cy="373.1" r="2.4"/><circle cx="457.0" cy="369.5" r="2.4"/><circle cx="499.2" cy="356.8" r="2.4"/><circle cx="426.7" cy="385.5" r="2.4"/><circle cx="455.6" cy="373.7" r="2.4"/><circle cx="522.0" cy="359.1" r="2.4"/><circle cx="443.9" cy="379.8" r="2.4"/><circle cx="436.0" cy="387.2" r="2.4"/><circle cx="460.7" cy="380.8" r="2.4"/><circle cx="461.8" cy="362.3" r="2.4"/><circle cx="425.6" cy="378.8" r="2.4"/><circle cx="470.3" cy="384.4" r="2.4"/><circle cx="442.7" cy="382.1" r="2.4"/><circle cx="553.6" cy="353.6" r="2.4"/><circle cx="467.9" cy="372.3" r="2.4"/><circle cx="443.2" cy="384.8" r="2.4"/><circle cx="414.5" cy="392.9" r="2.4"/><circle cx="516.4" cy="361.5" r="2.4"/><circle cx="468.2" cy="347.8" r="2.4"/><circle cx="440.3" cy="379.9" r="2.4"/><circle cx="439.3" cy="386.2" r="2.4"/><circle cx="503.5" cy="375.9" r="2.4"/><circle cx="483.6" cy="355.8" r="2.4"/><circle cx="466.1" cy="370.8" r="2.4"/><circle cx="425.6" cy="386.2" r="2.4"/><circle cx="421.4" cy="383.8" r="2.4"/><circle cx="457.9" cy="381.3" r="2.4"/><circle cx="422.2" cy="396.1" r="2.4"/><circle cx="406.6" cy="383.7" r="2.4"/><circle cx="514.0" cy="362.7" r="2.4"/><circle cx="431.0" cy="367.2" r="2.4"/><circle cx="512.2" cy="365.1" r="2.4"/><circle cx="451.3" cy="381.7" r="2.4"/><circle cx="472.0" cy="368.8" r="2.4"/><circle cx="514.3" cy="369.8" r="2.4"/><circle cx="488.5" cy="375.5" r="2.4"/><circle cx="470.6" cy="354.2" r="2.4"/><circle cx="446.5" cy="385.3" r="2.4"/><circle cx="415.7" cy="384.0" r="2.4"/><circle cx="506.1" cy="365.5" r="2.4"/><circle cx="518.0" cy="360.4" r="2.4"/><circle cx="445.5" cy="369.9" r="2.4"/><circle cx="447.0" cy="385.3" r="2.4"/><circle cx="518.9" cy="364.0" r="2.4"/><circle cx="407.9" cy="372.1" r="2.4"/><circle cx="412.4" cy="384.4" r="2.4"/><circle cx="522.0" cy="370.9" r="2.4"/><circle cx="459.6" cy="379.3" r="2.4"/><circle cx="458.7" cy="358.1" r="2.4"/><circle cx="453.6" cy="388.1" r="2.4"/><circle cx="446.8" cy="352.6" r="2.4"/><circle cx="498.7" cy="381.9" r="2.4"/><circle cx="424.6" cy="381.0" r="2.4"/><circle cx="527.2" cy="358.1" r="2.4"/><circle cx="554.7" cy="354.8" r="2.4"/><circle cx="515.4" cy="367.3" r="2.4"/><circle cx="437.9" cy="374.1" r="2.4"/><circle cx="508.3" cy="345.4" r="2.4"/><circle cx="522.0" cy="381.3" r="2.4"/><circle cx="424.1" cy="389.8" r="2.4"/><circle cx="489.6" cy="376.5" r="2.4"/><circle cx="427.0" cy="375.2" r="2.4"/><circle cx="494.9" cy="364.9" r="2.4"/><circle cx="431.6" cy="370.1" r="2.4"/><circle cx="423.1" cy="382.5" r="2.4"/><circle cx="456.7" cy="374.9" r="2.4"/><circle cx="451.8" cy="369.5" r="2.4"/><circle cx="488.1" cy="378.0" r="2.4"/><circle cx="478.4" cy="380.6" r="2.4"/><circle cx="515.7" cy="370.8" r="2.4"/><circle cx="451.0" cy="389.6" r="2.4"/><circle cx="417.6" cy="387.9" r="2.4"/><circle cx="503.3" cy="368.7" r="2.4"/><circle cx="450.0" cy="386.4" r="2.4"/><circle cx="470.8" cy="381.9" r="2.4"/><circle cx="426.4" cy="386.9" r="2.4"/><circle cx="427.0" cy="367.6" r="2.4"/><circle cx="464.2" cy="354.5" r="2.4"/><circle cx="525.1" cy="371.3" r="2.4"/><circle cx="419.8" cy="370.3" r="2.4"/><circle cx="472.8" cy="372.8" r="2.4"/><circle cx="424.0" cy="390.9" r="2.4"/><circle cx="451.5" cy="378.7" r="2.4"/><circle cx="522.6" cy="370.9" r="2.4"/><circle cx="522.9" cy="371.4" r="2.4"/><circle cx="443.1" cy="390.7" r="2.4"/><circle cx="529.5" cy="360.6" r="2.4"/><circle cx="486.6" cy="387.3" r="2.4"/><circle cx="481.8" cy="378.1" r="2.4"/><circle cx="549.2" cy="355.4" r="2.4"/><circle cx="491.9" cy="345.9" r="2.4"/><circle cx="464.2" cy="375.7" r="2.4"/><circle cx="472.6" cy="371.8" r="2.4"/><circle cx="550.5" cy="354.1" r="2.4"/><circle cx="469.2" cy="375.4" r="2.4"/><circle cx="442.0" cy="361.4" r="2.4"/><circle cx="474.0" cy="375.6" r="2.4"/><circle cx="437.7" cy="376.3" r="2.4"/><circle cx="480.3" cy="381.1" r="2.4"/><circle cx="524.5" cy="362.0" r="2.4"/><circle cx="414.4" cy="370.0" r="2.4"/><circle cx="434.4" cy="380.8" r="2.4"/><circle cx="506.8" cy="371.7" r="2.4"/><circle cx="433.3" cy="380.6" r="2.4"/><circle cx="436.3" cy="384.6" r="2.4"/><circle cx="486.6" cy="369.7" r="2.4"/><circle cx="474.7" cy="377.3" r="2.4"/><circle cx="411.2" cy="391.3" r="2.4"/><circle cx="425.0" cy="394.6" r="2.4"/><circle cx="510.7" cy="359.9" r="2.4"/><circle cx="468.3" cy="377.9" r="2.4"/><circle cx="444.9" cy="390.6" r="2.4"/><circle cx="444.2" cy="390.1" r="2.4"/><circle cx="498.0" cy="368.1" r="2.4"/><circle cx="497.8" cy="379.0" r="2.4"/><circle cx="501.8" cy="366.2" r="2.4"/><circle cx="494.7" cy="355.8" r="2.4"/><circle cx="472.9" cy="371.4" r="2.4"/><circle cx="463.1" cy="371.5" r="2.4"/><circle cx="445.3" cy="357.8" r="2.4"/><circle cx="438.7" cy="393.9" r="2.4"/><circle cx="534.2" cy="369.1" r="2.4"/><circle cx="412.2" cy="384.7" r="2.4"/><circle cx="498.9" cy="363.3" r="2.4"/><circle cx="439.2" cy="393.8" r="2.4"/><circle cx="470.2" cy="359.9" r="2.4"/><circle cx="542.3" cy="356.5" r="2.4"/><circle cx="545.5" cy="357.5" r="2.4"/><circle cx="442.0" cy="374.1" r="2.4"/><circle cx="414.2" cy="389.3" r="2.4"/><circle cx="548.3" cy="353.1" r="2.4"/><circle cx="497.0" cy="366.6" r="2.4"/><circle cx="519.7" cy="368.8" r="2.4"/><circle cx="519.5" cy="359.3" r="2.4"/><circle cx="468.6" cy="385.6" r="2.4"/><circle cx="488.5" cy="375.1" r="2.4"/><circle cx="438.3" cy="384.1" r="2.4"/><circle cx="441.4" cy="377.6" r="2.4"/><circle cx="478.3" cy="376.3" r="2.4"/><circle cx="527.4" cy="361.3" r="2.4"/><circle cx="461.5" cy="389.2" r="2.4"/><circle cx="450.2" cy="389.1" r="2.4"/><circle cx="472.7" cy="367.7" r="2.4"/><circle cx="424.0" cy="383.8" r="2.4"/><circle cx="478.6" cy="380.5" r="2.4"/><circle cx="502.5" cy="364.5" r="2.4"/><circle cx="471.9" cy="369.5" r="2.4"/><circle cx="513.6" cy="354.8" r="2.4"/><circle cx="435.9" cy="375.7" r="2.4"/><circle cx="506.0" cy="375.1" r="2.4"/><circle cx="518.9" cy="363.8" r="2.4"/><circle cx="503.7" cy="354.6" r="2.4"/><circle cx="508.2" cy="359.6" r="2.4"/><circle cx="520.3" cy="371.0" r="2.4"/><circle cx="414.2" cy="371.2" r="2.4"/><circle cx="470.9" cy="380.9" r="2.4"/><circle cx="485.4" cy="372.5" r="2.4"/><circle cx="457.9" cy="386.4" r="2.4"/><circle cx="467.5" cy="373.1" r="2.4"/><circle cx="540.9" cy="358.0" r="2.4"/><circle cx="410.7" cy="387.2" r="2.4"/><circle cx="554.1" cy="358.1" r="2.4"/><circle cx="529.1" cy="370.2" r="2.4"/><circle cx="429.4" cy="376.0" r="2.4"/><circle cx="471.0" cy="379.0" r="2.4"/><circle cx="518.6" cy="358.5" r="2.4"/><circle cx="454.5" cy="371.0" r="2.4"/><circle cx="483.6" cy="369.8" r="2.4"/><circle cx="460.3" cy="371.0" r="2.4"/><circle cx="537.0" cy="358.5" r="2.4"/><circle cx="462.1" cy="376.2" r="2.4"/><circle cx="469.0" cy="389.1" r="2.4"/><circle cx="466.7" cy="350.5" r="2.4"/><circle cx="479.2" cy="353.8" r="2.4"/><circle cx="538.4" cy="358.0" r="2.4"/><circle cx="487.4" cy="377.3" r="2.4"/><circle cx="409.0" cy="382.6" r="2.4"/><circle cx="485.3" cy="384.1" r="2.4"/><circle cx="414.8" cy="377.4" r="2.4"/><circle cx="440.4" cy="356.0" r="2.4"/><circle cx="541.3" cy="355.6" r="2.4"/><circle cx="406.7" cy="379.0" r="2.4"/><circle cx="552.0" cy="355.5" r="2.4"/><circle cx="426.7" cy="384.1" r="2.4"/><circle cx="445.6" cy="388.4" r="2.4"/><circle cx="458.1" cy="350.3" r="2.4"/><circle cx="518.9" cy="363.7" r="2.4"/><circle cx="535.0" cy="363.1" r="2.4"/><circle cx="510.7" cy="357.9" r="2.4"/><circle cx="445.6" cy="361.5" r="2.4"/><circle cx="525.2" cy="355.5" r="2.4"/><circle cx="468.2" cy="379.6" r="2.4"/><circle cx="417.1" cy="378.4" r="2.4"/><circle cx="668.9" cy="357.6" r="2.4"/><circle cx="600.1" cy="377.3" r="2.4"/><circle cx="641.4" cy="365.2" r="2.4"/><circle cx="612.0" cy="378.3" r="2.4"/><circle cx="670.2" cy="348.8" r="2.4"/><circle cx="610.5" cy="387.8" r="2.4"/><circle cx="659.7" cy="346.3" r="2.4"/><circle cx="618.1" cy="374.4" r="2.4"/><circle cx="628.4" cy="383.2" r="2.4"/><circle cx="641.1" cy="380.8" r="2.4"/><circle cx="637.9" cy="370.7" r="2.4"/><circle cx="634.3" cy="366.6" r="2.4"/><circle cx="638.7" cy="360.4" r="2.4"/><circle cx="612.9" cy="381.0" r="2.4"/><circle cx="592.4" cy="389.3" r="2.4"/><circle cx="596.0" cy="364.5" r="2.4"/><circle cx="655.7" cy="353.1" r="2.4"/><circle cx="632.5" cy="377.8" r="2.4"/><circle cx="609.5" cy="364.9" r="2.4"/><circle cx="658.7" cy="347.1" r="2.4"/><circle cx="590.6" cy="358.3" r="2.4"/><circle cx="625.0" cy="376.1" r="2.4"/><circle cx="578.8" cy="359.8" r="2.4"/><circle cx="635.5" cy="362.6" r="2.4"/><circle cx="632.1" cy="367.5" r="2.4"/><circle cx="665.1" cy="358.8" r="2.4"/><circle cx="618.9" cy="358.4" r="2.4"/><circle cx="623.5" cy="367.5" r="2.4"/><circle cx="583.1" cy="369.4" r="2.4"/><circle cx="591.3" cy="378.6" r="2.4"/><circle cx="655.2" cy="359.7" r="2.4"/><circle cx="635.8" cy="360.2" r="2.4"/><circle cx="630.2" cy="361.7" r="2.4"/><circle cx="561.0" cy="383.5" r="2.4"/><circle cx="592.8" cy="375.2" r="2.4"/><circle cx="627.6" cy="371.7" r="2.4"/><circle cx="564.7" cy="380.0" r="2.4"/><circle cx="605.2" cy="389.9" r="2.4"/><circle cx="666.8" cy="359.9" r="2.4"/><circle cx="594.6" cy="359.0" r="2.4"/><circle cx="650.3" cy="358.3" r="2.4"/><circle cx="592.7" cy="375.4" r="2.4"/><circle cx="625.8" cy="382.9" r="2.4"/><circle cx="660.4" cy="356.6" r="2.4"/><circle cx="649.5" cy="363.1" r="2.4"/><circle cx="592.7" cy="380.9" r="2.4"/><circle cx="566.2" cy="366.4" r="2.4"/><circle cx="566.4" cy="372.3" r="2.4"/><circle cx="630.0" cy="364.2" r="2.4"/><circle cx="576.5" cy="365.4" r="2.4"/><circle cx="603.7" cy="357.3" r="2.4"/><circle cx="666.4" cy="352.7" r="2.4"/><circle cx="617.2" cy="366.5" r="2.4"/><circle cx="600.3" cy="375.6" r="2.4"/><circle cx="626.3" cy="362.9" r="2.4"/><circle cx="577.7" cy="378.4" r="2.4"/><circle cx="613.7" cy="371.0" r="2.4"/><circle cx="603.1" cy="371.8" r="2.4"/><circle cx="643.5" cy="352.0" r="2.4"/><circle cx="573.3" cy="379.3" r="2.4"/><circle cx="607.5" cy="380.9" r="2.4"/><circle cx="647.0" cy="373.0" r="2.4"/><circle cx="610.8" cy="367.6" r="2.4"/><circle cx="645.7" cy="377.4" r="2.4"/><circle cx="583.0" cy="361.8" r="2.4"/><circle cx="639.8" cy="373.4" r="2.4"/><circle cx="617.6" cy="363.7" r="2.4"/><circle cx="663.3" cy="348.0" r="2.4"/><circle cx="618.1" cy="360.4" r="2.4"/><circle cx="630.4" cy="349.2" r="2.4"/><circle cx="651.2" cy="361.8" r="2.4"/><circle cx="614.3" cy="358.0" r="2.4"/><circle cx="650.0" cy="371.9" r="2.4"/><circle cx="622.8" cy="349.0" r="2.4"/><circle cx="610.5" cy="364.6" r="2.4"/><circle cx="630.6" cy="351.9" r="2.4"/><circle cx="609.3" cy="355.6" r="2.4"/><circle cx="625.9" cy="381.0" r="2.4"/><circle cx="628.9" cy="351.4" r="2.4"/><circle cx="583.6" cy="385.5" r="2.4"/><circle cx="600.3" cy="376.8" r="2.4"/><circle cx="592.3" cy="390.8" r="2.4"/><circle cx="567.8" cy="366.4" r="2.4"/><circle cx="605.2" cy="375.6" r="2.4"/><circle cx="629.4" cy="362.3" r="2.4"/><circle cx="598.5" cy="350.9" r="2.4"/><circle cx="624.7" cy="379.8" r="2.4"/><circle cx="655.0" cy="353.9" r="2.4"/><circle cx="625.9" cy="352.8" r="2.4"/><circle cx="590.8" cy="377.5" r="2.4"/><circle cx="585.6" cy="385.7" r="2.4"/><circle cx="599.7" cy="376.5" r="2.4"/><circle cx="630.3" cy="365.7" r="2.4"/><circle cx="575.4" cy="376.0" r="2.4"/><circle cx="561.0" cy="382.7" r="2.4"/><circle cx="647.8" cy="350.4" r="2.4"/><circle cx="621.2" cy="380.4" r="2.4"/><circle cx="598.9" cy="366.9" r="2.4"/><circle cx="613.8" cy="366.6" r="2.4"/><circle cx="668.8" cy="351.2" r="2.4"/><circle cx="571.9" cy="389.6" r="2.4"/><circle cx="596.7" cy="377.4" r="2.4"/><circle cx="632.1" cy="362.4" r="2.4"/><circle cx="575.6" cy="368.6" r="2.4"/><circle cx="577.7" cy="377.0" r="2.4"/><circle cx="569.5" cy="371.4" r="2.4"/><circle cx="611.9" cy="371.7" r="2.4"/><circle cx="593.8" cy="379.4" r="2.4"/><circle cx="644.6" cy="376.9" r="2.4"/><circle cx="661.3" cy="350.9" r="2.4"/><circle cx="571.1" cy="380.8" r="2.4"/><circle cx="621.4" cy="390.7" r="2.4"/><circle cx="609.0" cy="377.4" r="2.4"/><circle cx="660.0" cy="365.5" r="2.4"/><circle cx="614.1" cy="367.4" r="2.4"/><circle cx="646.7" cy="372.1" r="2.4"/><circle cx="580.2" cy="381.4" r="2.4"/><circle cx="568.2" cy="368.5" r="2.4"/><circle cx="580.7" cy="376.9" r="2.4"/><circle cx="596.6" cy="386.3" r="2.4"/><circle cx="635.7" cy="376.7" r="2.4"/><circle cx="649.7" cy="351.9" r="2.4"/><circle cx="607.6" cy="375.9" r="2.4"/><circle cx="647.9" cy="348.8" r="2.4"/><circle cx="641.5" cy="358.8" r="2.4"/><circle cx="632.4" cy="361.3" r="2.4"/><circle cx="657.5" cy="368.2" r="2.4"/><circle cx="621.4" cy="373.3" r="2.4"/><circle cx="643.3" cy="377.5" r="2.4"/><circle cx="645.2" cy="357.2" r="2.4"/><circle cx="665.5" cy="357.2" r="2.4"/><circle cx="660.4" cy="347.8" r="2.4"/><circle cx="587.6" cy="382.3" r="2.4"/><circle cx="617.7" cy="365.8" r="2.4"/><circle cx="628.7" cy="372.8" r="2.4"/><circle cx="658.0" cy="351.6" r="2.4"/><circle cx="606.8" cy="387.7" r="2.4"/><circle cx="621.4" cy="367.7" r="2.4"/><circle cx="647.8" cy="365.7" r="2.4"/><circle cx="599.4" cy="389.5" r="2.4"/><circle cx="574.9" cy="385.9" r="2.4"/><circle cx="582.0" cy="359.4" r="2.4"/><circle cx="664.8" cy="349.7" r="2.4"/><circle cx="563.2" cy="382.1" r="2.4"/><circle cx="668.4" cy="348.0" r="2.4"/><circle cx="607.6" cy="365.4" r="2.4"/><circle cx="581.9" cy="367.7" r="2.4"/><circle cx="649.4" cy="360.5" r="2.4"/><circle cx="620.6" cy="379.4" r="2.4"/><circle cx="611.8" cy="372.2" r="2.4"/><circle cx="624.3" cy="350.5" r="2.4"/><circle cx="663.4" cy="358.6" r="2.4"/><circle cx="639.4" cy="366.9" r="2.4"/><circle cx="654.9" cy="356.4" r="2.4"/><circle cx="615.2" cy="377.5" r="2.4"/><circle cx="586.9" cy="386.6" r="2.4"/><circle cx="589.6" cy="379.1" r="2.4"/><circle cx="659.9" cy="360.2" r="2.4"/><circle cx="621.4" cy="369.5" r="2.4"/><circle cx="647.6" cy="357.1" r="2.4"/><circle cx="674.1" cy="356.5" r="2.4"/><circle cx="562.0" cy="380.9" r="2.4"/><circle cx="601.7" cy="384.2" r="2.4"/><circle cx="576.2" cy="387.9" r="2.4"/><circle cx="628.4" cy="366.2" r="2.4"/><circle cx="672.5" cy="357.8" r="2.4"/><circle cx="578.4" cy="383.5" r="2.4"/><circle cx="594.8" cy="384.9" r="2.4"/><circle cx="591.7" cy="376.0" r="2.4"/><circle cx="637.6" cy="381.9" r="2.4"/><circle cx="650.3" cy="368.1" r="2.4"/><circle cx="567.7" cy="386.4" r="2.4"/><circle cx="573.9" cy="362.5" r="2.4"/><circle cx="652.4" cy="356.4" r="2.4"/><circle cx="647.9" cy="360.2" r="2.4"/><circle cx="630.9" cy="351.8" r="2.4"/><circle cx="662.1" cy="368.4" r="2.4"/><circle cx="586.4" cy="371.5" r="2.4"/><circle cx="651.2" cy="351.0" r="2.4"/><circle cx="601.5" cy="375.5" r="2.4"/><circle cx="624.4" cy="373.5" r="2.4"/><circle cx="637.9" cy="369.2" r="2.4"/><circle cx="560.5" cy="379.1" r="2.4"/><circle cx="590.8" cy="372.8" r="2.4"/><circle cx="594.1" cy="379.5" r="2.4"/><circle cx="624.3" cy="353.6" r="2.4"/><circle cx="624.0" cy="353.1" r="2.4"/><circle cx="620.2" cy="360.2" r="2.4"/><circle cx="561.6" cy="377.0" r="2.4"/><circle cx="622.3" cy="367.2" r="2.4"/><circle cx="646.0" cy="363.5" r="2.4"/><circle cx="624.3" cy="383.8" r="2.4"/><circle cx="638.1" cy="359.5" r="2.4"/><circle cx="673.0" cy="360.4" r="2.4"/><circle cx="665.7" cy="351.5" r="2.4"/><circle cx="636.2" cy="354.7" r="2.4"/><circle cx="587.0" cy="377.8" r="2.4"/><circle cx="634.6" cy="348.0" r="2.4"/><circle cx="623.6" cy="384.4" r="2.4"/><circle cx="641.0" cy="347.4" r="2.4"/><circle cx="599.2" cy="370.5" r="2.4"/><circle cx="607.3" cy="374.3" r="2.4"/><circle cx="668.6" cy="357.0" r="2.4"/><circle cx="600.1" cy="350.6" r="2.4"/><circle cx="632.5" cy="364.5" r="2.4"/><circle cx="584.1" cy="380.1" r="2.4"/><circle cx="653.8" cy="368.4" r="2.4"/><circle cx="569.5" cy="378.4" r="2.4"/><circle cx="650.3" cy="359.0" r="2.4"/><circle cx="651.9" cy="361.3" r="2.4"/><circle cx="633.9" cy="359.2" r="2.4"/><circle cx="643.0" cy="373.2" r="2.4"/><circle cx="658.2" cy="364.6" r="2.4"/><circle cx="661.4" cy="358.3" r="2.4"/><circle cx="573.6" cy="390.7" r="2.4"/><circle cx="565.2" cy="384.2" r="2.4"/><circle cx="574.2" cy="386.5" r="2.4"/><circle cx="598.4" cy="379.8" r="2.4"/><circle cx="583.6" cy="362.7" r="2.4"/><circle cx="604.2" cy="375.5" r="2.4"/><circle cx="656.7" cy="361.8" r="2.4"/><circle cx="619.8" cy="381.8" r="2.4"/><circle cx="623.8" cy="362.1" r="2.4"/><circle cx="577.3" cy="375.9" r="2.4"/><circle cx="631.5" cy="349.6" r="2.4"/><circle cx="620.7" cy="362.9" r="2.4"/><circle cx="619.5" cy="357.1" r="2.4"/><circle cx="623.5" cy="364.0" r="2.4"/><circle cx="590.4" cy="353.4" r="2.4"/><circle cx="616.6" cy="389.5" r="2.4"/><circle cx="645.4" cy="358.0" r="2.4"/><circle cx="632.5" cy="377.6" r="2.4"/><circle cx="627.6" cy="386.8" r="2.4"/><circle cx="577.8" cy="379.7" r="2.4"/><circle cx="606.0" cy="385.0" r="2.4"/><circle cx="664.0" cy="351.4" r="2.4"/><circle cx="598.0" cy="371.3" r="2.4"/><circle cx="666.9" cy="361.0" r="2.4"/><circle cx="644.0" cy="370.6" r="2.4"/><circle cx="646.6" cy="355.1" r="2.4"/><circle cx="617.2" cy="367.8" r="2.4"/><circle cx="641.3" cy="351.2" r="2.4"/><circle cx="594.6" cy="382.4" r="2.4"/><circle cx="614.5" cy="393.3" r="2.4"/><circle cx="592.3" cy="382.6" r="2.4"/><circle cx="671.5" cy="352.5" r="2.4"/><circle cx="581.5" cy="376.1" r="2.4"/><circle cx="659.8" cy="346.3" r="2.4"/><circle cx="622.0" cy="378.0" r="2.4"/><circle cx="640.4" cy="379.0" r="2.4"/><circle cx="581.7" cy="372.3" r="2.4"/><circle cx="671.9" cy="361.2" r="2.4"/><circle cx="645.8" cy="364.4" r="2.4"/><circle cx="619.3" cy="369.2" r="2.4"/><circle cx="592.4" cy="370.9" r="2.4"/><circle cx="635.2" cy="350.1" r="2.4"/><circle cx="645.7" cy="372.3" r="2.4"/><circle cx="640.1" cy="355.8" r="2.4"/><circle cx="624.3" cy="369.5" r="2.4"/><circle cx="618.6" cy="349.4" r="2.4"/><circle cx="630.1" cy="362.6" r="2.4"/><circle cx="635.7" cy="360.5" r="2.4"/><circle cx="645.9" cy="358.5" r="2.4"/><circle cx="567.4" cy="385.0" r="2.4"/><circle cx="602.8" cy="384.8" r="2.4"/><circle cx="648.4" cy="361.1" r="2.4"/><circle cx="616.1" cy="384.3" r="2.4"/><circle cx="597.8" cy="352.2" r="2.4"/><circle cx="639.6" cy="380.1" r="2.4"/><circle cx="621.5" cy="365.7" r="2.4"/><circle cx="649.3" cy="358.5" r="2.4"/><circle cx="611.5" cy="378.2" r="2.4"/><circle cx="653.2" cy="362.9" r="2.4"/><circle cx="602.6" cy="370.5" r="2.4"/><circle cx="663.2" cy="350.9" r="2.4"/><circle cx="608.2" cy="369.6" r="2.4"/><circle cx="583.0" cy="372.7" r="2.4"/><circle cx="650.0" cy="360.0" r="2.4"/><circle cx="661.4" cy="350.1" r="2.4"/><circle cx="663.9" cy="365.2" r="2.4"/><circle cx="594.9" cy="369.9" r="2.4"/><circle cx="633.2" cy="350.0" r="2.4"/><circle cx="602.3" cy="355.6" r="2.4"/><circle cx="608.8" cy="366.8" r="2.4"/><circle cx="620.0" cy="387.8" r="2.4"/><circle cx="664.9" cy="347.9" r="2.4"/><circle cx="594.6" cy="362.4" r="2.4"/><circle cx="583.9" cy="366.9" r="2.4"/><circle cx="636.4" cy="350.6" r="2.4"/><circle cx="609.0" cy="378.8" r="2.4"/><circle cx="647.1" cy="372.5" r="2.4"/><circle cx="659.3" cy="356.6" r="2.4"/><circle cx="571.6" cy="380.5" r="2.4"/><circle cx="624.6" cy="376.2" r="2.4"/><circle cx="667.6" cy="355.3" r="2.4"/><circle cx="572.6" cy="388.1" r="2.4"/><circle cx="594.4" cy="376.4" r="2.4"/><circle cx="609.6" cy="358.3" r="2.4"/><circle cx="590.7" cy="390.2" r="2.4"/><circle cx="672.0" cy="359.5" r="2.4"/><circle cx="407.0" cy="395.0" r="2.4"/><circle cx="410.0" cy="397.0" r="2.4"/><circle cx="491.0" cy="386.0" r="2.4"/><circle cx="495.0" cy="388.0" r="2.4"/><circle cx="500.0" cy="387.0" r="2.4"/><circle cx="505.0" cy="389.0" r="2.4"/><circle cx="510.0" cy="386.0" r="2.4"/><circle cx="560.0" cy="393.0" r="2.4"/><circle cx="562.0" cy="396.0" r="2.4"/><circle cx="556.0" cy="356.0" r="2.4"/><circle cx="552.0" cy="352.0" r="2.4"/><circle cx="665.0" cy="343.0" r="2.4"/><circle cx="670.0" cy="345.0" r="2.4"/><circle cx="677.0" cy="350.0" r="2.4"/>
</g>
<g fill="#30BEF0" fill-opacity="0.85">
<circle cx="429.6" cy="379.6" r="2.4"/><circle cx="456.2" cy="385.1" r="2.4"/><circle cx="419.4" cy="378.5" r="2.4"/><circle cx="470.0" cy="371.5" r="2.4"/><circle cx="503.5" cy="359.8" r="2.4"/><circle cx="490.9" cy="379.1" r="2.4"/><circle cx="521.9" cy="360.9" r="2.4"/><circle cx="541.5" cy="364.2" r="2.4"/><circle cx="475.7" cy="358.9" r="2.4"/><circle cx="457.0" cy="378.7" r="2.4"/><circle cx="463.4" cy="368.2" r="2.4"/><circle cx="493.1" cy="361.8" r="2.4"/><circle cx="455.4" cy="356.3" r="2.4"/><circle cx="460.0" cy="374.8" r="2.4"/><circle cx="488.4" cy="371.5" r="2.4"/><circle cx="522.4" cy="371.2" r="2.4"/><circle cx="453.9" cy="389.2" r="2.4"/><circle cx="511.1" cy="361.5" r="2.4"/><circle cx="442.5" cy="367.1" r="2.4"/><circle cx="447.9" cy="361.8" r="2.4"/><circle cx="518.0" cy="359.1" r="2.4"/><circle cx="441.6" cy="390.3" r="2.4"/><circle cx="540.2" cy="351.7" r="2.4"/><circle cx="510.5" cy="357.0" r="2.4"/><circle cx="475.2" cy="362.7" r="2.4"/><circle cx="508.8" cy="356.5" r="2.4"/><circle cx="468.5" cy="381.9" r="2.4"/><circle cx="466.1" cy="367.2" r="2.4"/><circle cx="426.2" cy="381.6" r="2.4"/><circle cx="449.8" cy="375.2" r="2.4"/><circle cx="543.1" cy="359.9" r="2.4"/><circle cx="503.1" cy="361.4" r="2.4"/><circle cx="437.4" cy="383.3" r="2.4"/><circle cx="485.1" cy="376.8" r="2.4"/><circle cx="454.8" cy="381.0" r="2.4"/><circle cx="450.7" cy="361.2" r="2.4"/><circle cx="457.4" cy="376.0" r="2.4"/><circle cx="447.2" cy="382.9" r="2.4"/><circle cx="485.1" cy="355.9" r="2.4"/><circle cx="481.3" cy="365.0" r="2.4"/><circle cx="519.1" cy="361.5" r="2.4"/><circle cx="518.2" cy="361.6" r="2.4"/><circle cx="455.1" cy="389.2" r="2.4"/><circle cx="478.9" cy="376.8" r="2.4"/><circle cx="503.2" cy="376.8" r="2.4"/><circle cx="505.1" cy="374.2" r="2.4"/><circle cx="525.3" cy="360.3" r="2.4"/><circle cx="458.1" cy="354.5" r="2.4"/><circle cx="537.8" cy="353.1" r="2.4"/><circle cx="466.7" cy="353.1" r="2.4"/><circle cx="483.4" cy="380.1" r="2.4"/><circle cx="427.3" cy="366.6" r="2.4"/><circle cx="504.5" cy="364.1" r="2.4"/><circle cx="497.1" cy="376.1" r="2.4"/><circle cx="431.6" cy="383.2" r="2.4"/><circle cx="533.1" cy="356.2" r="2.4"/><circle cx="493.6" cy="354.8" r="2.4"/><circle cx="505.7" cy="364.3" r="2.4"/><circle cx="545.8" cy="360.1" r="2.4"/><circle cx="522.5" cy="354.0" r="2.4"/><circle cx="512.3" cy="369.6" r="2.4"/><circle cx="419.1" cy="370.2" r="2.4"/><circle cx="473.1" cy="356.4" r="2.4"/><circle cx="475.0" cy="351.7" r="2.4"/><circle cx="419.7" cy="378.9" r="2.4"/><circle cx="444.9" cy="378.2" r="2.4"/><circle cx="497.9" cy="380.2" r="2.4"/><circle cx="424.6" cy="389.1" r="2.4"/><circle cx="509.0" cy="356.0" r="2.4"/><circle cx="473.8" cy="365.6" r="2.4"/><circle cx="446.0" cy="370.4" r="2.4"/><circle cx="477.2" cy="370.3" r="2.4"/><circle cx="498.8" cy="352.5" r="2.4"/><circle cx="537.5" cy="356.7" r="2.4"/><circle cx="508.8" cy="362.6" r="2.4"/><circle cx="478.9" cy="358.1" r="2.4"/><circle cx="487.9" cy="356.9" r="2.4"/><circle cx="446.9" cy="374.8" r="2.4"/><circle cx="478.8" cy="365.8" r="2.4"/><circle cx="457.4" cy="368.9" r="2.4"/><circle cx="452.3" cy="379.1" r="2.4"/><circle cx="438.9" cy="366.0" r="2.4"/><circle cx="514.7" cy="355.6" r="2.4"/><circle cx="539.1" cy="360.9" r="2.4"/><circle cx="467.0" cy="355.1" r="2.4"/><circle cx="506.1" cy="377.6" r="2.4"/><circle cx="536.9" cy="369.0" r="2.4"/><circle cx="515.2" cy="349.2" r="2.4"/><circle cx="483.7" cy="379.1" r="2.4"/><circle cx="507.7" cy="353.5" r="2.4"/><circle cx="450.4" cy="382.9" r="2.4"/><circle cx="463.0" cy="363.6" r="2.4"/><circle cx="520.6" cy="359.8" r="2.4"/><circle cx="530.3" cy="362.7" r="2.4"/><circle cx="432.0" cy="377.1" r="2.4"/><circle cx="508.7" cy="365.8" r="2.4"/><circle cx="516.1" cy="378.1" r="2.4"/><circle cx="439.3" cy="367.5" r="2.4"/><circle cx="527.9" cy="369.0" r="2.4"/><circle cx="514.0" cy="351.3" r="2.4"/><circle cx="498.7" cy="355.5" r="2.4"/><circle cx="502.1" cy="373.9" r="2.4"/><circle cx="547.1" cy="354.4" r="2.4"/><circle cx="483.9" cy="368.4" r="2.4"/><circle cx="489.2" cy="365.1" r="2.4"/><circle cx="420.5" cy="372.3" r="2.4"/><circle cx="512.3" cy="367.1" r="2.4"/><circle cx="519.6" cy="367.8" r="2.4"/><circle cx="446.8" cy="369.4" r="2.4"/><circle cx="511.7" cy="355.1" r="2.4"/><circle cx="485.3" cy="368.3" r="2.4"/><circle cx="476.5" cy="366.9" r="2.4"/><circle cx="469.4" cy="389.0" r="2.4"/><circle cx="422.7" cy="380.8" r="2.4"/><circle cx="479.2" cy="373.5" r="2.4"/><circle cx="497.4" cy="367.1" r="2.4"/><circle cx="535.2" cy="355.1" r="2.4"/><circle cx="464.1" cy="364.5" r="2.4"/><circle cx="482.2" cy="356.0" r="2.4"/><circle cx="459.0" cy="382.0" r="2.4"/><circle cx="464.0" cy="382.2" r="2.4"/><circle cx="469.4" cy="362.0" r="2.4"/><circle cx="496.4" cy="373.0" r="2.4"/><circle cx="505.0" cy="353.1" r="2.4"/><circle cx="441.3" cy="386.9" r="2.4"/><circle cx="476.8" cy="365.5" r="2.4"/><circle cx="475.2" cy="366.7" r="2.4"/><circle cx="477.2" cy="379.7" r="2.4"/><circle cx="438.8" cy="375.6" r="2.4"/><circle cx="501.3" cy="353.3" r="2.4"/><circle cx="501.3" cy="363.2" r="2.4"/><circle cx="541.2" cy="358.5" r="2.4"/><circle cx="546.4" cy="358.1" r="2.4"/><circle cx="450.4" cy="374.9" r="2.4"/><circle cx="441.4" cy="373.5" r="2.4"/><circle cx="436.2" cy="384.4" r="2.4"/><circle cx="467.5" cy="362.8" r="2.4"/><circle cx="548.7" cy="358.8" r="2.4"/><circle cx="454.3" cy="378.8" r="2.4"/><circle cx="497.2" cy="373.5" r="2.4"/><circle cx="492.9" cy="368.0" r="2.4"/><circle cx="431.1" cy="378.2" r="2.4"/><circle cx="420.7" cy="389.7" r="2.4"/><circle cx="495.2" cy="372.2" r="2.4"/><circle cx="454.2" cy="380.9" r="2.4"/><circle cx="419.3" cy="374.5" r="2.4"/><circle cx="434.3" cy="381.8" r="2.4"/><circle cx="463.2" cy="378.3" r="2.4"/><circle cx="493.1" cy="376.3" r="2.4"/><circle cx="421.2" cy="382.8" r="2.4"/><circle cx="476.2" cy="368.2" r="2.4"/><circle cx="427.8" cy="373.0" r="2.4"/><circle cx="508.1" cy="349.5" r="2.4"/><circle cx="440.1" cy="367.3" r="2.4"/><circle cx="536.6" cy="360.0" r="2.4"/><circle cx="507.1" cy="379.8" r="2.4"/><circle cx="540.3" cy="352.1" r="2.4"/><circle cx="463.9" cy="377.5" r="2.4"/><circle cx="508.0" cy="362.2" r="2.4"/><circle cx="507.0" cy="363.5" r="2.4"/><circle cx="481.1" cy="360.4" r="2.4"/><circle cx="454.2" cy="371.1" r="2.4"/><circle cx="462.4" cy="388.0" r="2.4"/><circle cx="483.6" cy="367.5" r="2.4"/><circle cx="505.3" cy="358.7" r="2.4"/><circle cx="511.1" cy="361.7" r="2.4"/><circle cx="479.6" cy="358.6" r="2.4"/><circle cx="444.1" cy="382.3" r="2.4"/><circle cx="510.3" cy="369.3" r="2.4"/><circle cx="440.4" cy="381.0" r="2.4"/><circle cx="628.9" cy="355.0" r="2.4"/><circle cx="649.3" cy="359.1" r="2.4"/><circle cx="629.7" cy="371.6" r="2.4"/><circle cx="595.0" cy="375.6" r="2.4"/><circle cx="581.8" cy="381.7" r="2.4"/><circle cx="639.7" cy="356.3" r="2.4"/><circle cx="592.6" cy="376.9" r="2.4"/><circle cx="645.1" cy="358.7" r="2.4"/><circle cx="626.1" cy="364.0" r="2.4"/><circle cx="658.4" cy="355.9" r="2.4"/><circle cx="603.1" cy="381.6" r="2.4"/><circle cx="566.9" cy="382.7" r="2.4"/><circle cx="594.9" cy="372.4" r="2.4"/><circle cx="638.9" cy="378.3" r="2.4"/><circle cx="617.1" cy="367.3" r="2.4"/><circle cx="596.7" cy="376.2" r="2.4"/><circle cx="658.2" cy="350.2" r="2.4"/><circle cx="569.8" cy="374.8" r="2.4"/><circle cx="639.0" cy="370.7" r="2.4"/><circle cx="625.6" cy="375.9" r="2.4"/><circle cx="614.0" cy="358.7" r="2.4"/><circle cx="587.4" cy="379.8" r="2.4"/><circle cx="632.1" cy="371.3" r="2.4"/><circle cx="615.0" cy="370.5" r="2.4"/><circle cx="601.0" cy="367.0" r="2.4"/><circle cx="589.5" cy="377.5" r="2.4"/><circle cx="579.1" cy="376.7" r="2.4"/><circle cx="644.1" cy="365.6" r="2.4"/><circle cx="578.0" cy="386.8" r="2.4"/><circle cx="595.9" cy="389.3" r="2.4"/><circle cx="594.5" cy="389.3" r="2.4"/><circle cx="588.5" cy="382.3" r="2.4"/><circle cx="616.6" cy="367.7" r="2.4"/><circle cx="568.6" cy="376.4" r="2.4"/><circle cx="635.9" cy="366.3" r="2.4"/><circle cx="649.3" cy="361.7" r="2.4"/><circle cx="623.2" cy="373.6" r="2.4"/><circle cx="578.4" cy="370.7" r="2.4"/><circle cx="644.5" cy="368.6" r="2.4"/><circle cx="613.7" cy="375.7" r="2.4"/><circle cx="662.6" cy="355.4" r="2.4"/><circle cx="586.8" cy="381.8" r="2.4"/><circle cx="579.2" cy="387.3" r="2.4"/><circle cx="638.0" cy="349.4" r="2.4"/><circle cx="639.4" cy="378.2" r="2.4"/><circle cx="651.7" cy="354.5" r="2.4"/><circle cx="606.1" cy="372.0" r="2.4"/><circle cx="573.3" cy="382.1" r="2.4"/><circle cx="625.4" cy="373.4" r="2.4"/><circle cx="625.6" cy="382.6" r="2.4"/><circle cx="621.5" cy="374.1" r="2.4"/><circle cx="659.9" cy="359.3" r="2.4"/><circle cx="625.9" cy="361.1" r="2.4"/><circle cx="597.8" cy="390.7" r="2.4"/><circle cx="638.0" cy="361.4" r="2.4"/><circle cx="617.3" cy="377.1" r="2.4"/><circle cx="566.0" cy="376.2" r="2.4"/><circle cx="657.3" cy="356.5" r="2.4"/><circle cx="616.1" cy="381.7" r="2.4"/><circle cx="636.4" cy="368.2" r="2.4"/><circle cx="623.8" cy="368.6" r="2.4"/><circle cx="602.3" cy="380.4" r="2.4"/><circle cx="615.9" cy="371.0" r="2.4"/><circle cx="603.1" cy="358.9" r="2.4"/><circle cx="615.9" cy="357.9" r="2.4"/><circle cx="586.9" cy="380.6" r="2.4"/><circle cx="638.6" cy="364.6" r="2.4"/><circle cx="580.5" cy="376.8" r="2.4"/><circle cx="639.0" cy="365.5" r="2.4"/><circle cx="583.1" cy="374.0" r="2.4"/><circle cx="614.8" cy="386.8" r="2.4"/><circle cx="663.4" cy="357.1" r="2.4"/><circle cx="645.7" cy="369.3" r="2.4"/><circle cx="614.3" cy="364.5" r="2.4"/><circle cx="627.0" cy="372.3" r="2.4"/><circle cx="603.4" cy="364.3" r="2.4"/><circle cx="655.2" cy="356.9" r="2.4"/><circle cx="638.1" cy="374.2" r="2.4"/><circle cx="599.2" cy="364.7" r="2.4"/><circle cx="567.6" cy="387.1" r="2.4"/><circle cx="583.3" cy="367.9" r="2.4"/><circle cx="600.1" cy="382.4" r="2.4"/><circle cx="615.7" cy="377.2" r="2.4"/><circle cx="638.4" cy="359.8" r="2.4"/><circle cx="616.5" cy="352.7" r="2.4"/><circle cx="634.7" cy="357.6" r="2.4"/><circle cx="618.9" cy="365.6" r="2.4"/><circle cx="652.1" cy="370.4" r="2.4"/><circle cx="643.4" cy="352.8" r="2.4"/><circle cx="597.3" cy="367.7" r="2.4"/><circle cx="653.4" cy="359.3" r="2.4"/><circle cx="593.0" cy="368.7" r="2.4"/><circle cx="613.4" cy="366.8" r="2.4"/><circle cx="615.5" cy="362.0" r="2.4"/><circle cx="607.3" cy="381.8" r="2.4"/><circle cx="607.8" cy="364.9" r="2.4"/><circle cx="624.7" cy="374.8" r="2.4"/><circle cx="615.0" cy="381.9" r="2.4"/><circle cx="611.1" cy="369.8" r="2.4"/><circle cx="615.4" cy="385.9" r="2.4"/><circle cx="580.1" cy="379.4" r="2.4"/><circle cx="624.7" cy="377.0" r="2.4"/><circle cx="617.4" cy="373.4" r="2.4"/><circle cx="604.9" cy="361.6" r="2.4"/><circle cx="627.5" cy="364.2" r="2.4"/><circle cx="586.6" cy="375.9" r="2.4"/><circle cx="625.8" cy="362.4" r="2.4"/><circle cx="598.2" cy="380.9" r="2.4"/><circle cx="605.4" cy="362.1" r="2.4"/><circle cx="585.0" cy="369.3" r="2.4"/><circle cx="583.0" cy="368.7" r="2.4"/><circle cx="571.7" cy="381.9" r="2.4"/><circle cx="635.6" cy="364.1" r="2.4"/><circle cx="666.6" cy="351.5" r="2.4"/><circle cx="603.8" cy="369.7" r="2.4"/><circle cx="635.1" cy="360.4" r="2.4"/><circle cx="622.8" cy="375.7" r="2.4"/><circle cx="593.3" cy="381.1" r="2.4"/><circle cx="596.1" cy="379.3" r="2.4"/><circle cx="627.5" cy="380.6" r="2.4"/><circle cx="470.0" cy="340.0" r="2.4"/><circle cx="472.0" cy="343.0" r="2.4"/><circle cx="481.0" cy="336.0" r="2.4"/><circle cx="483.0" cy="333.0" r="2.4"/><circle cx="487.0" cy="343.0" r="2.4"/><circle cx="494.0" cy="330.0" r="2.4"/><circle cx="495.0" cy="332.0" r="2.4"/><circle cx="493.0" cy="348.0" r="2.4"/><circle cx="488.0" cy="352.0" r="2.4"/><circle cx="503.0" cy="345.0" r="2.4"/><circle cx="506.0" cy="342.0" r="2.4"/><circle cx="508.0" cy="338.0" r="2.4"/><circle cx="507.0" cy="346.0" r="2.4"/><circle cx="515.0" cy="341.0" r="2.4"/><circle cx="518.0" cy="338.0" r="2.4"/><circle cx="421.0" cy="396.0" r="2.4"/><circle cx="427.0" cy="402.0" r="2.4"/><circle cx="437.0" cy="397.0" r="2.4"/><circle cx="438.0" cy="400.0" r="2.4"/><circle cx="470.0" cy="396.0" r="2.4"/><circle cx="484.0" cy="398.0" r="2.4"/><circle cx="491.0" cy="400.0" r="2.4"/><circle cx="505.0" cy="400.0" r="2.4"/><circle cx="507.0" cy="403.0" r="2.4"/><circle cx="508.0" cy="397.0" r="2.4"/><circle cx="430.0" cy="362.0" r="2.4"/><circle cx="436.0" cy="360.0" r="2.4"/><circle cx="540.0" cy="346.0" r="2.4"/><circle cx="549.0" cy="350.0" r="2.4"/><circle cx="578.0" cy="354.0" r="2.4"/><circle cx="579.0" cy="361.0" r="2.4"/><circle cx="620.0" cy="343.0" r="2.4"/><circle cx="618.0" cy="339.0" r="2.4"/><circle cx="655.0" cy="345.0" r="2.4"/><circle cx="661.0" cy="343.0" r="2.4"/><circle cx="572.0" cy="391.0" r="2.4"/><circle cx="575.0" cy="394.0" r="2.4"/><circle cx="597.0" cy="398.0" r="2.4"/><circle cx="595.0" cy="395.0" r="2.4"/><circle cx="625.0" cy="393.0" r="2.4"/><circle cx="624.0" cy="397.0" r="2.4"/><circle cx="585.0" cy="387.0" r="2.4"/>
</g>
</g>
<line x1="394.8" y1="369.9" x2="683.9" y2="369.9" stroke="#000" stroke-width="0.8"/>
<rect x="394.8" y="262.4" width="289.1" height="214.9" fill="none" stroke="#8c8c8c" stroke-width="1.25"/>
<line x1="392.3" y1="262.4" x2="394.8" y2="262.4" stroke="#555" stroke-width="0.8"/>
<text x="390.8" y="266.0" font-size="10.5" text-anchor="end">2.0</text>
<line x1="392.3" y1="289.3" x2="394.8" y2="289.3" stroke="#555" stroke-width="0.8"/>
<text x="390.8" y="292.9" font-size="10.5" text-anchor="end">1.5</text>
<line x1="392.3" y1="316.1" x2="394.8" y2="316.1" stroke="#555" stroke-width="0.8"/>
<text x="390.8" y="319.7" font-size="10.5" text-anchor="end">1.0</text>
<line x1="392.3" y1="343.0" x2="394.8" y2="343.0" stroke="#555" stroke-width="0.8"/>
<text x="390.8" y="346.6" font-size="10.5" text-anchor="end">0.5</text>
<line x1="392.3" y1="369.9" x2="394.8" y2="369.9" stroke="#555" stroke-width="0.8"/>
<text x="390.8" y="373.5" font-size="10.5" text-anchor="end">0.0</text>
<line x1="392.3" y1="396.7" x2="394.8" y2="396.7" stroke="#555" stroke-width="0.8"/>
<text x="390.8" y="400.3" font-size="10.5" text-anchor="end">−0.5</text>
<line x1="392.3" y1="423.6" x2="394.8" y2="423.6" stroke="#555" stroke-width="0.8"/>
<text x="390.8" y="427.2" font-size="10.5" text-anchor="end">−1.0</text>
<line x1="392.3" y1="450.4" x2="394.8" y2="450.4" stroke="#555" stroke-width="0.8"/>
<text x="390.8" y="454.0" font-size="10.5" text-anchor="end">−1.5</text>
<line x1="392.3" y1="477.3" x2="394.8" y2="477.3" stroke="#555" stroke-width="0.8"/>
<text x="390.8" y="480.9" font-size="10.5" text-anchor="end">−2.0</text>
<line x1="416.0" y1="477.3" x2="416.0" y2="479.8" stroke="#555" stroke-width="0.8"/>
<text x="416.0" y="489.3" font-size="10.5" text-anchor="middle">950</text>
<line x1="456.5" y1="477.3" x2="456.5" y2="479.8" stroke="#555" stroke-width="0.8"/>
<text x="456.5" y="489.3" font-size="10.5" text-anchor="middle">1000</text>
<line x1="496.9" y1="477.3" x2="496.9" y2="479.8" stroke="#555" stroke-width="0.8"/>
<text x="496.9" y="489.3" font-size="10.5" text-anchor="middle">1050</text>
<line x1="537.3" y1="477.3" x2="537.3" y2="479.8" stroke="#555" stroke-width="0.8"/>
<text x="537.3" y="489.3" font-size="10.5" text-anchor="middle">1100</text>
<line x1="577.8" y1="477.3" x2="577.8" y2="479.8" stroke="#555" stroke-width="0.8"/>
<text x="577.8" y="489.3" font-size="10.5" text-anchor="middle">1150</text>
<line x1="618.2" y1="477.3" x2="618.2" y2="479.8" stroke="#555" stroke-width="0.8"/>
<text x="618.2" y="489.3" font-size="10.5" text-anchor="middle">1200</text>
<line x1="658.6" y1="477.3" x2="658.6" y2="479.8" stroke="#555" stroke-width="0.8"/>
<text x="658.6" y="489.3" font-size="10.5" text-anchor="middle">1250</text>
<text x="537.7" y="502.0" font-size="13.4" text-anchor="middle">Actual</text>
<text transform="translate(367.9,369.9) rotate(-90)" font-size="13.2" text-anchor="middle">Relative Error (%)</text>
<text x="671.9" y="466.0" font-size="15.6" text-anchor="end">AdaBoost-DT</text>
<rect x="598.5" y="266.4" width="80.5" height="27.9" rx="2" fill="#fff" fill-opacity="0.8" stroke="#ddd" stroke-width="0.8"/>
<circle cx="611.4" cy="274.0" r="2.6" fill="#F5D425" stroke="#1a1a1a" stroke-width="0.5"/>
<circle cx="611.4" cy="286.8" r="2.6" fill="#30BEF0" stroke="#1a1a1a" stroke-width="0.5"/>
<text x="628.3" y="276.7" font-size="9">Training data</text>
<text x="628.3" y="289.5" font-size="9">Test data</text>
<clipPath id="cTabNet"><rect x="38.7" y="514.4" width="285.6" height="211.8"/></clipPath>
<g clip-path="url(#cTabNet)" stroke="#1a1a1a" stroke-opacity="0.85" stroke-width="0.5">
<g fill="#F5D425" fill-opacity="0.85">
<circle cx="70.3" cy="645.8" r="2.55"/><circle cx="71.2" cy="617.6" r="2.55"/><circle cx="56.8" cy="628.9" r="2.55"/><circle cx="57.1" cy="617.0" r="2.55"/><circle cx="62.8" cy="624.1" r="2.55"/><circle cx="68.6" cy="619.5" r="2.55"/><circle cx="67.5" cy="636.6" r="2.55"/><circle cx="72.8" cy="617.3" r="2.55"/><circle cx="53.5" cy="629.7" r="2.55"/><circle cx="62.8" cy="649.6" r="2.55"/><circle cx="59.4" cy="622.2" r="2.55"/><circle cx="65.2" cy="626.7" r="2.55"/><circle cx="52.9" cy="648.1" r="2.55"/><circle cx="59.5" cy="613.2" r="2.55"/><circle cx="53.8" cy="646.7" r="2.55"/><circle cx="73.4" cy="631.5" r="2.55"/><circle cx="65.0" cy="608.8" r="2.55"/><circle cx="63.2" cy="650.0" r="2.55"/><circle cx="73.6" cy="616.0" r="2.55"/><circle cx="60.1" cy="613.5" r="2.55"/><circle cx="61.5" cy="634.2" r="2.55"/><circle cx="63.5" cy="628.2" r="2.55"/><circle cx="53.3" cy="632.3" r="2.55"/><circle cx="52.5" cy="617.1" r="2.55"/><circle cx="58.8" cy="642.0" r="2.55"/><circle cx="64.9" cy="619.1" r="2.55"/><circle cx="64.8" cy="625.9" r="2.55"/><circle cx="55.9" cy="615.0" r="2.55"/><circle cx="58.8" cy="616.9" r="2.55"/><circle cx="68.9" cy="625.4" r="2.55"/><circle cx="59.4" cy="624.5" r="2.55"/><circle cx="62.2" cy="637.5" r="2.55"/><circle cx="59.1" cy="624.4" r="2.55"/><circle cx="70.5" cy="641.6" r="2.55"/><circle cx="58.9" cy="607.5" r="2.55"/><circle cx="65.1" cy="605.7" r="2.55"/><circle cx="58.0" cy="635.2" r="2.55"/><circle cx="69.0" cy="619.9" r="2.55"/><circle cx="65.1" cy="637.3" r="2.55"/><circle cx="53.4" cy="630.8" r="2.55"/><circle cx="68.1" cy="610.3" r="2.55"/><circle cx="70.9" cy="628.1" r="2.55"/><circle cx="68.3" cy="610.8" r="2.55"/><circle cx="55.7" cy="651.5" r="2.55"/><circle cx="62.8" cy="630.3" r="2.55"/><circle cx="75.4" cy="620.3" r="2.55"/><circle cx="97.4" cy="616.9" r="2.55"/><circle cx="78.1" cy="630.9" r="2.55"/><circle cx="129.2" cy="626.4" r="2.55"/><circle cx="142.7" cy="610.0" r="2.55"/><circle cx="154.5" cy="617.1" r="2.55"/><circle cx="126.4" cy="626.9" r="2.55"/><circle cx="98.4" cy="632.2" r="2.55"/><circle cx="150.2" cy="620.7" r="2.55"/><circle cx="182.1" cy="619.1" r="2.55"/><circle cx="133.6" cy="610.4" r="2.55"/><circle cx="182.6" cy="602.4" r="2.55"/><circle cx="151.6" cy="613.5" r="2.55"/><circle cx="148.4" cy="625.3" r="2.55"/><circle cx="168.5" cy="626.4" r="2.55"/><circle cx="165.9" cy="624.7" r="2.55"/><circle cx="171.3" cy="606.3" r="2.55"/><circle cx="108.8" cy="613.3" r="2.55"/><circle cx="94.3" cy="607.0" r="2.55"/><circle cx="85.0" cy="634.0" r="2.55"/><circle cx="163.4" cy="617.7" r="2.55"/><circle cx="106.2" cy="607.6" r="2.55"/><circle cx="140.1" cy="617.0" r="2.55"/><circle cx="144.1" cy="631.8" r="2.55"/><circle cx="160.8" cy="625.2" r="2.55"/><circle cx="98.0" cy="640.9" r="2.55"/><circle cx="182.4" cy="624.3" r="2.55"/><circle cx="164.0" cy="600.7" r="2.55"/><circle cx="112.8" cy="634.8" r="2.55"/><circle cx="136.1" cy="605.6" r="2.55"/><circle cx="153.0" cy="606.5" r="2.55"/><circle cx="172.3" cy="611.5" r="2.55"/><circle cx="124.2" cy="629.9" r="2.55"/><circle cx="122.7" cy="635.3" r="2.55"/><circle cx="114.4" cy="611.4" r="2.55"/><circle cx="143.5" cy="608.7" r="2.55"/><circle cx="195.6" cy="611.8" r="2.55"/><circle cx="95.2" cy="640.2" r="2.55"/><circle cx="178.8" cy="609.4" r="2.55"/><circle cx="178.7" cy="607.8" r="2.55"/><circle cx="145.0" cy="635.2" r="2.55"/><circle cx="170.3" cy="616.2" r="2.55"/><circle cx="84.5" cy="619.3" r="2.55"/><circle cx="76.6" cy="638.3" r="2.55"/><circle cx="101.9" cy="619.8" r="2.55"/><circle cx="141.3" cy="620.3" r="2.55"/><circle cx="153.7" cy="614.0" r="2.55"/><circle cx="91.8" cy="622.7" r="2.55"/><circle cx="139.5" cy="624.7" r="2.55"/><circle cx="152.2" cy="621.3" r="2.55"/><circle cx="77.8" cy="628.6" r="2.55"/><circle cx="146.7" cy="604.6" r="2.55"/><circle cx="83.6" cy="617.5" r="2.55"/><circle cx="82.4" cy="631.0" r="2.55"/><circle cx="164.3" cy="618.4" r="2.55"/><circle cx="184.7" cy="605.1" r="2.55"/><circle cx="97.6" cy="607.5" r="2.55"/><circle cx="151.3" cy="627.0" r="2.55"/><circle cx="191.9" cy="606.5" r="2.55"/><circle cx="84.7" cy="614.4" r="2.55"/><circle cx="101.2" cy="614.8" r="2.55"/><circle cx="123.1" cy="630.5" r="2.55"/><circle cx="72.6" cy="607.3" r="2.55"/><circle cx="132.3" cy="625.1" r="2.55"/><circle cx="119.6" cy="633.5" r="2.55"/><circle cx="178.8" cy="625.0" r="2.55"/><circle cx="122.0" cy="615.7" r="2.55"/><circle cx="84.7" cy="615.4" r="2.55"/><circle cx="192.7" cy="607.8" r="2.55"/><circle cx="92.1" cy="611.3" r="2.55"/><circle cx="170.8" cy="621.2" r="2.55"/><circle cx="195.6" cy="613.5" r="2.55"/><circle cx="111.2" cy="626.0" r="2.55"/><circle cx="132.5" cy="637.0" r="2.55"/><circle cx="104.3" cy="615.5" r="2.55"/><circle cx="73.3" cy="613.1" r="2.55"/><circle cx="120.7" cy="628.6" r="2.55"/><circle cx="80.4" cy="631.9" r="2.55"/><circle cx="143.0" cy="629.4" r="2.55"/><circle cx="127.2" cy="617.3" r="2.55"/><circle cx="136.6" cy="619.0" r="2.55"/><circle cx="143.5" cy="612.4" r="2.55"/><circle cx="168.6" cy="621.2" r="2.55"/><circle cx="193.0" cy="608.1" r="2.55"/><circle cx="98.7" cy="640.3" r="2.55"/><circle cx="129.5" cy="622.7" r="2.55"/><circle cx="188.5" cy="607.8" r="2.55"/><circle cx="73.6" cy="616.7" r="2.55"/><circle cx="158.1" cy="609.1" r="2.55"/><circle cx="83.7" cy="631.2" r="2.55"/><circle cx="171.7" cy="622.0" r="2.55"/><circle cx="145.0" cy="615.3" r="2.55"/><circle cx="186.3" cy="602.4" r="2.55"/><circle cx="99.0" cy="621.9" r="2.55"/><circle cx="156.0" cy="617.4" r="2.55"/><circle cx="178.0" cy="613.6" r="2.55"/><circle cx="71.9" cy="626.0" r="2.55"/><circle cx="86.0" cy="619.5" r="2.55"/><circle cx="135.1" cy="626.8" r="2.55"/><circle cx="125.8" cy="623.1" r="2.55"/><circle cx="160.9" cy="609.5" r="2.55"/><circle cx="154.2" cy="629.9" r="2.55"/><circle cx="92.8" cy="623.5" r="2.55"/><circle cx="161.2" cy="618.3" r="2.55"/><circle cx="162.3" cy="617.2" r="2.55"/><circle cx="168.7" cy="621.0" r="2.55"/><circle cx="191.1" cy="612.1" r="2.55"/><circle cx="149.0" cy="613.1" r="2.55"/><circle cx="123.4" cy="610.2" r="2.55"/><circle cx="116.8" cy="610.5" r="2.55"/><circle cx="158.8" cy="613.9" r="2.55"/><circle cx="99.4" cy="626.9" r="2.55"/><circle cx="91.4" cy="606.4" r="2.55"/><circle cx="139.8" cy="632.2" r="2.55"/><circle cx="139.9" cy="625.1" r="2.55"/><circle cx="147.5" cy="617.2" r="2.55"/><circle cx="172.6" cy="612.7" r="2.55"/><circle cx="81.4" cy="605.1" r="2.55"/><circle cx="91.0" cy="612.0" r="2.55"/><circle cx="115.8" cy="625.8" r="2.55"/><circle cx="84.3" cy="640.0" r="2.55"/><circle cx="72.6" cy="619.8" r="2.55"/><circle cx="184.3" cy="608.8" r="2.55"/><circle cx="171.9" cy="609.5" r="2.55"/><circle cx="194.3" cy="607.9" r="2.55"/><circle cx="144.3" cy="608.3" r="2.55"/><circle cx="149.7" cy="609.3" r="2.55"/><circle cx="162.6" cy="628.7" r="2.55"/><circle cx="165.6" cy="601.3" r="2.55"/><circle cx="189.9" cy="603.9" r="2.55"/><circle cx="166.6" cy="621.2" r="2.55"/><circle cx="105.8" cy="620.6" r="2.55"/><circle cx="99.2" cy="611.5" r="2.55"/><circle cx="130.0" cy="635.4" r="2.55"/><circle cx="185.0" cy="619.5" r="2.55"/><circle cx="83.4" cy="626.6" r="2.55"/><circle cx="74.6" cy="621.6" r="2.55"/><circle cx="135.9" cy="631.1" r="2.55"/><circle cx="76.3" cy="619.3" r="2.55"/><circle cx="134.4" cy="619.5" r="2.55"/><circle cx="181.8" cy="602.1" r="2.55"/><circle cx="101.9" cy="623.4" r="2.55"/><circle cx="122.7" cy="618.9" r="2.55"/><circle cx="71.4" cy="626.3" r="2.55"/><circle cx="139.8" cy="629.0" r="2.55"/><circle cx="106.1" cy="621.9" r="2.55"/><circle cx="77.0" cy="637.6" r="2.55"/><circle cx="131.4" cy="605.2" r="2.55"/><circle cx="100.0" cy="615.8" r="2.55"/><circle cx="171.3" cy="618.0" r="2.55"/><circle cx="106.9" cy="624.7" r="2.55"/><circle cx="162.7" cy="615.8" r="2.55"/><circle cx="172.9" cy="606.8" r="2.55"/><circle cx="123.9" cy="634.0" r="2.55"/><circle cx="73.1" cy="628.9" r="2.55"/><circle cx="140.4" cy="620.5" r="2.55"/><circle cx="133.5" cy="623.6" r="2.55"/><circle cx="171.4" cy="607.5" r="2.55"/><circle cx="113.5" cy="621.9" r="2.55"/><circle cx="87.7" cy="609.4" r="2.55"/><circle cx="79.9" cy="630.3" r="2.55"/><circle cx="186.6" cy="622.5" r="2.55"/><circle cx="190.8" cy="615.0" r="2.55"/><circle cx="147.1" cy="620.0" r="2.55"/><circle cx="133.8" cy="627.7" r="2.55"/><circle cx="189.8" cy="606.9" r="2.55"/><circle cx="179.0" cy="600.8" r="2.55"/><circle cx="190.6" cy="622.9" r="2.55"/><circle cx="83.4" cy="623.7" r="2.55"/><circle cx="167.9" cy="611.6" r="2.55"/><circle cx="128.1" cy="635.1" r="2.55"/><circle cx="100.8" cy="611.8" r="2.55"/><circle cx="86.3" cy="614.3" r="2.55"/><circle cx="104.9" cy="609.6" r="2.55"/><circle cx="149.4" cy="608.8" r="2.55"/><circle cx="169.3" cy="621.4" r="2.55"/><circle cx="111.3" cy="636.6" r="2.55"/><circle cx="146.7" cy="617.3" r="2.55"/><circle cx="182.6" cy="610.7" r="2.55"/><circle cx="75.3" cy="638.5" r="2.55"/><circle cx="181.2" cy="624.1" r="2.55"/><circle cx="169.2" cy="624.5" r="2.55"/><circle cx="151.8" cy="618.7" r="2.55"/><circle cx="104.1" cy="628.0" r="2.55"/><circle cx="70.2" cy="640.4" r="2.55"/><circle cx="182.3" cy="620.7" r="2.55"/><circle cx="178.6" cy="604.7" r="2.55"/><circle cx="194.1" cy="612.9" r="2.55"/><circle cx="189.9" cy="607.2" r="2.55"/><circle cx="158.0" cy="617.3" r="2.55"/><circle cx="107.6" cy="626.8" r="2.55"/><circle cx="74.0" cy="628.4" r="2.55"/><circle cx="149.5" cy="612.4" r="2.55"/><circle cx="102.7" cy="627.9" r="2.55"/><circle cx="71.1" cy="633.1" r="2.55"/><circle cx="159.2" cy="627.0" r="2.55"/><circle cx="130.0" cy="634.5" r="2.55"/><circle cx="156.1" cy="623.9" r="2.55"/><circle cx="136.2" cy="627.5" r="2.55"/><circle cx="156.7" cy="629.0" r="2.55"/><circle cx="142.4" cy="629.6" r="2.55"/><circle cx="134.7" cy="616.1" r="2.55"/><circle cx="164.8" cy="626.3" r="2.55"/><circle cx="118.6" cy="609.0" r="2.55"/><circle cx="133.7" cy="612.1" r="2.55"/><circle cx="140.3" cy="619.5" r="2.55"/><circle cx="88.5" cy="624.8" r="2.55"/><circle cx="87.1" cy="606.7" r="2.55"/><circle cx="79.0" cy="606.5" r="2.55"/><circle cx="133.7" cy="636.6" r="2.55"/><circle cx="94.7" cy="604.3" r="2.55"/><circle cx="81.2" cy="619.6" r="2.55"/><circle cx="133.6" cy="632.8" r="2.55"/><circle cx="116.3" cy="626.5" r="2.55"/><circle cx="169.6" cy="620.2" r="2.55"/><circle cx="164.1" cy="619.9" r="2.55"/><circle cx="121.9" cy="624.2" r="2.55"/><circle cx="143.6" cy="614.0" r="2.55"/><circle cx="111.3" cy="628.7" r="2.55"/><circle cx="130.2" cy="610.3" r="2.55"/><circle cx="142.9" cy="613.2" r="2.55"/><circle cx="135.2" cy="624.4" r="2.55"/><circle cx="102.4" cy="621.3" r="2.55"/><circle cx="120.1" cy="624.8" r="2.55"/><circle cx="70.3" cy="624.2" r="2.55"/><circle cx="111.4" cy="627.4" r="2.55"/><circle cx="93.8" cy="634.0" r="2.55"/><circle cx="153.2" cy="625.0" r="2.55"/><circle cx="165.8" cy="611.3" r="2.55"/><circle cx="158.6" cy="626.9" r="2.55"/><circle cx="106.4" cy="632.9" r="2.55"/><circle cx="135.9" cy="622.5" r="2.55"/><circle cx="160.6" cy="611.2" r="2.55"/><circle cx="112.6" cy="615.0" r="2.55"/><circle cx="129.7" cy="621.4" r="2.55"/><circle cx="76.7" cy="612.3" r="2.55"/><circle cx="102.7" cy="617.1" r="2.55"/><circle cx="150.3" cy="622.9" r="2.55"/><circle cx="157.3" cy="616.9" r="2.55"/><circle cx="181.2" cy="608.0" r="2.55"/><circle cx="76.1" cy="610.2" r="2.55"/><circle cx="195.3" cy="606.5" r="2.55"/><circle cx="77.6" cy="612.8" r="2.55"/><circle cx="149.9" cy="630.6" r="2.55"/><circle cx="132.9" cy="626.1" r="2.55"/><circle cx="90.8" cy="620.5" r="2.55"/><circle cx="75.5" cy="640.9" r="2.55"/><circle cx="164.8" cy="622.6" r="2.55"/><circle cx="118.0" cy="611.3" r="2.55"/><circle cx="150.8" cy="607.1" r="2.55"/><circle cx="195.7" cy="622.0" r="2.55"/><circle cx="113.2" cy="612.3" r="2.55"/><circle cx="125.8" cy="604.7" r="2.55"/><circle cx="104.3" cy="617.1" r="2.55"/><circle cx="89.7" cy="633.7" r="2.55"/><circle cx="164.8" cy="627.5" r="2.55"/><circle cx="101.1" cy="613.9" r="2.55"/><circle cx="137.2" cy="633.5" r="2.55"/><circle cx="92.8" cy="624.0" r="2.55"/><circle cx="72.4" cy="610.3" r="2.55"/><circle cx="101.9" cy="616.5" r="2.55"/><circle cx="83.3" cy="625.1" r="2.55"/><circle cx="78.2" cy="621.5" r="2.55"/><circle cx="157.7" cy="606.3" r="2.55"/><circle cx="138.5" cy="616.0" r="2.55"/><circle cx="82.4" cy="634.6" r="2.55"/><circle cx="176.0" cy="598.9" r="2.55"/><circle cx="171.7" cy="616.4" r="2.55"/><circle cx="120.6" cy="626.1" r="2.55"/><circle cx="126.1" cy="619.2" r="2.55"/><circle cx="122.0" cy="621.0" r="2.55"/><circle cx="83.2" cy="604.4" r="2.55"/><circle cx="179.2" cy="612.5" r="2.55"/><circle cx="95.1" cy="625.4" r="2.55"/><circle cx="184.9" cy="613.2" r="2.55"/><circle cx="157.5" cy="614.5" r="2.55"/><circle cx="128.5" cy="632.1" r="2.55"/><circle cx="176.2" cy="627.0" r="2.55"/><circle cx="83.0" cy="629.1" r="2.55"/><circle cx="92.8" cy="621.0" r="2.55"/><circle cx="155.8" cy="608.6" r="2.55"/><circle cx="111.9" cy="639.6" r="2.55"/><circle cx="180.7" cy="618.2" r="2.55"/><circle cx="135.9" cy="619.1" r="2.55"/><circle cx="91.9" cy="616.3" r="2.55"/><circle cx="139.8" cy="631.4" r="2.55"/><circle cx="133.6" cy="612.4" r="2.55"/><circle cx="162.7" cy="621.4" r="2.55"/><circle cx="87.1" cy="626.5" r="2.55"/><circle cx="114.8" cy="623.3" r="2.55"/><circle cx="118.8" cy="618.9" r="2.55"/><circle cx="176.8" cy="606.6" r="2.55"/><circle cx="154.5" cy="630.5" r="2.55"/><circle cx="185.5" cy="608.0" r="2.55"/><circle cx="83.3" cy="625.7" r="2.55"/><circle cx="95.4" cy="621.4" r="2.55"/><circle cx="178.3" cy="604.4" r="2.55"/><circle cx="77.3" cy="625.4" r="2.55"/><circle cx="94.0" cy="634.9" r="2.55"/><circle cx="130.2" cy="622.4" r="2.55"/><circle cx="156.3" cy="615.1" r="2.55"/><circle cx="104.9" cy="622.0" r="2.55"/><circle cx="189.6" cy="619.8" r="2.55"/><circle cx="149.9" cy="623.5" r="2.55"/><circle cx="99.7" cy="624.9" r="2.55"/><circle cx="156.1" cy="619.6" r="2.55"/><circle cx="114.0" cy="613.3" r="2.55"/><circle cx="142.8" cy="608.9" r="2.55"/><circle cx="148.5" cy="623.1" r="2.55"/><circle cx="122.8" cy="635.0" r="2.55"/><circle cx="181.7" cy="610.7" r="2.55"/><circle cx="112.4" cy="630.4" r="2.55"/><circle cx="167.3" cy="601.8" r="2.55"/><circle cx="164.2" cy="613.6" r="2.55"/><circle cx="180.3" cy="609.0" r="2.55"/><circle cx="71.0" cy="606.0" r="2.55"/><circle cx="101.3" cy="624.5" r="2.55"/><circle cx="116.8" cy="615.0" r="2.55"/><circle cx="169.6" cy="627.2" r="2.55"/><circle cx="184.4" cy="615.7" r="2.55"/><circle cx="80.4" cy="609.7" r="2.55"/><circle cx="110.4" cy="615.4" r="2.55"/><circle cx="148.4" cy="631.6" r="2.55"/><circle cx="130.0" cy="612.6" r="2.55"/><circle cx="185.7" cy="608.5" r="2.55"/><circle cx="98.2" cy="614.9" r="2.55"/><circle cx="84.9" cy="619.5" r="2.55"/><circle cx="117.1" cy="619.2" r="2.55"/><circle cx="117.7" cy="625.5" r="2.55"/><circle cx="88.8" cy="631.1" r="2.55"/><circle cx="146.9" cy="573.3" r="2.55"/><circle cx="165.8" cy="572.8" r="2.55"/><circle cx="168.6" cy="570.7" r="2.55"/><circle cx="163.2" cy="579.2" r="2.55"/><circle cx="168.6" cy="579.2" r="2.55"/><circle cx="180.9" cy="579.9" r="2.55"/><circle cx="172.9" cy="584.0" r="2.55"/><circle cx="174.1" cy="589.6" r="2.55"/><circle cx="153.0" cy="583.0" r="2.55"/><circle cx="156.1" cy="583.5" r="2.55"/><circle cx="153.3" cy="587.1" r="2.55"/><circle cx="160.7" cy="590.1" r="2.55"/><circle cx="164.7" cy="590.5" r="2.55"/><circle cx="162.2" cy="587.1" r="2.55"/><circle cx="159.1" cy="595.8" r="2.55"/><circle cx="165.8" cy="596.8" r="2.55"/><circle cx="152.0" cy="597.6" r="2.55"/><circle cx="148.9" cy="600.4" r="2.55"/><circle cx="161.2" cy="600.1" r="2.55"/><circle cx="194.9" cy="604.5" r="2.55"/><circle cx="183.6" cy="602.4" r="2.55"/><circle cx="141.2" cy="605.0" r="2.55"/><circle cx="144.8" cy="605.0" r="2.55"/><circle cx="111.4" cy="650.4" r="2.55"/><circle cx="121.3" cy="654.9" r="2.55"/><circle cx="123.3" cy="641.7" r="2.55"/><circle cx="137.8" cy="678.7" r="2.55"/><circle cx="106.0" cy="640.4" r="2.55"/><circle cx="130.4" cy="664.1" r="2.55"/><circle cx="125.3" cy="662.4" r="2.55"/><circle cx="166.5" cy="636.6" r="2.55"/><circle cx="147.8" cy="665.1" r="2.55"/><circle cx="141.7" cy="648.9" r="2.55"/><circle cx="141.6" cy="652.6" r="2.55"/><circle cx="149.0" cy="658.0" r="2.55"/><circle cx="131.5" cy="676.6" r="2.55"/><circle cx="143.0" cy="645.9" r="2.55"/><circle cx="128.4" cy="683.0" r="2.55"/><circle cx="145.9" cy="671.9" r="2.55"/><circle cx="159.7" cy="646.2" r="2.55"/><circle cx="163.5" cy="643.4" r="2.55"/><circle cx="154.6" cy="657.6" r="2.55"/><circle cx="135.3" cy="641.1" r="2.55"/><circle cx="127.2" cy="654.6" r="2.55"/><circle cx="170.2" cy="637.4" r="2.55"/><circle cx="169.9" cy="649.4" r="2.55"/><circle cx="166.0" cy="647.0" r="2.55"/><circle cx="114.1" cy="666.2" r="2.55"/><circle cx="125.0" cy="681.5" r="2.55"/><circle cx="238.0" cy="618.1" r="2.55"/><circle cx="211.1" cy="628.3" r="2.55"/><circle cx="205.5" cy="617.6" r="2.55"/><circle cx="211.5" cy="628.4" r="2.55"/><circle cx="206.1" cy="628.2" r="2.55"/><circle cx="221.8" cy="597.3" r="2.55"/><circle cx="209.2" cy="620.3" r="2.55"/><circle cx="201.9" cy="617.5" r="2.55"/><circle cx="223.5" cy="624.0" r="2.55"/><circle cx="223.3" cy="615.0" r="2.55"/><circle cx="207.6" cy="621.5" r="2.55"/><circle cx="221.0" cy="634.2" r="2.55"/><circle cx="225.1" cy="616.8" r="2.55"/><circle cx="231.1" cy="622.6" r="2.55"/><circle cx="233.9" cy="607.4" r="2.55"/><circle cx="202.1" cy="600.9" r="2.55"/><circle cx="217.6" cy="610.3" r="2.55"/><circle cx="222.1" cy="608.9" r="2.55"/><circle cx="205.3" cy="615.2" r="2.55"/><circle cx="209.3" cy="633.0" r="2.55"/><circle cx="226.7" cy="615.5" r="2.55"/><circle cx="213.0" cy="602.0" r="2.55"/><circle cx="211.4" cy="608.1" r="2.55"/><circle cx="209.9" cy="630.0" r="2.55"/><circle cx="231.6" cy="629.6" r="2.55"/><circle cx="209.5" cy="637.1" r="2.55"/><circle cx="199.2" cy="602.4" r="2.55"/><circle cx="207.3" cy="630.7" r="2.55"/><circle cx="207.0" cy="627.2" r="2.55"/><circle cx="203.7" cy="615.8" r="2.55"/><circle cx="234.3" cy="606.2" r="2.55"/><circle cx="239.1" cy="618.6" r="2.55"/><circle cx="200.5" cy="606.8" r="2.55"/><circle cx="227.5" cy="615.8" r="2.55"/><circle cx="217.2" cy="609.2" r="2.55"/><circle cx="215.6" cy="627.7" r="2.55"/><circle cx="211.3" cy="610.3" r="2.55"/><circle cx="210.7" cy="619.3" r="2.55"/><circle cx="213.6" cy="617.7" r="2.55"/><circle cx="200.4" cy="610.1" r="2.55"/><circle cx="237.0" cy="604.7" r="2.55"/><circle cx="200.5" cy="637.9" r="2.55"/><circle cx="237.0" cy="617.9" r="2.55"/><circle cx="212.8" cy="633.3" r="2.55"/><circle cx="234.5" cy="616.8" r="2.55"/><circle cx="233.6" cy="631.4" r="2.55"/><circle cx="223.4" cy="615.8" r="2.55"/><circle cx="214.0" cy="611.8" r="2.55"/><circle cx="235.0" cy="599.3" r="2.55"/><circle cx="235.6" cy="598.9" r="2.55"/><circle cx="218.0" cy="621.0" r="2.55"/><circle cx="234.5" cy="631.5" r="2.55"/><circle cx="236.4" cy="629.5" r="2.55"/><circle cx="216.0" cy="612.0" r="2.55"/><circle cx="207.7" cy="624.9" r="2.55"/><circle cx="215.9" cy="598.9" r="2.55"/><circle cx="239.8" cy="625.9" r="2.55"/><circle cx="212.9" cy="604.2" r="2.55"/><circle cx="220.5" cy="615.2" r="2.55"/><circle cx="228.5" cy="604.9" r="2.55"/><circle cx="239.6" cy="621.6" r="2.55"/><circle cx="287.0" cy="629.7" r="2.55"/><circle cx="284.5" cy="624.3" r="2.55"/><circle cx="284.4" cy="616.8" r="2.55"/><circle cx="250.9" cy="613.0" r="2.55"/><circle cx="284.8" cy="636.9" r="2.55"/><circle cx="217.1" cy="632.0" r="2.55"/><circle cx="303.4" cy="633.6" r="2.55"/><circle cx="259.8" cy="628.8" r="2.55"/><circle cx="309.2" cy="625.9" r="2.55"/><circle cx="227.9" cy="640.7" r="2.55"/><circle cx="285.9" cy="637.7" r="2.55"/><circle cx="267.7" cy="626.1" r="2.55"/><circle cx="221.9" cy="621.8" r="2.55"/><circle cx="243.9" cy="631.9" r="2.55"/><circle cx="245.1" cy="626.2" r="2.55"/><circle cx="251.0" cy="615.3" r="2.55"/><circle cx="284.6" cy="631.0" r="2.55"/><circle cx="230.9" cy="621.4" r="2.55"/><circle cx="231.6" cy="642.0" r="2.55"/><circle cx="216.5" cy="633.3" r="2.55"/><circle cx="226.3" cy="624.5" r="2.55"/><circle cx="216.9" cy="624.2" r="2.55"/><circle cx="239.4" cy="633.9" r="2.55"/><circle cx="282.5" cy="620.8" r="2.55"/><circle cx="293.8" cy="630.4" r="2.55"/><circle cx="286.8" cy="632.4" r="2.55"/><circle cx="286.5" cy="625.7" r="2.55"/><circle cx="291.2" cy="632.2" r="2.55"/><circle cx="225.2" cy="623.6" r="2.55"/><circle cx="257.5" cy="615.1" r="2.55"/><circle cx="280.6" cy="632.9" r="2.55"/><circle cx="239.2" cy="628.0" r="2.55"/><circle cx="233.4" cy="636.2" r="2.55"/><circle cx="296.6" cy="639.4" r="2.55"/><circle cx="242.9" cy="629.2" r="2.55"/><circle cx="304.6" cy="617.8" r="2.55"/><circle cx="283.5" cy="635.5" r="2.55"/><circle cx="244.3" cy="613.2" r="2.55"/><circle cx="222.6" cy="622.8" r="2.55"/><circle cx="224.8" cy="637.5" r="2.55"/><circle cx="285.3" cy="641.1" r="2.55"/><circle cx="294.6" cy="639.3" r="2.55"/><circle cx="232.0" cy="622.3" r="2.55"/><circle cx="248.6" cy="630.2" r="2.55"/><circle cx="302.9" cy="615.8" r="2.55"/><circle cx="278.6" cy="629.5" r="2.55"/><circle cx="304.7" cy="624.7" r="2.55"/><circle cx="255.2" cy="618.2" r="2.55"/><circle cx="302.0" cy="629.7" r="2.55"/><circle cx="226.9" cy="640.4" r="2.55"/><circle cx="287.4" cy="617.0" r="2.55"/><circle cx="274.5" cy="627.4" r="2.55"/><circle cx="272.5" cy="619.4" r="2.55"/><circle cx="222.5" cy="629.2" r="2.55"/><circle cx="287.9" cy="614.7" r="2.55"/><circle cx="250.1" cy="635.9" r="2.55"/><circle cx="302.0" cy="622.9" r="2.55"/><circle cx="215.0" cy="621.2" r="2.55"/><circle cx="247.4" cy="614.3" r="2.55"/><circle cx="253.7" cy="640.0" r="2.55"/><circle cx="309.2" cy="642.9" r="2.55"/><circle cx="221.1" cy="637.0" r="2.55"/><circle cx="279.1" cy="615.2" r="2.55"/><circle cx="291.0" cy="629.7" r="2.55"/><circle cx="312.3" cy="626.9" r="2.55"/><circle cx="226.4" cy="637.9" r="2.55"/><circle cx="215.9" cy="620.3" r="2.55"/><circle cx="225.0" cy="640.5" r="2.55"/><circle cx="282.3" cy="622.7" r="2.55"/><circle cx="258.0" cy="627.9" r="2.55"/><circle cx="268.8" cy="616.7" r="2.55"/><circle cx="282.2" cy="616.1" r="2.55"/><circle cx="300.7" cy="637.3" r="2.55"/><circle cx="248.6" cy="637.2" r="2.55"/><circle cx="294.1" cy="624.5" r="2.55"/><circle cx="242.1" cy="644.2" r="2.55"/><circle cx="293.0" cy="617.7" r="2.55"/><circle cx="308.7" cy="621.1" r="2.55"/><circle cx="262.1" cy="639.6" r="2.55"/><circle cx="282.4" cy="619.8" r="2.55"/><circle cx="249.7" cy="635.8" r="2.55"/><circle cx="244.0" cy="615.4" r="2.55"/><circle cx="219.7" cy="634.6" r="2.55"/><circle cx="285.6" cy="613.2" r="2.55"/><circle cx="269.3" cy="630.1" r="2.55"/><circle cx="289.4" cy="634.9" r="2.55"/><circle cx="271.7" cy="616.5" r="2.55"/><circle cx="288.2" cy="631.0" r="2.55"/><circle cx="257.5" cy="637.7" r="2.55"/><circle cx="236.5" cy="636.1" r="2.55"/><circle cx="279.9" cy="625.2" r="2.55"/><circle cx="303.0" cy="623.2" r="2.55"/><circle cx="267.4" cy="632.2" r="2.55"/><circle cx="274.4" cy="632.5" r="2.55"/><circle cx="220.1" cy="625.9" r="2.55"/><circle cx="266.9" cy="635.1" r="2.55"/><circle cx="281.4" cy="615.7" r="2.55"/><circle cx="291.1" cy="616.0" r="2.55"/><circle cx="285.5" cy="635.9" r="2.55"/><circle cx="254.7" cy="634.0" r="2.55"/><circle cx="311.6" cy="631.3" r="2.55"/><circle cx="240.8" cy="618.6" r="2.55"/><circle cx="264.4" cy="637.2" r="2.55"/><circle cx="214.4" cy="623.2" r="2.55"/><circle cx="305.0" cy="632.2" r="2.55"/><circle cx="231.6" cy="629.0" r="2.55"/><circle cx="216.0" cy="615.6" r="2.55"/><circle cx="257.3" cy="634.3" r="2.55"/><circle cx="297.1" cy="632.8" r="2.55"/><circle cx="237.1" cy="628.8" r="2.55"/><circle cx="301.3" cy="623.5" r="2.55"/><circle cx="291.7" cy="630.0" r="2.55"/><circle cx="271.7" cy="615.9" r="2.55"/><circle cx="236.9" cy="634.1" r="2.55"/><circle cx="251.7" cy="615.5" r="2.55"/><circle cx="234.4" cy="637.2" r="2.55"/><circle cx="220.8" cy="637.9" r="2.55"/><circle cx="270.0" cy="629.8" r="2.55"/><circle cx="277.5" cy="630.0" r="2.55"/><circle cx="237.3" cy="627.6" r="2.55"/><circle cx="219.7" cy="636.1" r="2.55"/><circle cx="234.6" cy="616.4" r="2.55"/><circle cx="310.3" cy="613.3" r="2.55"/><circle cx="253.0" cy="616.8" r="2.55"/><circle cx="231.4" cy="610.2" r="2.55"/><circle cx="297.3" cy="633.8" r="2.55"/><circle cx="292.6" cy="624.8" r="2.55"/><circle cx="306.0" cy="625.4" r="2.55"/><circle cx="231.8" cy="631.5" r="2.55"/><circle cx="241.3" cy="615.9" r="2.55"/><circle cx="233.5" cy="626.3" r="2.55"/><circle cx="268.2" cy="616.5" r="2.55"/><circle cx="236.3" cy="615.1" r="2.55"/><circle cx="308.3" cy="615.9" r="2.55"/><circle cx="223.4" cy="619.8" r="2.55"/><circle cx="228.9" cy="632.8" r="2.55"/><circle cx="273.8" cy="636.1" r="2.55"/><circle cx="305.9" cy="623.9" r="2.55"/><circle cx="249.3" cy="627.3" r="2.55"/><circle cx="240.5" cy="612.2" r="2.55"/><circle cx="217.6" cy="637.2" r="2.55"/><circle cx="276.0" cy="618.3" r="2.55"/><circle cx="230.9" cy="624.3" r="2.55"/><circle cx="274.4" cy="642.2" r="2.55"/><circle cx="304.9" cy="618.3" r="2.55"/><circle cx="218.9" cy="622.4" r="2.55"/><circle cx="306.2" cy="631.6" r="2.55"/><circle cx="310.8" cy="633.8" r="2.55"/><circle cx="264.3" cy="616.3" r="2.55"/><circle cx="285.1" cy="634.9" r="2.55"/><circle cx="264.3" cy="610.5" r="2.55"/><circle cx="294.6" cy="629.7" r="2.55"/><circle cx="224.2" cy="621.1" r="2.55"/><circle cx="253.4" cy="625.2" r="2.55"/><circle cx="297.0" cy="626.0" r="2.55"/><circle cx="259.0" cy="623.7" r="2.55"/><circle cx="225.5" cy="635.5" r="2.55"/><circle cx="256.3" cy="611.5" r="2.55"/><circle cx="300.7" cy="619.5" r="2.55"/><circle cx="276.4" cy="621.9" r="2.55"/><circle cx="301.6" cy="626.5" r="2.55"/><circle cx="240.7" cy="626.6" r="2.55"/><circle cx="274.9" cy="614.3" r="2.55"/><circle cx="254.6" cy="628.3" r="2.55"/><circle cx="265.3" cy="632.1" r="2.55"/><circle cx="293.4" cy="635.7" r="2.55"/><circle cx="306.2" cy="640.3" r="2.55"/><circle cx="278.6" cy="619.2" r="2.55"/><circle cx="243.2" cy="622.5" r="2.55"/><circle cx="293.9" cy="640.4" r="2.55"/><circle cx="274.8" cy="627.3" r="2.55"/><circle cx="301.0" cy="625.0" r="2.55"/><circle cx="305.2" cy="612.0" r="2.55"/><circle cx="286.1" cy="624.0" r="2.55"/><circle cx="289.3" cy="618.7" r="2.55"/><circle cx="312.7" cy="617.3" r="2.55"/><circle cx="238.2" cy="642.7" r="2.55"/><circle cx="302.6" cy="613.7" r="2.55"/><circle cx="258.9" cy="621.7" r="2.55"/><circle cx="223.2" cy="622.8" r="2.55"/><circle cx="294.7" cy="634.9" r="2.55"/><circle cx="256.7" cy="630.2" r="2.55"/><circle cx="239.6" cy="614.6" r="2.55"/><circle cx="301.0" cy="636.8" r="2.55"/><circle cx="238.7" cy="639.3" r="2.55"/><circle cx="278.6" cy="615.6" r="2.55"/><circle cx="289.4" cy="628.9" r="2.55"/><circle cx="268.0" cy="630.4" r="2.55"/><circle cx="243.3" cy="641.5" r="2.55"/><circle cx="222.6" cy="627.1" r="2.55"/><circle cx="254.3" cy="629.2" r="2.55"/><circle cx="225.1" cy="627.5" r="2.55"/><circle cx="255.1" cy="630.0" r="2.55"/><circle cx="237.7" cy="624.8" r="2.55"/><circle cx="256.8" cy="619.0" r="2.55"/><circle cx="284.5" cy="638.6" r="2.55"/><circle cx="223.1" cy="625.9" r="2.55"/><circle cx="236.3" cy="623.8" r="2.55"/><circle cx="278.0" cy="632.8" r="2.55"/><circle cx="226.2" cy="629.4" r="2.55"/><circle cx="233.7" cy="641.8" r="2.55"/><circle cx="294.2" cy="642.2" r="2.55"/><circle cx="258.0" cy="634.4" r="2.55"/><circle cx="267.4" cy="628.8" r="2.55"/><circle cx="307.5" cy="621.6" r="2.55"/><circle cx="273.1" cy="621.5" r="2.55"/><circle cx="273.1" cy="622.9" r="2.55"/><circle cx="292.3" cy="616.5" r="2.55"/><circle cx="238.0" cy="633.3" r="2.55"/><circle cx="292.4" cy="629.6" r="2.55"/><circle cx="293.2" cy="632.2" r="2.55"/><circle cx="307.7" cy="635.5" r="2.55"/><circle cx="224.6" cy="611.8" r="2.55"/><circle cx="247.6" cy="633.3" r="2.55"/><circle cx="270.8" cy="629.7" r="2.55"/><circle cx="237.8" cy="612.3" r="2.55"/><circle cx="218.2" cy="628.8" r="2.55"/><circle cx="256.6" cy="623.7" r="2.55"/><circle cx="235.6" cy="616.2" r="2.55"/><circle cx="311.8" cy="615.1" r="2.55"/><circle cx="238.8" cy="621.5" r="2.55"/><circle cx="303.4" cy="634.8" r="2.55"/><circle cx="270.4" cy="631.4" r="2.55"/><circle cx="296.8" cy="626.4" r="2.55"/><circle cx="237.4" cy="633.1" r="2.55"/><circle cx="286.0" cy="637.4" r="2.55"/><circle cx="295.1" cy="619.0" r="2.55"/><circle cx="288.2" cy="614.5" r="2.55"/><circle cx="292.2" cy="626.8" r="2.55"/><circle cx="248.5" cy="623.2" r="2.55"/><circle cx="305.3" cy="619.0" r="2.55"/><circle cx="283.2" cy="630.2" r="2.55"/><circle cx="221.5" cy="625.6" r="2.55"/><circle cx="308.2" cy="623.8" r="2.55"/><circle cx="273.0" cy="633.1" r="2.55"/><circle cx="227.4" cy="612.9" r="2.55"/><circle cx="269.1" cy="620.7" r="2.55"/><circle cx="266.5" cy="618.0" r="2.55"/><circle cx="234.0" cy="622.5" r="2.55"/><circle cx="251.3" cy="597.3" r="2.55"/><circle cx="256.1" cy="597.8" r="2.55"/><circle cx="224.5" cy="603.0" r="2.55"/><circle cx="233.2" cy="603.5" r="2.55"/><circle cx="226.5" cy="603.1" r="2.55"/><circle cx="237.7" cy="600.2" r="2.55"/><circle cx="241.3" cy="604.1" r="2.55"/><circle cx="223.4" cy="604.6" r="2.55"/><circle cx="231.6" cy="603.1" r="2.55"/><circle cx="252.5" cy="597.5" r="2.55"/><circle cx="231.0" cy="597.7" r="2.55"/><circle cx="221.3" cy="605.0" r="2.55"/><circle cx="213.9" cy="602.8" r="2.55"/><circle cx="214.3" cy="601.1" r="2.55"/><circle cx="239.4" cy="643.1" r="2.55"/><circle cx="247.6" cy="645.4" r="2.55"/><circle cx="237.3" cy="645.5" r="2.55"/><circle cx="259.5" cy="641.7" r="2.55"/><circle cx="236.0" cy="645.9" r="2.55"/><circle cx="236.2" cy="653.0" r="2.55"/><circle cx="256.8" cy="650.4" r="2.55"/><circle cx="255.5" cy="651.0" r="2.55"/><circle cx="249.2" cy="648.1" r="2.55"/><circle cx="254.8" cy="642.6" r="2.55"/><circle cx="241.4" cy="646.7" r="2.55"/><circle cx="258.3" cy="652.9" r="2.55"/><circle cx="235.7" cy="643.4" r="2.55"/><circle cx="246.1" cy="640.6" r="2.55"/><circle cx="256.5" cy="644.6" r="2.55"/><circle cx="248.0" cy="652.2" r="2.55"/><circle cx="254.6" cy="649.1" r="2.55"/><circle cx="259.4" cy="653.4" r="2.55"/><circle cx="149.9" cy="544.6" r="2.55"/><circle cx="95.0" cy="593.0" r="2.55"/><circle cx="97.0" cy="594.0" r="2.55"/><circle cx="99.0" cy="596.0" r="2.55"/><circle cx="101.0" cy="598.0" r="2.55"/><circle cx="233.0" cy="576.7" r="2.55"/><circle cx="236.5" cy="576.3" r="2.55"/><circle cx="231.2" cy="587.8" r="2.55"/><circle cx="234.7" cy="587.8" r="2.55"/><circle cx="240.0" cy="585.4" r="2.55"/><circle cx="262.5" cy="587.2" r="2.55"/><circle cx="259.0" cy="594.0" r="2.55"/><circle cx="261.0" cy="596.8" r="2.55"/><circle cx="237.6" cy="596.3" r="2.55"/><circle cx="225.1" cy="594.8" r="2.55"/><circle cx="196.2" cy="604.7" r="2.55"/><circle cx="206.7" cy="612.9" r="2.55"/><circle cx="214.3" cy="597.1" r="2.55"/><circle cx="150.0" cy="650.0" r="2.55"/><circle cx="155.0" cy="655.0" r="2.55"/><circle cx="160.0" cy="662.0" r="2.55"/><circle cx="143.0" cy="668.0" r="2.55"/><circle cx="146.0" cy="672.0" r="2.55"/><circle cx="120.0" cy="665.0" r="2.55"/><circle cx="122.0" cy="675.0" r="2.55"/><circle cx="128.0" cy="680.0" r="2.55"/><circle cx="110.0" cy="668.0" r="2.55"/><circle cx="112.0" cy="673.0" r="2.55"/>
</g>
<g fill="#30BEF0" fill-opacity="0.85">
<circle cx="69.1" cy="630.1" r="2.55"/><circle cx="57.5" cy="631.9" r="2.55"/><circle cx="56.4" cy="631.7" r="2.55"/><circle cx="58.1" cy="636.5" r="2.55"/><circle cx="63.8" cy="643.4" r="2.55"/><circle cx="68.7" cy="614.7" r="2.55"/><circle cx="54.1" cy="641.1" r="2.55"/><circle cx="56.0" cy="630.4" r="2.55"/><circle cx="65.8" cy="621.0" r="2.55"/><circle cx="70.1" cy="631.5" r="2.55"/><circle cx="59.2" cy="642.1" r="2.55"/><circle cx="68.9" cy="638.8" r="2.55"/><circle cx="94.4" cy="624.8" r="2.55"/><circle cx="140.9" cy="625.4" r="2.55"/><circle cx="118.8" cy="614.2" r="2.55"/><circle cx="149.4" cy="620.6" r="2.55"/><circle cx="120.0" cy="629.6" r="2.55"/><circle cx="108.6" cy="623.1" r="2.55"/><circle cx="94.1" cy="633.2" r="2.55"/><circle cx="90.7" cy="638.3" r="2.55"/><circle cx="115.3" cy="629.1" r="2.55"/><circle cx="107.9" cy="631.1" r="2.55"/><circle cx="98.5" cy="624.7" r="2.55"/><circle cx="175.0" cy="618.4" r="2.55"/><circle cx="126.7" cy="618.6" r="2.55"/><circle cx="139.8" cy="613.5" r="2.55"/><circle cx="112.8" cy="621.3" r="2.55"/><circle cx="126.1" cy="624.2" r="2.55"/><circle cx="132.8" cy="630.8" r="2.55"/><circle cx="174.7" cy="611.8" r="2.55"/><circle cx="127.5" cy="634.1" r="2.55"/><circle cx="111.3" cy="632.9" r="2.55"/><circle cx="119.6" cy="627.1" r="2.55"/><circle cx="110.1" cy="611.1" r="2.55"/><circle cx="94.7" cy="630.2" r="2.55"/><circle cx="109.5" cy="618.0" r="2.55"/><circle cx="144.8" cy="623.9" r="2.55"/><circle cx="109.8" cy="620.0" r="2.55"/><circle cx="109.7" cy="627.7" r="2.55"/><circle cx="161.6" cy="626.8" r="2.55"/><circle cx="108.9" cy="632.4" r="2.55"/><circle cx="145.2" cy="616.0" r="2.55"/><circle cx="135.3" cy="623.8" r="2.55"/><circle cx="96.0" cy="616.5" r="2.55"/><circle cx="96.9" cy="610.5" r="2.55"/><circle cx="169.8" cy="624.8" r="2.55"/><circle cx="179.4" cy="616.7" r="2.55"/><circle cx="140.0" cy="625.2" r="2.55"/><circle cx="156.0" cy="625.7" r="2.55"/><circle cx="137.7" cy="635.9" r="2.55"/><circle cx="161.6" cy="612.3" r="2.55"/><circle cx="84.9" cy="618.2" r="2.55"/><circle cx="146.2" cy="621.4" r="2.55"/><circle cx="98.4" cy="615.7" r="2.55"/><circle cx="101.0" cy="622.0" r="2.55"/><circle cx="129.1" cy="618.3" r="2.55"/><circle cx="180.3" cy="609.8" r="2.55"/><circle cx="105.3" cy="621.5" r="2.55"/><circle cx="119.7" cy="618.4" r="2.55"/><circle cx="100.6" cy="626.9" r="2.55"/><circle cx="147.2" cy="622.9" r="2.55"/><circle cx="131.6" cy="631.2" r="2.55"/><circle cx="127.8" cy="633.3" r="2.55"/><circle cx="142.0" cy="623.8" r="2.55"/><circle cx="176.9" cy="608.5" r="2.55"/><circle cx="95.0" cy="638.8" r="2.55"/><circle cx="141.8" cy="630.7" r="2.55"/><circle cx="114.4" cy="637.6" r="2.55"/><circle cx="152.8" cy="626.5" r="2.55"/><circle cx="111.8" cy="611.0" r="2.55"/><circle cx="91.9" cy="614.4" r="2.55"/><circle cx="74.9" cy="614.8" r="2.55"/><circle cx="109.0" cy="623.2" r="2.55"/><circle cx="76.4" cy="618.3" r="2.55"/><circle cx="132.0" cy="618.6" r="2.55"/><circle cx="85.5" cy="622.3" r="2.55"/><circle cx="164.2" cy="607.1" r="2.55"/><circle cx="152.0" cy="628.8" r="2.55"/><circle cx="95.7" cy="624.0" r="2.55"/><circle cx="183.9" cy="614.5" r="2.55"/><circle cx="120.4" cy="634.3" r="2.55"/><circle cx="94.8" cy="624.1" r="2.55"/><circle cx="115.0" cy="629.1" r="2.55"/><circle cx="155.2" cy="610.6" r="2.55"/><circle cx="158.0" cy="623.4" r="2.55"/><circle cx="148.9" cy="629.1" r="2.55"/><circle cx="119.6" cy="624.4" r="2.55"/><circle cx="82.5" cy="615.5" r="2.55"/><circle cx="125.3" cy="622.4" r="2.55"/><circle cx="113.1" cy="609.4" r="2.55"/><circle cx="121.0" cy="627.1" r="2.55"/><circle cx="150.4" cy="634.1" r="2.55"/><circle cx="150.4" cy="620.4" r="2.55"/><circle cx="133.2" cy="625.5" r="2.55"/><circle cx="178.8" cy="614.8" r="2.55"/><circle cx="128.4" cy="613.9" r="2.55"/><circle cx="178.1" cy="615.6" r="2.55"/><circle cx="153.5" cy="622.4" r="2.55"/><circle cx="123.3" cy="627.6" r="2.55"/><circle cx="154.0" cy="626.5" r="2.55"/><circle cx="128.2" cy="624.8" r="2.55"/><circle cx="166.2" cy="612.3" r="2.55"/><circle cx="147.1" cy="607.0" r="2.55"/><circle cx="131.2" cy="618.0" r="2.55"/><circle cx="106.4" cy="611.4" r="2.55"/><circle cx="91.0" cy="615.6" r="2.55"/><circle cx="75.0" cy="617.1" r="2.55"/><circle cx="145.0" cy="615.9" r="2.55"/><circle cx="92.6" cy="625.2" r="2.55"/><circle cx="126.3" cy="624.9" r="2.55"/><circle cx="193.4" cy="616.1" r="2.55"/><circle cx="110.6" cy="628.1" r="2.55"/><circle cx="77.2" cy="631.2" r="2.55"/><circle cx="129.2" cy="621.4" r="2.55"/><circle cx="115.2" cy="619.8" r="2.55"/><circle cx="137.0" cy="624.3" r="2.55"/><circle cx="150.8" cy="615.6" r="2.55"/><circle cx="176.7" cy="603.5" r="2.55"/><circle cx="137.3" cy="619.8" r="2.55"/><circle cx="165.0" cy="619.5" r="2.55"/><circle cx="87.2" cy="630.3" r="2.55"/><circle cx="153.8" cy="626.1" r="2.55"/><circle cx="181.4" cy="609.1" r="2.55"/><circle cx="123.4" cy="619.9" r="2.55"/><circle cx="135.2" cy="633.2" r="2.55"/><circle cx="86.5" cy="620.1" r="2.55"/><circle cx="155.2" cy="629.4" r="2.55"/><circle cx="156.4" cy="627.3" r="2.55"/><circle cx="82.6" cy="613.1" r="2.55"/><circle cx="113.1" cy="617.9" r="2.55"/><circle cx="116.4" cy="618.0" r="2.55"/><circle cx="124.0" cy="637.8" r="2.55"/><circle cx="78.2" cy="617.1" r="2.55"/><circle cx="77.8" cy="611.4" r="2.55"/><circle cx="109.4" cy="628.9" r="2.55"/><circle cx="176.3" cy="612.6" r="2.55"/><circle cx="79.4" cy="630.7" r="2.55"/><circle cx="113.3" cy="625.6" r="2.55"/><circle cx="83.3" cy="623.9" r="2.55"/><circle cx="94.8" cy="634.0" r="2.55"/><circle cx="119.5" cy="631.7" r="2.55"/><circle cx="173.7" cy="612.0" r="2.55"/><circle cx="102.8" cy="633.6" r="2.55"/><circle cx="75.7" cy="623.2" r="2.55"/><circle cx="110.3" cy="622.1" r="2.55"/><circle cx="150.3" cy="616.9" r="2.55"/><circle cx="102.9" cy="621.7" r="2.55"/><circle cx="151.8" cy="630.3" r="2.55"/><circle cx="130.8" cy="619.8" r="2.55"/><circle cx="131.5" cy="632.7" r="2.55"/><circle cx="187.6" cy="610.8" r="2.55"/><circle cx="161.6" cy="629.4" r="2.55"/><circle cx="139.0" cy="625.2" r="2.55"/><circle cx="75.8" cy="629.8" r="2.55"/><circle cx="180.8" cy="622.5" r="2.55"/><circle cx="104.9" cy="631.4" r="2.55"/><circle cx="105.0" cy="635.7" r="2.55"/><circle cx="97.4" cy="633.9" r="2.55"/><circle cx="100.0" cy="636.3" r="2.55"/><circle cx="92.2" cy="621.8" r="2.55"/><circle cx="120.3" cy="634.1" r="2.55"/><circle cx="149.7" cy="628.8" r="2.55"/><circle cx="156.5" cy="604.0" r="2.55"/><circle cx="78.9" cy="611.4" r="2.55"/><circle cx="84.2" cy="625.7" r="2.55"/><circle cx="134.5" cy="625.4" r="2.55"/><circle cx="129.7" cy="610.3" r="2.55"/><circle cx="152.1" cy="625.3" r="2.55"/><circle cx="93.5" cy="625.6" r="2.55"/><circle cx="146.2" cy="613.7" r="2.55"/><circle cx="153.8" cy="631.6" r="2.55"/><circle cx="146.4" cy="613.5" r="2.55"/><circle cx="166.8" cy="624.7" r="2.55"/><circle cx="82.8" cy="632.1" r="2.55"/><circle cx="110.8" cy="623.4" r="2.55"/><circle cx="99.3" cy="617.1" r="2.55"/><circle cx="108.9" cy="615.5" r="2.55"/><circle cx="175.3" cy="611.4" r="2.55"/><circle cx="126.5" cy="624.2" r="2.55"/><circle cx="158.5" cy="615.9" r="2.55"/><circle cx="143.5" cy="619.9" r="2.55"/><circle cx="78.4" cy="619.8" r="2.55"/><circle cx="124.6" cy="623.8" r="2.55"/><circle cx="131.7" cy="611.0" r="2.55"/><circle cx="182.5" cy="616.7" r="2.55"/><circle cx="96.7" cy="626.0" r="2.55"/><circle cx="171.8" cy="606.0" r="2.55"/><circle cx="119.3" cy="620.6" r="2.55"/><circle cx="149.8" cy="610.9" r="2.55"/><circle cx="146.7" cy="619.2" r="2.55"/><circle cx="84.4" cy="618.5" r="2.55"/><circle cx="100.9" cy="615.6" r="2.55"/><circle cx="86.9" cy="633.6" r="2.55"/><circle cx="81.4" cy="617.4" r="2.55"/><circle cx="184.2" cy="617.1" r="2.55"/><circle cx="147.2" cy="610.3" r="2.55"/><circle cx="107.1" cy="621.7" r="2.55"/><circle cx="118.5" cy="625.6" r="2.55"/><circle cx="139.9" cy="628.4" r="2.55"/><circle cx="75.5" cy="604.4" r="2.55"/><circle cx="130.1" cy="605.9" r="2.55"/><circle cx="138.0" cy="607.4" r="2.55"/><circle cx="132.8" cy="619.3" r="2.55"/><circle cx="103.6" cy="611.0" r="2.55"/><circle cx="105.1" cy="612.7" r="2.55"/><circle cx="89.9" cy="629.3" r="2.55"/><circle cx="98.5" cy="612.5" r="2.55"/><circle cx="146.6" cy="630.2" r="2.55"/><circle cx="155.5" cy="606.7" r="2.55"/><circle cx="94.0" cy="608.9" r="2.55"/><circle cx="124.3" cy="632.2" r="2.55"/><circle cx="174.1" cy="622.3" r="2.55"/><circle cx="167.9" cy="603.6" r="2.55"/><circle cx="137.4" cy="611.9" r="2.55"/><circle cx="141.7" cy="621.7" r="2.55"/><circle cx="79.2" cy="613.1" r="2.55"/><circle cx="98.3" cy="637.8" r="2.55"/><circle cx="180.3" cy="612.8" r="2.55"/><circle cx="85.9" cy="628.8" r="2.55"/><circle cx="113.3" cy="620.9" r="2.55"/><circle cx="83.0" cy="613.6" r="2.55"/><circle cx="134.3" cy="625.2" r="2.55"/><circle cx="123.3" cy="615.5" r="2.55"/><circle cx="83.4" cy="630.8" r="2.55"/><circle cx="106.5" cy="622.7" r="2.55"/><circle cx="93.3" cy="616.3" r="2.55"/><circle cx="131.7" cy="621.4" r="2.55"/><circle cx="150.0" cy="625.0" r="2.55"/><circle cx="184.3" cy="614.4" r="2.55"/><circle cx="113.4" cy="628.3" r="2.55"/><circle cx="149.3" cy="618.0" r="2.55"/><circle cx="121.3" cy="624.6" r="2.55"/><circle cx="126.3" cy="609.7" r="2.55"/><circle cx="170.3" cy="614.1" r="2.55"/><circle cx="110.2" cy="614.3" r="2.55"/><circle cx="102.1" cy="627.1" r="2.55"/><circle cx="119.0" cy="610.3" r="2.55"/><circle cx="93.2" cy="614.7" r="2.55"/><circle cx="194.7" cy="606.1" r="2.55"/><circle cx="191.8" cy="614.8" r="2.55"/><circle cx="173.9" cy="623.2" r="2.55"/><circle cx="149.9" cy="619.9" r="2.55"/><circle cx="55.0" cy="643.0" r="2.55"/><circle cx="58.0" cy="647.0" r="2.55"/><circle cx="62.0" cy="640.0" r="2.55"/><circle cx="65.0" cy="636.0" r="2.55"/><circle cx="70.0" cy="643.0" r="2.55"/><circle cx="295.2" cy="625.5" r="2.55"/><circle cx="238.2" cy="630.8" r="2.55"/><circle cx="260.2" cy="621.3" r="2.55"/><circle cx="243.6" cy="633.7" r="2.55"/><circle cx="288.0" cy="623.6" r="2.55"/><circle cx="273.9" cy="623.9" r="2.55"/><circle cx="230.3" cy="639.3" r="2.55"/><circle cx="290.7" cy="633.8" r="2.55"/><circle cx="261.4" cy="629.0" r="2.55"/><circle cx="247.4" cy="634.2" r="2.55"/><circle cx="292.8" cy="623.5" r="2.55"/><circle cx="297.2" cy="622.0" r="2.55"/><circle cx="232.0" cy="628.4" r="2.55"/><circle cx="299.2" cy="621.2" r="2.55"/><circle cx="262.5" cy="629.7" r="2.55"/><circle cx="298.5" cy="630.6" r="2.55"/><circle cx="279.7" cy="635.1" r="2.55"/><circle cx="245.0" cy="622.4" r="2.55"/><circle cx="276.4" cy="635.4" r="2.55"/><circle cx="261.8" cy="638.1" r="2.55"/><circle cx="252.6" cy="631.1" r="2.55"/><circle cx="261.7" cy="621.8" r="2.55"/><circle cx="250.7" cy="620.9" r="2.55"/><circle cx="228.6" cy="629.2" r="2.55"/><circle cx="277.8" cy="622.6" r="2.55"/><circle cx="267.7" cy="629.7" r="2.55"/><circle cx="222.5" cy="619.2" r="2.55"/><circle cx="275.2" cy="619.9" r="2.55"/><circle cx="241.6" cy="622.1" r="2.55"/><circle cx="238.0" cy="626.6" r="2.55"/><circle cx="276.2" cy="633.6" r="2.55"/><circle cx="272.2" cy="635.4" r="2.55"/><circle cx="251.5" cy="623.8" r="2.55"/><circle cx="256.5" cy="618.1" r="2.55"/><circle cx="283.8" cy="625.4" r="2.55"/><circle cx="282.8" cy="619.0" r="2.55"/><circle cx="294.6" cy="617.8" r="2.55"/><circle cx="298.1" cy="616.9" r="2.55"/><circle cx="227.4" cy="625.7" r="2.55"/><circle cx="301.7" cy="629.6" r="2.55"/><circle cx="301.0" cy="617.7" r="2.55"/><circle cx="294.6" cy="617.4" r="2.55"/><circle cx="299.8" cy="616.2" r="2.55"/><circle cx="242.6" cy="616.7" r="2.55"/><circle cx="276.4" cy="619.1" r="2.55"/><circle cx="230.4" cy="623.5" r="2.55"/><circle cx="270.3" cy="617.0" r="2.55"/><circle cx="248.5" cy="633.3" r="2.55"/><circle cx="297.0" cy="633.7" r="2.55"/><circle cx="251.8" cy="632.8" r="2.55"/><circle cx="248.4" cy="630.1" r="2.55"/><circle cx="225.5" cy="622.4" r="2.55"/><circle cx="281.2" cy="621.4" r="2.55"/><circle cx="223.8" cy="637.8" r="2.55"/><circle cx="266.6" cy="622.5" r="2.55"/><circle cx="280.0" cy="631.4" r="2.55"/><circle cx="302.1" cy="621.8" r="2.55"/><circle cx="291.8" cy="617.9" r="2.55"/><circle cx="277.0" cy="633.5" r="2.55"/><circle cx="273.7" cy="629.5" r="2.55"/><circle cx="237.4" cy="632.3" r="2.55"/><circle cx="254.7" cy="617.3" r="2.55"/><circle cx="260.7" cy="630.7" r="2.55"/><circle cx="224.5" cy="633.6" r="2.55"/><circle cx="261.7" cy="621.3" r="2.55"/><circle cx="218.0" cy="621.9" r="2.55"/><circle cx="293.1" cy="622.1" r="2.55"/><circle cx="229.4" cy="635.4" r="2.55"/><circle cx="252.9" cy="634.9" r="2.55"/><circle cx="291.3" cy="628.5" r="2.55"/><circle cx="285.2" cy="634.3" r="2.55"/><circle cx="306.9" cy="626.4" r="2.55"/><circle cx="285.3" cy="630.0" r="2.55"/><circle cx="275.5" cy="636.6" r="2.55"/><circle cx="221.3" cy="618.7" r="2.55"/><circle cx="272.7" cy="638.3" r="2.55"/><circle cx="304.5" cy="633.2" r="2.55"/><circle cx="288.3" cy="627.1" r="2.55"/><circle cx="245.9" cy="623.4" r="2.55"/><circle cx="292.2" cy="625.2" r="2.55"/><circle cx="247.0" cy="619.8" r="2.55"/><circle cx="306.9" cy="623.9" r="2.55"/><circle cx="237.5" cy="631.7" r="2.55"/><circle cx="271.8" cy="620.3" r="2.55"/><circle cx="268.1" cy="629.6" r="2.55"/><circle cx="272.4" cy="616.1" r="2.55"/><circle cx="267.6" cy="623.4" r="2.55"/><circle cx="293.4" cy="633.2" r="2.55"/><circle cx="244.3" cy="619.9" r="2.55"/><circle cx="258.5" cy="639.7" r="2.55"/><circle cx="281.7" cy="633.9" r="2.55"/><circle cx="296.1" cy="619.5" r="2.55"/><circle cx="274.3" cy="620.7" r="2.55"/><circle cx="230.4" cy="620.4" r="2.55"/><circle cx="309.7" cy="626.5" r="2.55"/><circle cx="265.0" cy="630.5" r="2.55"/><circle cx="289.9" cy="631.2" r="2.55"/><circle cx="237.9" cy="623.6" r="2.55"/><circle cx="280.1" cy="630.1" r="2.55"/><circle cx="276.7" cy="621.3" r="2.55"/><circle cx="293.2" cy="637.8" r="2.55"/><circle cx="308.8" cy="621.9" r="2.55"/><circle cx="259.1" cy="626.8" r="2.55"/><circle cx="268.2" cy="638.1" r="2.55"/><circle cx="257.8" cy="623.9" r="2.55"/><circle cx="292.8" cy="634.3" r="2.55"/><circle cx="284.2" cy="627.3" r="2.55"/><circle cx="275.7" cy="629.1" r="2.55"/><circle cx="246.2" cy="636.3" r="2.55"/><circle cx="279.7" cy="617.0" r="2.55"/><circle cx="264.3" cy="626.6" r="2.55"/><circle cx="275.7" cy="619.7" r="2.55"/><circle cx="230.1" cy="624.2" r="2.55"/><circle cx="264.7" cy="618.9" r="2.55"/><circle cx="309.3" cy="626.4" r="2.55"/><circle cx="250.4" cy="629.7" r="2.55"/><circle cx="300.9" cy="628.9" r="2.55"/><circle cx="220.6" cy="622.2" r="2.55"/><circle cx="245.3" cy="627.9" r="2.55"/><circle cx="262.9" cy="634.5" r="2.55"/><circle cx="253.4" cy="627.5" r="2.55"/><circle cx="218.1" cy="633.2" r="2.55"/><circle cx="277.6" cy="619.1" r="2.55"/><circle cx="249.0" cy="625.6" r="2.55"/><circle cx="279.8" cy="635.1" r="2.55"/><circle cx="285.3" cy="616.0" r="2.55"/><circle cx="292.5" cy="633.0" r="2.55"/><circle cx="259.4" cy="619.6" r="2.55"/><circle cx="254.5" cy="620.2" r="2.55"/><circle cx="276.6" cy="637.1" r="2.55"/><circle cx="227.9" cy="629.8" r="2.55"/><circle cx="255.3" cy="628.9" r="2.55"/><circle cx="303.0" cy="622.3" r="2.55"/><circle cx="228.9" cy="635.2" r="2.55"/><circle cx="306.9" cy="633.9" r="2.55"/><circle cx="233.7" cy="634.5" r="2.55"/><circle cx="254.3" cy="629.8" r="2.55"/><circle cx="249.0" cy="618.6" r="2.55"/><circle cx="269.9" cy="623.8" r="2.55"/><circle cx="269.6" cy="621.6" r="2.55"/><circle cx="254.9" cy="624.0" r="2.55"/><circle cx="305.5" cy="630.5" r="2.55"/><circle cx="290.5" cy="624.9" r="2.55"/><circle cx="282.9" cy="624.7" r="2.55"/><circle cx="267.9" cy="614.6" r="2.55"/><circle cx="233.0" cy="620.7" r="2.55"/><circle cx="263.9" cy="632.3" r="2.55"/><circle cx="228.4" cy="627.1" r="2.55"/><circle cx="251.7" cy="630.1" r="2.55"/><circle cx="307.7" cy="625.9" r="2.55"/><circle cx="309.3" cy="622.2" r="2.55"/><circle cx="251.0" cy="620.6" r="2.55"/><circle cx="269.8" cy="631.0" r="2.55"/><circle cx="228.7" cy="628.8" r="2.55"/><circle cx="234.0" cy="634.0" r="2.55"/><circle cx="270.4" cy="624.5" r="2.55"/><circle cx="234.1" cy="634.7" r="2.55"/><circle cx="275.5" cy="622.3" r="2.55"/><circle cx="231.6" cy="628.6" r="2.55"/><circle cx="266.6" cy="632.5" r="2.55"/><circle cx="219.9" cy="606.6" r="2.55"/><circle cx="232.3" cy="607.1" r="2.55"/><circle cx="239.6" cy="608.5" r="2.55"/><circle cx="221.8" cy="607.6" r="2.55"/><circle cx="235.2" cy="605.4" r="2.55"/><circle cx="231.6" cy="606.6" r="2.55"/><circle cx="213.5" cy="611.0" r="2.55"/><circle cx="234.3" cy="602.5" r="2.55"/><circle cx="151.3" cy="570.0" r="2.55"/><circle cx="157.4" cy="586.8" r="2.55"/><circle cx="75.0" cy="597.0" r="2.55"/><circle cx="80.0" cy="606.0" r="2.55"/><circle cx="145.0" cy="630.0" r="2.55"/><circle cx="150.0" cy="642.0" r="2.55"/><circle cx="159.0" cy="652.0" r="2.55"/><circle cx="160.0" cy="655.0" r="2.55"/><circle cx="248.0" cy="650.0" r="2.55"/><circle cx="252.0" cy="652.0" r="2.55"/><circle cx="236.0" cy="649.0" r="2.55"/><circle cx="262.0" cy="647.0" r="2.55"/><circle cx="300.0" cy="628.0" r="2.55"/><circle cx="209.6" cy="604.1" r="2.55"/><circle cx="242.9" cy="599.8" r="2.55"/><circle cx="255.7" cy="601.2" r="2.55"/><circle cx="221.9" cy="596.0" r="2.55"/>
</g>
</g>
<line x1="38.7" y1="620.3" x2="324.3" y2="620.3" stroke="#111" stroke-width="0.9"/>
<rect x="38.7" y="514.4" width="285.6" height="211.8" fill="none" stroke="#8c8c8c" stroke-width="1.25"/>
<line x1="36.2" y1="514.4" x2="38.7" y2="514.4" stroke="#555" stroke-width="0.8"/>
<text x="34.7" y="518.0" font-size="10.5" text-anchor="end">2.0</text>
<line x1="36.2" y1="540.9" x2="38.7" y2="540.9" stroke="#555" stroke-width="0.8"/>
<text x="34.7" y="544.5" font-size="10.5" text-anchor="end">1.5</text>
<line x1="36.2" y1="567.3" x2="38.7" y2="567.3" stroke="#555" stroke-width="0.8"/>
<text x="34.7" y="570.9" font-size="10.5" text-anchor="end">1.0</text>
<line x1="36.2" y1="593.8" x2="38.7" y2="593.8" stroke="#555" stroke-width="0.8"/>
<text x="34.7" y="597.4" font-size="10.5" text-anchor="end">0.5</text>
<line x1="36.2" y1="620.3" x2="38.7" y2="620.3" stroke="#555" stroke-width="0.8"/>
<text x="34.7" y="623.9" font-size="10.5" text-anchor="end">0.0</text>
<line x1="36.2" y1="646.8" x2="38.7" y2="646.8" stroke="#555" stroke-width="0.8"/>
<text x="34.7" y="650.4" font-size="10.5" text-anchor="end">−0.5</text>
<line x1="36.2" y1="673.2" x2="38.7" y2="673.2" stroke="#555" stroke-width="0.8"/>
<text x="34.7" y="676.9" font-size="10.5" text-anchor="end">−1.0</text>
<line x1="36.2" y1="699.7" x2="38.7" y2="699.7" stroke="#555" stroke-width="0.8"/>
<text x="34.7" y="703.3" font-size="10.5" text-anchor="end">−1.5</text>
<line x1="36.2" y1="726.2" x2="38.7" y2="726.2" stroke="#555" stroke-width="0.8"/>
<text x="34.7" y="729.8" font-size="10.5" text-anchor="end">−2.0</text>
<line x1="59.7" y1="726.2" x2="59.7" y2="728.7" stroke="#555" stroke-width="0.8"/>
<text x="59.7" y="738.2" font-size="10.5" text-anchor="middle">950</text>
<line x1="99.6" y1="726.2" x2="99.6" y2="728.7" stroke="#555" stroke-width="0.8"/>
<text x="99.6" y="738.2" font-size="10.5" text-anchor="middle">1000</text>
<line x1="139.6" y1="726.2" x2="139.6" y2="728.7" stroke="#555" stroke-width="0.8"/>
<text x="139.6" y="738.2" font-size="10.5" text-anchor="middle">1050</text>
<line x1="179.5" y1="726.2" x2="179.5" y2="728.7" stroke="#555" stroke-width="0.8"/>
<text x="179.5" y="738.2" font-size="10.5" text-anchor="middle">1100</text>
<line x1="219.4" y1="726.2" x2="219.4" y2="728.7" stroke="#555" stroke-width="0.8"/>
<text x="219.4" y="738.2" font-size="10.5" text-anchor="middle">1150</text>
<line x1="259.4" y1="726.2" x2="259.4" y2="728.7" stroke="#555" stroke-width="0.8"/>
<text x="259.4" y="738.2" font-size="10.5" text-anchor="middle">1200</text>
<line x1="299.3" y1="726.2" x2="299.3" y2="728.7" stroke="#555" stroke-width="0.8"/>
<text x="299.3" y="738.2" font-size="10.5" text-anchor="middle">1250</text>
<text x="179.8" y="750.9" font-size="13.4" text-anchor="middle">Actual</text>
<text transform="translate(12.3,619.9) rotate(-90)" font-size="13.2" text-anchor="middle">Relative Error (%)</text>
<text x="313.1" y="712.8" font-size="15.6" text-anchor="end">TabNet</text>
<rect x="239.5" y="518.5" width="79.8" height="28.2" rx="2" fill="#fff" fill-opacity="0.8" stroke="#ddd" stroke-width="0.8"/>
<circle cx="252.2" cy="526.2" r="2.6" fill="#F5D425" stroke="#1a1a1a" stroke-width="0.5"/>
<circle cx="252.2" cy="539.0" r="2.6" fill="#30BEF0" stroke="#1a1a1a" stroke-width="0.5"/>
<text x="268.7" y="528.9" font-size="9">Training data</text>
<text x="268.7" y="541.7" font-size="9">Test data</text>
<clipPath id="cDNN"><rect x="395.5" y="515.8" width="288.3" height="214.4"/></clipPath>
<line x1="395.5" y1="623.0" x2="683.8" y2="623.0" stroke="#8a8a8a" stroke-width="1.0"/>
<g clip-path="url(#cDNN)" stroke="#1a1a1a" stroke-opacity="0.85" stroke-width="0.5">
<g fill="#F5D425" fill-opacity="0.85">
<circle cx="539.0" cy="621.9" r="2.1"/><circle cx="500.3" cy="624.8" r="2.1"/><circle cx="419.4" cy="625.5" r="2.1"/><circle cx="490.9" cy="622.8" r="2.1"/><circle cx="471.5" cy="618.2" r="2.1"/><circle cx="524.8" cy="620.6" r="2.1"/><circle cx="424.4" cy="619.7" r="2.1"/><circle cx="467.0" cy="610.6" r="2.1"/><circle cx="470.1" cy="616.0" r="2.1"/><circle cx="535.9" cy="620.3" r="2.1"/><circle cx="515.6" cy="622.3" r="2.1"/><circle cx="478.9" cy="622.2" r="2.1"/><circle cx="429.5" cy="633.9" r="2.1"/><circle cx="506.1" cy="623.8" r="2.1"/><circle cx="441.3" cy="624.8" r="2.1"/><circle cx="454.1" cy="624.0" r="2.1"/><circle cx="429.8" cy="616.8" r="2.1"/><circle cx="444.0" cy="622.9" r="2.1"/><circle cx="471.2" cy="629.4" r="2.1"/><circle cx="445.6" cy="617.3" r="2.1"/><circle cx="443.1" cy="632.5" r="2.1"/><circle cx="493.0" cy="619.2" r="2.1"/><circle cx="482.7" cy="625.5" r="2.1"/><circle cx="422.9" cy="623.4" r="2.1"/><circle cx="496.8" cy="615.4" r="2.1"/><circle cx="541.8" cy="619.5" r="2.1"/><circle cx="496.8" cy="617.3" r="2.1"/><circle cx="508.6" cy="621.4" r="2.1"/><circle cx="441.1" cy="624.3" r="2.1"/><circle cx="469.6" cy="613.9" r="2.1"/><circle cx="509.7" cy="623.6" r="2.1"/><circle cx="548.1" cy="620.5" r="2.1"/><circle cx="522.0" cy="622.2" r="2.1"/><circle cx="522.6" cy="622.7" r="2.1"/><circle cx="493.5" cy="619.3" r="2.1"/><circle cx="474.0" cy="612.4" r="2.1"/><circle cx="506.8" cy="614.1" r="2.1"/><circle cx="529.8" cy="616.9" r="2.1"/><circle cx="528.1" cy="619.6" r="2.1"/><circle cx="474.7" cy="618.3" r="2.1"/><circle cx="437.3" cy="616.2" r="2.1"/><circle cx="407.7" cy="628.0" r="2.1"/><circle cx="525.0" cy="620.8" r="2.1"/><circle cx="548.8" cy="620.7" r="2.1"/><circle cx="454.6" cy="625.1" r="2.1"/><circle cx="427.0" cy="634.3" r="2.1"/><circle cx="496.1" cy="624.2" r="2.1"/><circle cx="426.1" cy="631.6" r="2.1"/><circle cx="436.9" cy="614.9" r="2.1"/><circle cx="416.9" cy="629.2" r="2.1"/><circle cx="432.4" cy="622.4" r="2.1"/><circle cx="511.1" cy="615.6" r="2.1"/><circle cx="467.1" cy="619.5" r="2.1"/><circle cx="460.6" cy="628.3" r="2.1"/><circle cx="532.3" cy="617.0" r="2.1"/><circle cx="482.3" cy="620.7" r="2.1"/><circle cx="408.4" cy="625.2" r="2.1"/><circle cx="549.8" cy="617.6" r="2.1"/><circle cx="503.3" cy="614.3" r="2.1"/><circle cx="437.4" cy="629.8" r="2.1"/><circle cx="430.4" cy="613.3" r="2.1"/><circle cx="435.0" cy="618.1" r="2.1"/><circle cx="485.3" cy="624.0" r="2.1"/><circle cx="486.9" cy="620.3" r="2.1"/><circle cx="517.8" cy="622.6" r="2.1"/><circle cx="444.9" cy="614.8" r="2.1"/><circle cx="506.0" cy="625.4" r="2.1"/><circle cx="536.3" cy="622.0" r="2.1"/><circle cx="471.3" cy="626.7" r="2.1"/><circle cx="502.7" cy="622.2" r="2.1"/><circle cx="539.1" cy="617.2" r="2.1"/><circle cx="473.1" cy="611.1" r="2.1"/><circle cx="443.0" cy="612.4" r="2.1"/><circle cx="473.3" cy="619.8" r="2.1"/><circle cx="450.4" cy="624.5" r="2.1"/><circle cx="527.3" cy="623.2" r="2.1"/><circle cx="551.4" cy="620.6" r="2.1"/><circle cx="525.2" cy="616.0" r="2.1"/><circle cx="517.7" cy="620.3" r="2.1"/><circle cx="487.2" cy="621.2" r="2.1"/><circle cx="500.5" cy="620.4" r="2.1"/><circle cx="447.4" cy="621.9" r="2.1"/><circle cx="442.8" cy="628.3" r="2.1"/><circle cx="521.4" cy="620.3" r="2.1"/><circle cx="481.0" cy="612.7" r="2.1"/><circle cx="509.1" cy="618.1" r="2.1"/><circle cx="549.2" cy="617.9" r="2.1"/><circle cx="436.2" cy="618.6" r="2.1"/><circle cx="508.7" cy="624.5" r="2.1"/><circle cx="469.5" cy="623.4" r="2.1"/><circle cx="424.9" cy="630.3" r="2.1"/><circle cx="494.9" cy="616.1" r="2.1"/><circle cx="507.6" cy="620.6" r="2.1"/><circle cx="516.5" cy="620.6" r="2.1"/><circle cx="461.1" cy="625.3" r="2.1"/><circle cx="499.3" cy="614.1" r="2.1"/><circle cx="475.8" cy="615.8" r="2.1"/><circle cx="511.7" cy="619.7" r="2.1"/><circle cx="476.3" cy="619.5" r="2.1"/><circle cx="437.4" cy="617.8" r="2.1"/><circle cx="476.2" cy="628.1" r="2.1"/><circle cx="553.8" cy="619.3" r="2.1"/><circle cx="433.0" cy="619.0" r="2.1"/><circle cx="426.9" cy="630.6" r="2.1"/><circle cx="413.2" cy="625.9" r="2.1"/><circle cx="446.2" cy="627.8" r="2.1"/><circle cx="434.2" cy="625.6" r="2.1"/><circle cx="499.6" cy="626.4" r="2.1"/><circle cx="440.5" cy="628.1" r="2.1"/><circle cx="446.5" cy="630.1" r="2.1"/><circle cx="435.7" cy="632.6" r="2.1"/><circle cx="487.3" cy="615.4" r="2.1"/><circle cx="471.2" cy="614.2" r="2.1"/><circle cx="472.8" cy="615.9" r="2.1"/><circle cx="512.0" cy="619.1" r="2.1"/><circle cx="463.3" cy="620.2" r="2.1"/><circle cx="469.9" cy="614.5" r="2.1"/><circle cx="544.5" cy="617.1" r="2.1"/><circle cx="535.7" cy="617.8" r="2.1"/><circle cx="449.4" cy="626.4" r="2.1"/><circle cx="470.3" cy="625.4" r="2.1"/><circle cx="488.5" cy="615.5" r="2.1"/><circle cx="405.5" cy="626.1" r="2.1"/><circle cx="440.2" cy="624.1" r="2.1"/><circle cx="406.8" cy="623.1" r="2.1"/><circle cx="472.4" cy="616.1" r="2.1"/><circle cx="471.0" cy="630.6" r="2.1"/><circle cx="434.1" cy="619.9" r="2.1"/><circle cx="519.7" cy="623.9" r="2.1"/><circle cx="524.4" cy="618.9" r="2.1"/><circle cx="463.6" cy="628.5" r="2.1"/><circle cx="501.1" cy="616.8" r="2.1"/><circle cx="541.1" cy="616.7" r="2.1"/><circle cx="454.8" cy="619.1" r="2.1"/><circle cx="508.8" cy="621.5" r="2.1"/><circle cx="421.1" cy="618.8" r="2.1"/><circle cx="468.3" cy="627.0" r="2.1"/><circle cx="439.1" cy="618.9" r="2.1"/><circle cx="518.3" cy="620.5" r="2.1"/><circle cx="445.7" cy="621.6" r="2.1"/><circle cx="455.7" cy="618.0" r="2.1"/><circle cx="528.0" cy="620.1" r="2.1"/><circle cx="510.3" cy="618.0" r="2.1"/><circle cx="532.7" cy="620.9" r="2.1"/><circle cx="453.3" cy="610.3" r="2.1"/><circle cx="492.8" cy="617.4" r="2.1"/><circle cx="429.8" cy="626.4" r="2.1"/><circle cx="552.7" cy="617.4" r="2.1"/><circle cx="455.1" cy="614.0" r="2.1"/><circle cx="478.0" cy="615.2" r="2.1"/><circle cx="526.4" cy="618.4" r="2.1"/><circle cx="418.7" cy="622.8" r="2.1"/><circle cx="436.0" cy="614.5" r="2.1"/><circle cx="486.9" cy="615.6" r="2.1"/><circle cx="539.2" cy="620.8" r="2.1"/><circle cx="454.0" cy="624.7" r="2.1"/><circle cx="422.6" cy="628.1" r="2.1"/><circle cx="466.6" cy="617.7" r="2.1"/><circle cx="418.6" cy="617.1" r="2.1"/><circle cx="467.2" cy="620.2" r="2.1"/><circle cx="428.1" cy="616.2" r="2.1"/><circle cx="461.4" cy="617.9" r="2.1"/><circle cx="477.7" cy="616.4" r="2.1"/><circle cx="520.9" cy="619.5" r="2.1"/><circle cx="434.1" cy="620.3" r="2.1"/><circle cx="438.2" cy="627.4" r="2.1"/><circle cx="518.0" cy="616.0" r="2.1"/><circle cx="450.2" cy="629.4" r="2.1"/><circle cx="458.7" cy="623.0" r="2.1"/><circle cx="497.1" cy="621.4" r="2.1"/><circle cx="419.6" cy="618.9" r="2.1"/><circle cx="431.7" cy="625.2" r="2.1"/><circle cx="421.4" cy="611.8" r="2.1"/><circle cx="472.7" cy="616.6" r="2.1"/><circle cx="550.9" cy="617.0" r="2.1"/><circle cx="453.1" cy="619.6" r="2.1"/><circle cx="465.9" cy="612.8" r="2.1"/><circle cx="419.3" cy="621.4" r="2.1"/><circle cx="440.5" cy="629.9" r="2.1"/><circle cx="514.1" cy="618.2" r="2.1"/><circle cx="462.2" cy="625.5" r="2.1"/><circle cx="487.7" cy="625.6" r="2.1"/><circle cx="488.1" cy="619.1" r="2.1"/><circle cx="404.9" cy="627.1" r="2.1"/><circle cx="485.8" cy="624.6" r="2.1"/><circle cx="473.8" cy="616.6" r="2.1"/><circle cx="511.1" cy="621.0" r="2.1"/><circle cx="511.6" cy="616.5" r="2.1"/><circle cx="449.4" cy="618.1" r="2.1"/><circle cx="419.5" cy="625.1" r="2.1"/><circle cx="477.6" cy="624.9" r="2.1"/><circle cx="491.2" cy="616.9" r="2.1"/><circle cx="552.1" cy="617.0" r="2.1"/><circle cx="505.8" cy="619.4" r="2.1"/><circle cx="456.0" cy="610.3" r="2.1"/><circle cx="446.2" cy="626.6" r="2.1"/><circle cx="551.9" cy="618.9" r="2.1"/><circle cx="457.4" cy="628.7" r="2.1"/><circle cx="534.8" cy="620.4" r="2.1"/><circle cx="425.6" cy="615.3" r="2.1"/><circle cx="506.9" cy="620.4" r="2.1"/><circle cx="505.5" cy="616.4" r="2.1"/><circle cx="505.3" cy="619.4" r="2.1"/><circle cx="464.0" cy="618.7" r="2.1"/><circle cx="492.8" cy="613.9" r="2.1"/><circle cx="548.8" cy="619.0" r="2.1"/><circle cx="548.4" cy="621.6" r="2.1"/><circle cx="462.0" cy="625.1" r="2.1"/><circle cx="420.7" cy="631.1" r="2.1"/><circle cx="437.4" cy="621.1" r="2.1"/><circle cx="475.1" cy="621.7" r="2.1"/><circle cx="415.9" cy="619.0" r="2.1"/><circle cx="537.8" cy="617.5" r="2.1"/><circle cx="520.6" cy="623.1" r="2.1"/><circle cx="495.7" cy="616.5" r="2.1"/><circle cx="419.5" cy="624.0" r="2.1"/><circle cx="518.6" cy="618.2" r="2.1"/><circle cx="494.4" cy="625.2" r="2.1"/><circle cx="531.2" cy="617.4" r="2.1"/><circle cx="436.3" cy="613.7" r="2.1"/><circle cx="430.2" cy="614.4" r="2.1"/><circle cx="490.6" cy="622.3" r="2.1"/><circle cx="531.9" cy="618.3" r="2.1"/><circle cx="525.9" cy="622.8" r="2.1"/><circle cx="440.4" cy="613.5" r="2.1"/><circle cx="500.9" cy="620.7" r="2.1"/><circle cx="522.9" cy="620.2" r="2.1"/><circle cx="543.1" cy="619.2" r="2.1"/><circle cx="443.1" cy="628.6" r="2.1"/><circle cx="480.1" cy="625.5" r="2.1"/><circle cx="424.1" cy="635.0" r="2.1"/><circle cx="464.8" cy="623.4" r="2.1"/><circle cx="432.5" cy="631.9" r="2.1"/><circle cx="484.5" cy="628.4" r="2.1"/><circle cx="421.7" cy="620.5" r="2.1"/><circle cx="410.1" cy="623.6" r="2.1"/><circle cx="466.0" cy="615.0" r="2.1"/><circle cx="470.1" cy="623.1" r="2.1"/><circle cx="445.1" cy="618.5" r="2.1"/><circle cx="508.7" cy="620.0" r="2.1"/><circle cx="553.4" cy="619.7" r="2.1"/><circle cx="507.9" cy="623.7" r="2.1"/><circle cx="413.2" cy="625.3" r="2.1"/><circle cx="460.5" cy="608.8" r="2.1"/><circle cx="503.9" cy="614.2" r="2.1"/><circle cx="447.6" cy="613.8" r="2.1"/><circle cx="476.5" cy="629.6" r="2.1"/><circle cx="442.7" cy="619.9" r="2.1"/><circle cx="505.9" cy="623.3" r="2.1"/><circle cx="502.1" cy="619.1" r="2.1"/><circle cx="450.0" cy="623.4" r="2.1"/><circle cx="433.2" cy="609.9" r="2.1"/><circle cx="449.0" cy="623.1" r="2.1"/><circle cx="538.0" cy="619.9" r="2.1"/><circle cx="517.0" cy="615.6" r="2.1"/><circle cx="509.2" cy="623.9" r="2.1"/><circle cx="513.7" cy="616.9" r="2.1"/><circle cx="522.9" cy="623.2" r="2.1"/><circle cx="473.1" cy="610.5" r="2.1"/><circle cx="493.1" cy="618.3" r="2.1"/><circle cx="430.6" cy="631.1" r="2.1"/><circle cx="505.0" cy="624.8" r="2.1"/><circle cx="417.2" cy="627.4" r="2.1"/><circle cx="453.2" cy="611.6" r="2.1"/><circle cx="466.6" cy="622.6" r="2.1"/><circle cx="545.4" cy="619.5" r="2.1"/><circle cx="485.1" cy="626.4" r="2.1"/><circle cx="539.1" cy="622.2" r="2.1"/><circle cx="486.1" cy="626.3" r="2.1"/><circle cx="417.7" cy="624.9" r="2.1"/><circle cx="411.7" cy="623.5" r="2.1"/><circle cx="406.4" cy="624.6" r="2.1"/><circle cx="443.5" cy="613.5" r="2.1"/><circle cx="412.4" cy="620.5" r="2.1"/><circle cx="484.7" cy="611.3" r="2.1"/><circle cx="495.7" cy="617.1" r="2.1"/><circle cx="423.4" cy="620.0" r="2.1"/><circle cx="480.9" cy="612.4" r="2.1"/><circle cx="505.4" cy="622.8" r="2.1"/><circle cx="522.0" cy="620.3" r="2.1"/><circle cx="528.6" cy="619.7" r="2.1"/><circle cx="512.1" cy="618.6" r="2.1"/><circle cx="495.2" cy="618.5" r="2.1"/><circle cx="473.8" cy="622.2" r="2.1"/><circle cx="408.8" cy="620.5" r="2.1"/><circle cx="512.3" cy="624.2" r="2.1"/><circle cx="489.8" cy="620.7" r="2.1"/><circle cx="439.7" cy="619.3" r="2.1"/><circle cx="457.2" cy="616.6" r="2.1"/><circle cx="459.9" cy="623.0" r="2.1"/><circle cx="433.2" cy="616.3" r="2.1"/><circle cx="474.3" cy="621.3" r="2.1"/><circle cx="485.8" cy="624.4" r="2.1"/><circle cx="498.6" cy="624.3" r="2.1"/><circle cx="463.8" cy="613.2" r="2.1"/><circle cx="438.8" cy="633.3" r="2.1"/><circle cx="427.0" cy="631.6" r="2.1"/><circle cx="462.3" cy="627.9" r="2.1"/><circle cx="405.1" cy="622.3" r="2.1"/><circle cx="522.1" cy="617.5" r="2.1"/><circle cx="441.1" cy="622.4" r="2.1"/><circle cx="417.4" cy="631.2" r="2.1"/><circle cx="444.9" cy="616.0" r="2.1"/><circle cx="472.3" cy="623.5" r="2.1"/><circle cx="438.4" cy="617.7" r="2.1"/><circle cx="448.1" cy="630.0" r="2.1"/><circle cx="486.5" cy="619.1" r="2.1"/><circle cx="515.6" cy="620.5" r="2.1"/><circle cx="436.0" cy="618.3" r="2.1"/><circle cx="554.8" cy="620.6" r="2.1"/><circle cx="435.0" cy="621.7" r="2.1"/><circle cx="430.3" cy="628.1" r="2.1"/><circle cx="427.0" cy="630.8" r="2.1"/><circle cx="547.5" cy="617.3" r="2.1"/><circle cx="476.8" cy="620.7" r="2.1"/><circle cx="468.2" cy="616.7" r="2.1"/><circle cx="491.0" cy="612.4" r="2.1"/><circle cx="476.7" cy="622.4" r="2.1"/><circle cx="524.9" cy="621.8" r="2.1"/><circle cx="532.4" cy="621.3" r="2.1"/><circle cx="639.0" cy="616.7" r="2.1"/><circle cx="642.3" cy="613.6" r="2.1"/><circle cx="634.5" cy="617.3" r="2.1"/><circle cx="614.6" cy="621.1" r="2.1"/><circle cx="651.6" cy="620.1" r="2.1"/><circle cx="575.7" cy="611.9" r="2.1"/><circle cx="592.8" cy="614.3" r="2.1"/><circle cx="662.3" cy="615.4" r="2.1"/><circle cx="662.9" cy="615.0" r="2.1"/><circle cx="622.9" cy="609.4" r="2.1"/><circle cx="583.0" cy="610.9" r="2.1"/><circle cx="625.9" cy="612.4" r="2.1"/><circle cx="606.2" cy="617.9" r="2.1"/><circle cx="662.6" cy="618.8" r="2.1"/><circle cx="622.8" cy="620.2" r="2.1"/><circle cx="610.7" cy="617.8" r="2.1"/><circle cx="635.9" cy="611.8" r="2.1"/><circle cx="598.2" cy="617.5" r="2.1"/><circle cx="617.4" cy="612.3" r="2.1"/><circle cx="597.4" cy="603.7" r="2.1"/><circle cx="610.2" cy="608.5" r="2.1"/><circle cx="624.6" cy="610.3" r="2.1"/><circle cx="639.9" cy="611.6" r="2.1"/><circle cx="637.4" cy="607.8" r="2.1"/><circle cx="583.9" cy="616.4" r="2.1"/><circle cx="619.6" cy="613.0" r="2.1"/><circle cx="653.1" cy="614.5" r="2.1"/><circle cx="649.3" cy="614.7" r="2.1"/><circle cx="595.3" cy="605.5" r="2.1"/><circle cx="635.9" cy="610.6" r="2.1"/><circle cx="606.7" cy="605.7" r="2.1"/><circle cx="594.3" cy="620.7" r="2.1"/><circle cx="590.5" cy="617.4" r="2.1"/><circle cx="615.9" cy="607.8" r="2.1"/><circle cx="588.4" cy="612.3" r="2.1"/><circle cx="595.5" cy="610.2" r="2.1"/><circle cx="562.8" cy="615.3" r="2.1"/><circle cx="672.9" cy="617.4" r="2.1"/><circle cx="637.1" cy="608.6" r="2.1"/><circle cx="582.3" cy="623.1" r="2.1"/><circle cx="594.0" cy="622.3" r="2.1"/><circle cx="633.9" cy="614.7" r="2.1"/><circle cx="632.9" cy="621.4" r="2.1"/><circle cx="585.0" cy="615.9" r="2.1"/><circle cx="659.0" cy="614.3" r="2.1"/><circle cx="640.6" cy="608.4" r="2.1"/><circle cx="581.9" cy="606.3" r="2.1"/><circle cx="669.2" cy="615.1" r="2.1"/><circle cx="570.5" cy="610.9" r="2.1"/><circle cx="601.3" cy="612.3" r="2.1"/><circle cx="640.1" cy="614.1" r="2.1"/><circle cx="576.0" cy="620.0" r="2.1"/><circle cx="640.2" cy="610.5" r="2.1"/><circle cx="635.6" cy="611.7" r="2.1"/><circle cx="596.5" cy="611.2" r="2.1"/><circle cx="607.7" cy="604.7" r="2.1"/><circle cx="592.7" cy="607.4" r="2.1"/><circle cx="587.5" cy="618.8" r="2.1"/><circle cx="645.6" cy="610.6" r="2.1"/><circle cx="573.3" cy="615.5" r="2.1"/><circle cx="608.8" cy="602.0" r="2.1"/><circle cx="580.8" cy="610.7" r="2.1"/><circle cx="594.0" cy="609.3" r="2.1"/><circle cx="597.1" cy="606.0" r="2.1"/><circle cx="660.5" cy="617.7" r="2.1"/><circle cx="571.6" cy="618.5" r="2.1"/><circle cx="615.9" cy="610.2" r="2.1"/><circle cx="613.3" cy="623.4" r="2.1"/><circle cx="580.6" cy="607.1" r="2.1"/><circle cx="637.0" cy="613.5" r="2.1"/><circle cx="621.1" cy="618.2" r="2.1"/><circle cx="658.2" cy="615.7" r="2.1"/><circle cx="590.3" cy="617.3" r="2.1"/><circle cx="613.1" cy="609.7" r="2.1"/><circle cx="608.5" cy="615.5" r="2.1"/><circle cx="641.2" cy="609.9" r="2.1"/><circle cx="597.0" cy="618.1" r="2.1"/><circle cx="621.8" cy="605.3" r="2.1"/><circle cx="601.8" cy="617.1" r="2.1"/><circle cx="611.5" cy="614.8" r="2.1"/><circle cx="593.1" cy="606.4" r="2.1"/><circle cx="634.5" cy="606.7" r="2.1"/><circle cx="654.9" cy="613.7" r="2.1"/><circle cx="660.8" cy="617.4" r="2.1"/><circle cx="645.2" cy="613.6" r="2.1"/><circle cx="559.9" cy="622.8" r="2.1"/><circle cx="583.0" cy="611.0" r="2.1"/><circle cx="590.3" cy="621.9" r="2.1"/><circle cx="599.4" cy="607.3" r="2.1"/><circle cx="642.5" cy="618.1" r="2.1"/><circle cx="609.1" cy="609.6" r="2.1"/><circle cx="659.4" cy="613.4" r="2.1"/><circle cx="624.9" cy="607.3" r="2.1"/><circle cx="624.7" cy="615.5" r="2.1"/><circle cx="635.8" cy="612.7" r="2.1"/><circle cx="649.5" cy="616.8" r="2.1"/><circle cx="577.2" cy="614.0" r="2.1"/><circle cx="639.8" cy="610.7" r="2.1"/><circle cx="662.6" cy="615.4" r="2.1"/><circle cx="633.8" cy="619.7" r="2.1"/><circle cx="610.2" cy="622.7" r="2.1"/><circle cx="649.6" cy="617.1" r="2.1"/><circle cx="663.2" cy="618.8" r="2.1"/><circle cx="582.1" cy="612.4" r="2.1"/><circle cx="672.2" cy="616.6" r="2.1"/><circle cx="651.0" cy="617.3" r="2.1"/><circle cx="663.8" cy="617.2" r="2.1"/><circle cx="636.9" cy="611.6" r="2.1"/><circle cx="631.9" cy="619.3" r="2.1"/><circle cx="605.4" cy="607.1" r="2.1"/><circle cx="605.7" cy="618.1" r="2.1"/><circle cx="564.7" cy="620.6" r="2.1"/><circle cx="633.5" cy="609.3" r="2.1"/><circle cx="602.7" cy="614.1" r="2.1"/><circle cx="618.4" cy="615.5" r="2.1"/><circle cx="616.8" cy="625.4" r="2.1"/><circle cx="571.3" cy="619.0" r="2.1"/><circle cx="667.9" cy="616.8" r="2.1"/><circle cx="567.1" cy="619.8" r="2.1"/><circle cx="669.0" cy="618.0" r="2.1"/><circle cx="582.1" cy="611.6" r="2.1"/><circle cx="631.6" cy="609.3" r="2.1"/><circle cx="582.9" cy="613.6" r="2.1"/><circle cx="627.5" cy="607.1" r="2.1"/><circle cx="658.5" cy="617.7" r="2.1"/><circle cx="561.5" cy="618.5" r="2.1"/><circle cx="637.0" cy="610.5" r="2.1"/><circle cx="637.9" cy="609.4" r="2.1"/><circle cx="626.8" cy="621.0" r="2.1"/><circle cx="671.9" cy="616.6" r="2.1"/><circle cx="619.9" cy="623.9" r="2.1"/><circle cx="616.3" cy="605.3" r="2.1"/><circle cx="638.5" cy="608.2" r="2.1"/><circle cx="646.3" cy="613.7" r="2.1"/><circle cx="665.4" cy="617.9" r="2.1"/><circle cx="563.9" cy="621.4" r="2.1"/><circle cx="576.7" cy="618.2" r="2.1"/><circle cx="564.3" cy="620.1" r="2.1"/><circle cx="602.6" cy="626.2" r="2.1"/><circle cx="644.8" cy="615.0" r="2.1"/><circle cx="648.1" cy="612.9" r="2.1"/><circle cx="627.0" cy="621.1" r="2.1"/><circle cx="616.3" cy="622.2" r="2.1"/><circle cx="603.0" cy="606.0" r="2.1"/><circle cx="639.9" cy="618.5" r="2.1"/><circle cx="662.1" cy="614.2" r="2.1"/><circle cx="602.1" cy="608.8" r="2.1"/><circle cx="587.6" cy="613.5" r="2.1"/><circle cx="610.3" cy="612.6" r="2.1"/><circle cx="583.3" cy="605.9" r="2.1"/><circle cx="574.7" cy="615.8" r="2.1"/><circle cx="567.7" cy="618.9" r="2.1"/><circle cx="636.5" cy="607.9" r="2.1"/><circle cx="639.5" cy="611.0" r="2.1"/><circle cx="621.1" cy="603.3" r="2.1"/><circle cx="561.7" cy="617.8" r="2.1"/><circle cx="588.4" cy="606.9" r="2.1"/><circle cx="585.2" cy="614.3" r="2.1"/><circle cx="649.8" cy="620.1" r="2.1"/><circle cx="656.1" cy="618.9" r="2.1"/><circle cx="635.6" cy="616.2" r="2.1"/><circle cx="583.4" cy="611.9" r="2.1"/><circle cx="629.7" cy="612.7" r="2.1"/><circle cx="596.8" cy="621.4" r="2.1"/><circle cx="587.0" cy="624.2" r="2.1"/><circle cx="563.2" cy="621.3" r="2.1"/><circle cx="573.4" cy="609.9" r="2.1"/><circle cx="618.6" cy="608.3" r="2.1"/><circle cx="659.7" cy="615.3" r="2.1"/><circle cx="628.1" cy="611.3" r="2.1"/><circle cx="590.8" cy="623.7" r="2.1"/><circle cx="632.3" cy="616.7" r="2.1"/><circle cx="586.9" cy="615.3" r="2.1"/><circle cx="582.7" cy="613.0" r="2.1"/><circle cx="661.5" cy="616.5" r="2.1"/><circle cx="616.9" cy="611.4" r="2.1"/><circle cx="651.0" cy="615.3" r="2.1"/><circle cx="615.0" cy="621.3" r="2.1"/><circle cx="621.1" cy="602.0" r="2.1"/><circle cx="618.4" cy="606.7" r="2.1"/><circle cx="653.5" cy="618.1" r="2.1"/><circle cx="646.0" cy="616.9" r="2.1"/><circle cx="585.7" cy="605.5" r="2.1"/><circle cx="645.6" cy="616.7" r="2.1"/><circle cx="668.0" cy="618.8" r="2.1"/><circle cx="669.0" cy="614.8" r="2.1"/><circle cx="604.5" cy="619.8" r="2.1"/><circle cx="642.7" cy="618.2" r="2.1"/><circle cx="607.5" cy="626.5" r="2.1"/><circle cx="566.8" cy="622.9" r="2.1"/><circle cx="563.7" cy="619.4" r="2.1"/><circle cx="576.9" cy="613.8" r="2.1"/><circle cx="625.1" cy="603.0" r="2.1"/><circle cx="590.3" cy="624.6" r="2.1"/><circle cx="595.8" cy="624.7" r="2.1"/><circle cx="655.2" cy="612.7" r="2.1"/><circle cx="628.4" cy="604.3" r="2.1"/><circle cx="615.1" cy="619.7" r="2.1"/><circle cx="622.4" cy="607.5" r="2.1"/><circle cx="601.6" cy="610.7" r="2.1"/><circle cx="644.9" cy="613.5" r="2.1"/><circle cx="650.0" cy="612.7" r="2.1"/><circle cx="654.3" cy="614.6" r="2.1"/><circle cx="592.7" cy="609.5" r="2.1"/><circle cx="618.5" cy="617.5" r="2.1"/><circle cx="605.9" cy="622.0" r="2.1"/><circle cx="664.3" cy="616.5" r="2.1"/><circle cx="617.4" cy="604.0" r="2.1"/><circle cx="585.6" cy="609.3" r="2.1"/><circle cx="567.5" cy="621.6" r="2.1"/><circle cx="580.6" cy="613.5" r="2.1"/><circle cx="577.1" cy="618.5" r="2.1"/><circle cx="618.6" cy="621.4" r="2.1"/><circle cx="600.0" cy="605.1" r="2.1"/><circle cx="660.6" cy="613.5" r="2.1"/><circle cx="599.3" cy="608.4" r="2.1"/><circle cx="650.5" cy="612.1" r="2.1"/><circle cx="670.1" cy="618.5" r="2.1"/><circle cx="616.9" cy="610.1" r="2.1"/><circle cx="669.9" cy="617.1" r="2.1"/><circle cx="633.0" cy="610.6" r="2.1"/><circle cx="626.1" cy="620.1" r="2.1"/><circle cx="596.9" cy="612.6" r="2.1"/><circle cx="634.6" cy="611.1" r="2.1"/><circle cx="620.9" cy="606.3" r="2.1"/><circle cx="602.7" cy="619.1" r="2.1"/><circle cx="570.3" cy="616.3" r="2.1"/><circle cx="594.6" cy="608.9" r="2.1"/><circle cx="594.7" cy="611.3" r="2.1"/><circle cx="656.4" cy="619.6" r="2.1"/><circle cx="633.8" cy="620.1" r="2.1"/><circle cx="595.9" cy="617.6" r="2.1"/><circle cx="660.6" cy="613.8" r="2.1"/><circle cx="664.5" cy="616.2" r="2.1"/><circle cx="666.8" cy="618.3" r="2.1"/><circle cx="591.9" cy="615.4" r="2.1"/><circle cx="559.8" cy="623.4" r="2.1"/><circle cx="572.1" cy="610.9" r="2.1"/><circle cx="622.8" cy="608.8" r="2.1"/><circle cx="612.8" cy="608.8" r="2.1"/><circle cx="642.6" cy="612.6" r="2.1"/><circle cx="609.0" cy="614.4" r="2.1"/><circle cx="605.2" cy="612.9" r="2.1"/><circle cx="625.5" cy="613.6" r="2.1"/><circle cx="623.5" cy="620.7" r="2.1"/><circle cx="559.9" cy="623.7" r="2.1"/><circle cx="596.7" cy="614.0" r="2.1"/><circle cx="618.3" cy="623.2" r="2.1"/><circle cx="617.8" cy="604.0" r="2.1"/><circle cx="645.6" cy="612.4" r="2.1"/><circle cx="462.3" cy="644.7" r="2.1"/><circle cx="465.8" cy="643.1" r="2.1"/><circle cx="421.0" cy="632.0" r="2.1"/><circle cx="424.0" cy="634.0" r="2.1"/><circle cx="417.0" cy="630.0" r="2.1"/><circle cx="603.0" cy="630.0" r="2.1"/><circle cx="606.0" cy="632.0" r="2.1"/><circle cx="608.0" cy="629.0" r="2.1"/><circle cx="482.0" cy="609.0" r="2.1"/><circle cx="487.0" cy="608.0" r="2.1"/><circle cx="551.0" cy="615.0" r="2.1"/><circle cx="600.0" cy="599.0" r="2.1"/><circle cx="606.0" cy="598.0" r="2.1"/><circle cx="612.0" cy="599.0" r="2.1"/><circle cx="618.0" cy="600.0" r="2.1"/><circle cx="592.0" cy="601.0" r="2.1"/><circle cx="585.0" cy="603.0" r="2.1"/>
</g>
<g fill="#30BEF0" fill-opacity="0.85">
<circle cx="421.4" cy="619.4" r="2.1"/><circle cx="431.7" cy="617.0" r="2.1"/><circle cx="418.7" cy="623.4" r="2.1"/><circle cx="461.9" cy="623.0" r="2.1"/><circle cx="417.4" cy="623.6" r="2.1"/><circle cx="435.6" cy="618.1" r="2.1"/><circle cx="462.4" cy="625.3" r="2.1"/><circle cx="415.5" cy="620.6" r="2.1"/><circle cx="515.2" cy="622.1" r="2.1"/><circle cx="490.7" cy="622.2" r="2.1"/><circle cx="502.5" cy="620.1" r="2.1"/><circle cx="534.6" cy="619.7" r="2.1"/><circle cx="417.2" cy="618.0" r="2.1"/><circle cx="465.7" cy="620.9" r="2.1"/><circle cx="432.8" cy="620.3" r="2.1"/><circle cx="522.4" cy="621.7" r="2.1"/><circle cx="490.0" cy="615.2" r="2.1"/><circle cx="448.2" cy="627.8" r="2.1"/><circle cx="489.2" cy="616.2" r="2.1"/><circle cx="438.4" cy="617.5" r="2.1"/><circle cx="490.1" cy="617.1" r="2.1"/><circle cx="470.3" cy="614.1" r="2.1"/><circle cx="538.2" cy="619.9" r="2.1"/><circle cx="470.7" cy="623.2" r="2.1"/><circle cx="552.3" cy="618.6" r="2.1"/><circle cx="521.1" cy="618.3" r="2.1"/><circle cx="413.7" cy="623.2" r="2.1"/><circle cx="489.2" cy="619.3" r="2.1"/><circle cx="489.9" cy="625.1" r="2.1"/><circle cx="463.3" cy="622.3" r="2.1"/><circle cx="462.0" cy="625.5" r="2.1"/><circle cx="450.9" cy="625.6" r="2.1"/><circle cx="482.2" cy="615.5" r="2.1"/><circle cx="513.2" cy="619.1" r="2.1"/><circle cx="486.8" cy="615.1" r="2.1"/><circle cx="434.4" cy="626.3" r="2.1"/><circle cx="437.9" cy="626.2" r="2.1"/><circle cx="477.4" cy="625.9" r="2.1"/><circle cx="498.5" cy="622.7" r="2.1"/><circle cx="455.0" cy="619.5" r="2.1"/><circle cx="482.3" cy="624.7" r="2.1"/><circle cx="537.0" cy="619.9" r="2.1"/><circle cx="528.6" cy="618.9" r="2.1"/><circle cx="517.6" cy="620.2" r="2.1"/><circle cx="487.6" cy="619.2" r="2.1"/><circle cx="494.8" cy="616.2" r="2.1"/><circle cx="492.6" cy="621.8" r="2.1"/><circle cx="453.5" cy="620.4" r="2.1"/><circle cx="501.9" cy="623.3" r="2.1"/><circle cx="456.4" cy="627.2" r="2.1"/><circle cx="499.1" cy="623.2" r="2.1"/><circle cx="413.0" cy="624.2" r="2.1"/><circle cx="521.5" cy="619.1" r="2.1"/><circle cx="512.1" cy="620.2" r="2.1"/><circle cx="479.7" cy="626.5" r="2.1"/><circle cx="415.1" cy="624.7" r="2.1"/><circle cx="465.4" cy="615.3" r="2.1"/><circle cx="434.1" cy="621.4" r="2.1"/><circle cx="513.6" cy="622.0" r="2.1"/><circle cx="530.8" cy="619.4" r="2.1"/><circle cx="474.4" cy="618.2" r="2.1"/><circle cx="464.3" cy="617.2" r="2.1"/><circle cx="471.8" cy="621.6" r="2.1"/><circle cx="444.4" cy="625.0" r="2.1"/><circle cx="477.1" cy="617.5" r="2.1"/><circle cx="441.0" cy="622.6" r="2.1"/><circle cx="441.8" cy="622.3" r="2.1"/><circle cx="431.9" cy="627.0" r="2.1"/><circle cx="508.9" cy="619.5" r="2.1"/><circle cx="495.0" cy="616.8" r="2.1"/><circle cx="540.8" cy="619.5" r="2.1"/><circle cx="490.2" cy="615.8" r="2.1"/><circle cx="434.3" cy="629.5" r="2.1"/><circle cx="437.2" cy="619.1" r="2.1"/><circle cx="530.2" cy="620.1" r="2.1"/><circle cx="459.3" cy="619.3" r="2.1"/><circle cx="430.5" cy="616.0" r="2.1"/><circle cx="432.1" cy="620.0" r="2.1"/><circle cx="516.8" cy="619.5" r="2.1"/><circle cx="540.7" cy="619.6" r="2.1"/><circle cx="468.1" cy="618.0" r="2.1"/><circle cx="451.0" cy="621.0" r="2.1"/><circle cx="454.9" cy="624.7" r="2.1"/><circle cx="517.5" cy="621.2" r="2.1"/><circle cx="495.5" cy="622.9" r="2.1"/><circle cx="504.2" cy="619.4" r="2.1"/><circle cx="448.2" cy="615.6" r="2.1"/><circle cx="444.1" cy="621.5" r="2.1"/><circle cx="460.9" cy="614.4" r="2.1"/><circle cx="539.2" cy="619.4" r="2.1"/><circle cx="465.5" cy="620.3" r="2.1"/><circle cx="441.4" cy="615.4" r="2.1"/><circle cx="482.7" cy="620.5" r="2.1"/><circle cx="539.1" cy="619.0" r="2.1"/><circle cx="451.3" cy="614.2" r="2.1"/><circle cx="508.4" cy="620.4" r="2.1"/><circle cx="486.8" cy="618.8" r="2.1"/><circle cx="430.2" cy="622.9" r="2.1"/><circle cx="508.6" cy="622.6" r="2.1"/><circle cx="449.2" cy="624.6" r="2.1"/><circle cx="488.3" cy="621.0" r="2.1"/><circle cx="451.0" cy="629.1" r="2.1"/><circle cx="418.3" cy="621.7" r="2.1"/><circle cx="469.4" cy="617.7" r="2.1"/><circle cx="461.4" cy="624.9" r="2.1"/><circle cx="417.4" cy="625.8" r="2.1"/><circle cx="446.3" cy="612.4" r="2.1"/><circle cx="522.9" cy="620.1" r="2.1"/><circle cx="450.6" cy="615.9" r="2.1"/><circle cx="461.9" cy="614.5" r="2.1"/><circle cx="528.4" cy="619.4" r="2.1"/><circle cx="457.7" cy="620.4" r="2.1"/><circle cx="483.4" cy="613.7" r="2.1"/><circle cx="456.9" cy="619.5" r="2.1"/><circle cx="431.5" cy="614.0" r="2.1"/><circle cx="542.6" cy="619.4" r="2.1"/><circle cx="445.8" cy="616.4" r="2.1"/><circle cx="511.0" cy="622.0" r="2.1"/><circle cx="413.2" cy="622.8" r="2.1"/><circle cx="416.0" cy="618.8" r="2.1"/><circle cx="473.9" cy="612.9" r="2.1"/><circle cx="473.0" cy="619.6" r="2.1"/><circle cx="543.4" cy="619.5" r="2.1"/><circle cx="479.4" cy="621.8" r="2.1"/><circle cx="471.3" cy="614.4" r="2.1"/><circle cx="496.0" cy="622.7" r="2.1"/><circle cx="553.2" cy="618.3" r="2.1"/><circle cx="510.4" cy="620.5" r="2.1"/><circle cx="438.7" cy="614.0" r="2.1"/><circle cx="503.3" cy="619.1" r="2.1"/><circle cx="433.3" cy="621.8" r="2.1"/><circle cx="489.8" cy="615.7" r="2.1"/><circle cx="425.4" cy="621.9" r="2.1"/><circle cx="465.1" cy="612.7" r="2.1"/><circle cx="426.7" cy="617.7" r="2.1"/><circle cx="421.1" cy="623.4" r="2.1"/><circle cx="457.8" cy="617.7" r="2.1"/><circle cx="437.3" cy="619.1" r="2.1"/><circle cx="464.9" cy="617.6" r="2.1"/><circle cx="476.0" cy="613.2" r="2.1"/><circle cx="457.1" cy="612.1" r="2.1"/><circle cx="533.1" cy="620.3" r="2.1"/><circle cx="412.9" cy="624.5" r="2.1"/><circle cx="446.1" cy="620.6" r="2.1"/><circle cx="449.9" cy="619.5" r="2.1"/><circle cx="456.9" cy="620.7" r="2.1"/><circle cx="522.2" cy="619.6" r="2.1"/><circle cx="462.5" cy="625.7" r="2.1"/><circle cx="493.5" cy="617.6" r="2.1"/><circle cx="418.4" cy="629.7" r="2.1"/><circle cx="485.9" cy="616.1" r="2.1"/><circle cx="477.0" cy="618.0" r="2.1"/><circle cx="443.3" cy="612.8" r="2.1"/><circle cx="506.1" cy="618.6" r="2.1"/><circle cx="491.0" cy="615.4" r="2.1"/><circle cx="469.4" cy="615.4" r="2.1"/><circle cx="424.9" cy="620.8" r="2.1"/><circle cx="467.3" cy="617.5" r="2.1"/><circle cx="468.2" cy="625.5" r="2.1"/><circle cx="525.8" cy="619.5" r="2.1"/><circle cx="424.1" cy="621.1" r="2.1"/><circle cx="521.5" cy="620.5" r="2.1"/><circle cx="472.1" cy="621.5" r="2.1"/><circle cx="545.6" cy="618.8" r="2.1"/><circle cx="423.0" cy="625.6" r="2.1"/><circle cx="478.7" cy="619.6" r="2.1"/><circle cx="530.7" cy="620.7" r="2.1"/><circle cx="432.0" cy="624.5" r="2.1"/><circle cx="446.0" cy="628.5" r="2.1"/><circle cx="508.5" cy="620.1" r="2.1"/><circle cx="532.8" cy="620.7" r="2.1"/><circle cx="413.9" cy="626.2" r="2.1"/><circle cx="490.0" cy="619.2" r="2.1"/><circle cx="426.7" cy="624.7" r="2.1"/><circle cx="532.8" cy="620.5" r="2.1"/><circle cx="489.5" cy="619.3" r="2.1"/><circle cx="446.2" cy="619.4" r="2.1"/><circle cx="536.8" cy="620.1" r="2.1"/><circle cx="459.1" cy="616.9" r="2.1"/><circle cx="429.3" cy="628.1" r="2.1"/><circle cx="493.7" cy="620.2" r="2.1"/><circle cx="441.7" cy="628.9" r="2.1"/><circle cx="505.6" cy="622.8" r="2.1"/><circle cx="525.9" cy="620.3" r="2.1"/><circle cx="532.9" cy="619.7" r="2.1"/><circle cx="455.8" cy="616.2" r="2.1"/><circle cx="444.1" cy="624.5" r="2.1"/><circle cx="511.5" cy="618.1" r="2.1"/><circle cx="446.3" cy="616.4" r="2.1"/><circle cx="449.4" cy="620.2" r="2.1"/><circle cx="538.4" cy="619.8" r="2.1"/><circle cx="510.4" cy="619.8" r="2.1"/><circle cx="470.5" cy="614.8" r="2.1"/><circle cx="464.0" cy="613.6" r="2.1"/><circle cx="433.0" cy="629.5" r="2.1"/><circle cx="529.0" cy="620.7" r="2.1"/><circle cx="507.0" cy="619.3" r="2.1"/><circle cx="522.4" cy="620.5" r="2.1"/><circle cx="495.1" cy="618.4" r="2.1"/><circle cx="465.2" cy="621.5" r="2.1"/><circle cx="528.5" cy="619.7" r="2.1"/><circle cx="487.9" cy="623.2" r="2.1"/><circle cx="521.6" cy="620.7" r="2.1"/><circle cx="495.9" cy="621.6" r="2.1"/><circle cx="506.2" cy="621.6" r="2.1"/><circle cx="470.4" cy="618.9" r="2.1"/><circle cx="444.7" cy="616.1" r="2.1"/><circle cx="439.1" cy="626.3" r="2.1"/><circle cx="409.9" cy="622.7" r="2.1"/><circle cx="438.9" cy="624.0" r="2.1"/><circle cx="461.5" cy="618.2" r="2.1"/><circle cx="509.2" cy="618.7" r="2.1"/><circle cx="536.8" cy="619.3" r="2.1"/><circle cx="462.0" cy="613.9" r="2.1"/><circle cx="440.9" cy="626.8" r="2.1"/><circle cx="507.9" cy="617.4" r="2.1"/><circle cx="458.9" cy="624.6" r="2.1"/><circle cx="428.2" cy="618.5" r="2.1"/><circle cx="527.4" cy="620.4" r="2.1"/><circle cx="530.9" cy="619.9" r="2.1"/><circle cx="456.3" cy="624.8" r="2.1"/><circle cx="506.9" cy="618.3" r="2.1"/><circle cx="513.3" cy="622.3" r="2.1"/><circle cx="457.6" cy="623.6" r="2.1"/><circle cx="439.7" cy="618.7" r="2.1"/><circle cx="493.5" cy="617.5" r="2.1"/><circle cx="500.8" cy="620.6" r="2.1"/><circle cx="460.8" cy="625.6" r="2.1"/><circle cx="417.9" cy="621.0" r="2.1"/><circle cx="476.3" cy="625.0" r="2.1"/><circle cx="441.8" cy="628.1" r="2.1"/><circle cx="443.3" cy="629.2" r="2.1"/><circle cx="548.9" cy="619.1" r="2.1"/><circle cx="461.9" cy="626.3" r="2.1"/><circle cx="470.7" cy="622.0" r="2.1"/><circle cx="510.7" cy="618.0" r="2.1"/><circle cx="501.1" cy="622.0" r="2.1"/><circle cx="481.5" cy="620.3" r="2.1"/><circle cx="477.6" cy="621.1" r="2.1"/><circle cx="414.6" cy="623.7" r="2.1"/><circle cx="593.3" cy="615.9" r="2.1"/><circle cx="597.8" cy="610.6" r="2.1"/><circle cx="575.7" cy="615.2" r="2.1"/><circle cx="576.5" cy="616.3" r="2.1"/><circle cx="593.6" cy="615.0" r="2.1"/><circle cx="566.6" cy="620.9" r="2.1"/><circle cx="586.5" cy="619.7" r="2.1"/><circle cx="581.6" cy="610.3" r="2.1"/><circle cx="599.0" cy="617.0" r="2.1"/><circle cx="567.3" cy="618.2" r="2.1"/><circle cx="585.5" cy="614.2" r="2.1"/><circle cx="569.0" cy="621.1" r="2.1"/><circle cx="562.5" cy="620.8" r="2.1"/><circle cx="567.3" cy="620.6" r="2.1"/><circle cx="573.6" cy="618.1" r="2.1"/><circle cx="599.9" cy="609.4" r="2.1"/><circle cx="589.9" cy="614.3" r="2.1"/><circle cx="565.7" cy="621.3" r="2.1"/><circle cx="592.3" cy="614.1" r="2.1"/><circle cx="590.5" cy="612.6" r="2.1"/><circle cx="577.4" cy="610.7" r="2.1"/><circle cx="572.0" cy="619.1" r="2.1"/><circle cx="580.2" cy="611.6" r="2.1"/><circle cx="597.0" cy="615.7" r="2.1"/><circle cx="592.6" cy="619.6" r="2.1"/><circle cx="588.6" cy="612.4" r="2.1"/><circle cx="563.7" cy="621.0" r="2.1"/><circle cx="563.4" cy="623.0" r="2.1"/><circle cx="567.8" cy="619.2" r="2.1"/><circle cx="562.5" cy="622.5" r="2.1"/><circle cx="583.8" cy="616.3" r="2.1"/><circle cx="576.3" cy="612.4" r="2.1"/><circle cx="568.1" cy="617.7" r="2.1"/><circle cx="580.9" cy="614.3" r="2.1"/><circle cx="568.5" cy="615.4" r="2.1"/><circle cx="564.1" cy="620.9" r="2.1"/><circle cx="591.4" cy="618.8" r="2.1"/><circle cx="591.8" cy="614.9" r="2.1"/><circle cx="569.1" cy="621.0" r="2.1"/><circle cx="588.7" cy="613.7" r="2.1"/><circle cx="591.6" cy="618.5" r="2.1"/><circle cx="576.6" cy="612.3" r="2.1"/><circle cx="586.0" cy="610.7" r="2.1"/><circle cx="573.4" cy="614.0" r="2.1"/><circle cx="595.3" cy="612.0" r="2.1"/><circle cx="573.9" cy="617.6" r="2.1"/><circle cx="598.1" cy="608.9" r="2.1"/><circle cx="595.4" cy="609.5" r="2.1"/><circle cx="595.4" cy="611.5" r="2.1"/><circle cx="581.3" cy="611.5" r="2.1"/><circle cx="571.7" cy="620.4" r="2.1"/><circle cx="598.6" cy="607.1" r="2.1"/><circle cx="596.2" cy="612.8" r="2.1"/><circle cx="598.7" cy="612.4" r="2.1"/><circle cx="597.1" cy="615.6" r="2.1"/><circle cx="573.3" cy="614.5" r="2.1"/><circle cx="579.7" cy="610.2" r="2.1"/><circle cx="571.0" cy="619.1" r="2.1"/><circle cx="576.6" cy="617.9" r="2.1"/><circle cx="579.9" cy="610.8" r="2.1"/><circle cx="579.3" cy="616.0" r="2.1"/><circle cx="578.4" cy="616.4" r="2.1"/><circle cx="566.4" cy="619.5" r="2.1"/><circle cx="586.9" cy="609.4" r="2.1"/><circle cx="569.6" cy="619.1" r="2.1"/><circle cx="573.1" cy="619.1" r="2.1"/><circle cx="567.6" cy="619.3" r="2.1"/><circle cx="574.8" cy="618.6" r="2.1"/><circle cx="562.1" cy="622.0" r="2.1"/><circle cx="582.5" cy="614.5" r="2.1"/><circle cx="599.4" cy="609.1" r="2.1"/><circle cx="587.3" cy="616.9" r="2.1"/><circle cx="583.2" cy="619.7" r="2.1"/><circle cx="573.9" cy="615.5" r="2.1"/><circle cx="580.5" cy="614.3" r="2.1"/><circle cx="585.8" cy="614.6" r="2.1"/><circle cx="592.8" cy="614.2" r="2.1"/><circle cx="591.2" cy="610.0" r="2.1"/><circle cx="582.6" cy="616.5" r="2.1"/><circle cx="574.7" cy="615.9" r="2.1"/><circle cx="647.4" cy="616.9" r="2.1"/><circle cx="649.3" cy="618.7" r="2.1"/><circle cx="647.8" cy="615.2" r="2.1"/><circle cx="667.9" cy="615.8" r="2.1"/><circle cx="664.1" cy="616.9" r="2.1"/><circle cx="640.4" cy="612.4" r="2.1"/><circle cx="601.8" cy="620.7" r="2.1"/><circle cx="620.1" cy="618.9" r="2.1"/><circle cx="667.1" cy="617.6" r="2.1"/><circle cx="660.8" cy="614.6" r="2.1"/><circle cx="600.9" cy="613.5" r="2.1"/><circle cx="603.3" cy="621.8" r="2.1"/><circle cx="658.4" cy="618.7" r="2.1"/><circle cx="615.7" cy="614.1" r="2.1"/><circle cx="650.1" cy="616.6" r="2.1"/><circle cx="630.4" cy="620.3" r="2.1"/><circle cx="612.7" cy="619.0" r="2.1"/><circle cx="637.3" cy="618.1" r="2.1"/><circle cx="633.7" cy="618.0" r="2.1"/><circle cx="647.3" cy="616.8" r="2.1"/><circle cx="615.0" cy="613.7" r="2.1"/><circle cx="610.0" cy="612.3" r="2.1"/><circle cx="613.8" cy="617.9" r="2.1"/><circle cx="625.4" cy="619.3" r="2.1"/><circle cx="651.8" cy="615.3" r="2.1"/><circle cx="618.6" cy="616.2" r="2.1"/><circle cx="654.8" cy="617.2" r="2.1"/><circle cx="659.6" cy="614.5" r="2.1"/><circle cx="627.3" cy="621.4" r="2.1"/><circle cx="603.7" cy="615.1" r="2.1"/><circle cx="626.8" cy="618.0" r="2.1"/><circle cx="666.3" cy="616.2" r="2.1"/><circle cx="649.3" cy="614.6" r="2.1"/><circle cx="666.2" cy="615.2" r="2.1"/><circle cx="655.1" cy="615.4" r="2.1"/><circle cx="622.1" cy="616.6" r="2.1"/><circle cx="628.5" cy="615.9" r="2.1"/><circle cx="606.4" cy="616.8" r="2.1"/><circle cx="637.1" cy="617.7" r="2.1"/><circle cx="622.7" cy="613.3" r="2.1"/><circle cx="643.1" cy="616.5" r="2.1"/><circle cx="658.4" cy="616.5" r="2.1"/><circle cx="620.1" cy="616.3" r="2.1"/><circle cx="627.6" cy="620.9" r="2.1"/><circle cx="614.8" cy="619.7" r="2.1"/><circle cx="657.4" cy="619.0" r="2.1"/><circle cx="618.6" cy="618.2" r="2.1"/><circle cx="609.2" cy="613.2" r="2.1"/><circle cx="646.8" cy="614.0" r="2.1"/><circle cx="668.4" cy="618.0" r="2.1"/><circle cx="611.6" cy="619.7" r="2.1"/><circle cx="642.5" cy="616.4" r="2.1"/><circle cx="646.6" cy="615.8" r="2.1"/><circle cx="625.3" cy="618.5" r="2.1"/><circle cx="640.9" cy="616.9" r="2.1"/><circle cx="615.6" cy="620.2" r="2.1"/><circle cx="632.7" cy="617.9" r="2.1"/><circle cx="657.7" cy="616.9" r="2.1"/><circle cx="626.3" cy="613.6" r="2.1"/><circle cx="655.1" cy="618.1" r="2.1"/><circle cx="661.9" cy="617.1" r="2.1"/><circle cx="657.6" cy="616.4" r="2.1"/><circle cx="645.8" cy="613.8" r="2.1"/><circle cx="658.5" cy="616.8" r="2.1"/><circle cx="644.4" cy="619.5" r="2.1"/><circle cx="643.5" cy="616.1" r="2.1"/><circle cx="656.5" cy="617.2" r="2.1"/><circle cx="625.0" cy="619.2" r="2.1"/><circle cx="646.3" cy="616.6" r="2.1"/><circle cx="649.3" cy="614.5" r="2.1"/><circle cx="603.3" cy="621.4" r="2.1"/><circle cx="649.3" cy="615.4" r="2.1"/><circle cx="645.1" cy="614.6" r="2.1"/><circle cx="638.3" cy="615.2" r="2.1"/><circle cx="612.4" cy="618.5" r="2.1"/><circle cx="613.3" cy="620.0" r="2.1"/><circle cx="635.8" cy="619.3" r="2.1"/><circle cx="631.3" cy="617.0" r="2.1"/><circle cx="616.8" cy="613.8" r="2.1"/><circle cx="653.3" cy="617.3" r="2.1"/><circle cx="644.7" cy="616.9" r="2.1"/><circle cx="616.7" cy="619.1" r="2.1"/><circle cx="640.1" cy="613.6" r="2.1"/><circle cx="612.6" cy="615.1" r="2.1"/><circle cx="610.5" cy="615.9" r="2.1"/><circle cx="640.4" cy="618.0" r="2.1"/><circle cx="656.4" cy="614.6" r="2.1"/><circle cx="614.4" cy="615.7" r="2.1"/><circle cx="637.7" cy="616.5" r="2.1"/><circle cx="642.3" cy="616.5" r="2.1"/><circle cx="626.0" cy="617.6" r="2.1"/><circle cx="653.6" cy="618.3" r="2.1"/><circle cx="625.7" cy="613.2" r="2.1"/><circle cx="668.6" cy="618.8" r="2.1"/><circle cx="605.3" cy="612.2" r="2.1"/><circle cx="639.3" cy="615.4" r="2.1"/><circle cx="613.8" cy="621.4" r="2.1"/><circle cx="666.6" cy="617.5" r="2.1"/><circle cx="652.8" cy="615.5" r="2.1"/><circle cx="628.2" cy="621.4" r="2.1"/><circle cx="637.1" cy="620.7" r="2.1"/><circle cx="630.7" cy="616.7" r="2.1"/><circle cx="643.6" cy="612.8" r="2.1"/><circle cx="617.9" cy="619.1" r="2.1"/><circle cx="649.0" cy="614.2" r="2.1"/><circle cx="629.1" cy="619.5" r="2.1"/><circle cx="660.7" cy="619.2" r="2.1"/><circle cx="620.9" cy="616.8" r="2.1"/><circle cx="605.1" cy="612.6" r="2.1"/><circle cx="624.0" cy="617.9" r="2.1"/><circle cx="638.5" cy="619.3" r="2.1"/><circle cx="650.2" cy="618.6" r="2.1"/><circle cx="635.9" cy="619.6" r="2.1"/><circle cx="633.3" cy="620.2" r="2.1"/><circle cx="657.4" cy="618.1" r="2.1"/><circle cx="608.0" cy="614.9" r="2.1"/><circle cx="608.8" cy="618.5" r="2.1"/><circle cx="634.2" cy="615.8" r="2.1"/><circle cx="647.7" cy="617.6" r="2.1"/><circle cx="654.3" cy="617.4" r="2.1"/><circle cx="630.9" cy="616.3" r="2.1"/><circle cx="655.5" cy="617.0" r="2.1"/><circle cx="601.7" cy="614.9" r="2.1"/><circle cx="637.6" cy="619.4" r="2.1"/><circle cx="635.3" cy="616.3" r="2.1"/><circle cx="645.8" cy="617.6" r="2.1"/><circle cx="666.1" cy="616.4" r="2.1"/><circle cx="628.9" cy="617.8" r="2.1"/><circle cx="661.2" cy="616.7" r="2.1"/><circle cx="669.1" cy="618.4" r="2.1"/><circle cx="605.0" cy="603.0" r="2.1"/><circle cx="612.0" cy="604.0" r="2.1"/><circle cx="620.0" cy="602.0" r="2.1"/><circle cx="627.0" cy="606.0" r="2.1"/><circle cx="634.0" cy="608.0" r="2.1"/><circle cx="588.0" cy="609.0" r="2.1"/>
</g>
</g>
<rect x="395.5" y="515.8" width="288.3" height="214.4" fill="none" stroke="#8c8c8c" stroke-width="1.25"/>
<line x1="393.0" y1="515.8" x2="395.5" y2="515.8" stroke="#555" stroke-width="0.8"/>
<text x="391.5" y="519.4" font-size="10.5" text-anchor="end">2.0</text>
<line x1="393.0" y1="542.6" x2="395.5" y2="542.6" stroke="#555" stroke-width="0.8"/>
<text x="391.5" y="546.2" font-size="10.5" text-anchor="end">1.5</text>
<line x1="393.0" y1="569.4" x2="395.5" y2="569.4" stroke="#555" stroke-width="0.8"/>
<text x="391.5" y="573.0" font-size="10.5" text-anchor="end">1.0</text>
<line x1="393.0" y1="596.2" x2="395.5" y2="596.2" stroke="#555" stroke-width="0.8"/>
<text x="391.5" y="599.8" font-size="10.5" text-anchor="end">0.5</text>
<line x1="393.0" y1="623.0" x2="395.5" y2="623.0" stroke="#555" stroke-width="0.8"/>
<text x="391.5" y="626.6" font-size="10.5" text-anchor="end">0.0</text>
<line x1="393.0" y1="649.8" x2="395.5" y2="649.8" stroke="#555" stroke-width="0.8"/>
<text x="391.5" y="653.4" font-size="10.5" text-anchor="end">−0.5</text>
<line x1="393.0" y1="676.6" x2="395.5" y2="676.6" stroke="#555" stroke-width="0.8"/>
<text x="391.5" y="680.2" font-size="10.5" text-anchor="end">−1.0</text>
<line x1="393.0" y1="703.4" x2="395.5" y2="703.4" stroke="#555" stroke-width="0.8"/>
<text x="391.5" y="707.0" font-size="10.5" text-anchor="end">−1.5</text>
<line x1="393.0" y1="730.2" x2="395.5" y2="730.2" stroke="#555" stroke-width="0.8"/>
<text x="391.5" y="733.8" font-size="10.5" text-anchor="end">−2.0</text>
<line x1="416.7" y1="730.2" x2="416.7" y2="732.7" stroke="#555" stroke-width="0.8"/>
<text x="416.7" y="742.2" font-size="10.5" text-anchor="middle">950</text>
<line x1="457.0" y1="730.2" x2="457.0" y2="732.7" stroke="#555" stroke-width="0.8"/>
<text x="457.0" y="742.2" font-size="10.5" text-anchor="middle">1000</text>
<line x1="497.3" y1="730.2" x2="497.3" y2="732.7" stroke="#555" stroke-width="0.8"/>
<text x="497.3" y="742.2" font-size="10.5" text-anchor="middle">1050</text>
<line x1="537.6" y1="730.2" x2="537.6" y2="732.7" stroke="#555" stroke-width="0.8"/>
<text x="537.6" y="742.2" font-size="10.5" text-anchor="middle">1100</text>
<line x1="578.0" y1="730.2" x2="578.0" y2="732.7" stroke="#555" stroke-width="0.8"/>
<text x="578.0" y="742.2" font-size="10.5" text-anchor="middle">1150</text>
<line x1="618.3" y1="730.2" x2="618.3" y2="732.7" stroke="#555" stroke-width="0.8"/>
<text x="618.3" y="742.2" font-size="10.5" text-anchor="middle">1200</text>
<line x1="658.6" y1="730.2" x2="658.6" y2="732.7" stroke="#555" stroke-width="0.8"/>
<text x="658.6" y="742.2" font-size="10.5" text-anchor="middle">1250</text>
<text x="538.2" y="754.7" font-size="13.4" text-anchor="middle">Actual</text>
<text transform="translate(368.9,622.4) rotate(-90)" font-size="13.2" text-anchor="middle">Relative Error (%)</text>
<text x="671.0" y="717.8" font-size="15.6" text-anchor="end">DNN</text>
<rect x="598.6" y="520.4" width="80.2" height="27.7" rx="2" fill="#fff" fill-opacity="0.8" stroke="#ddd" stroke-width="0.8"/>
<circle cx="611.1" cy="528.0" r="2.6" fill="#F5D425" stroke="#1a1a1a" stroke-width="0.5"/>
<circle cx="611.1" cy="540.5" r="2.6" fill="#30BEF0" stroke="#1a1a1a" stroke-width="0.5"/>
<text x="627.7" y="530.7" font-size="9">Training data</text>
<text x="627.7" y="543.2" font-size="9">Test data</text>
</svg></body></html>
